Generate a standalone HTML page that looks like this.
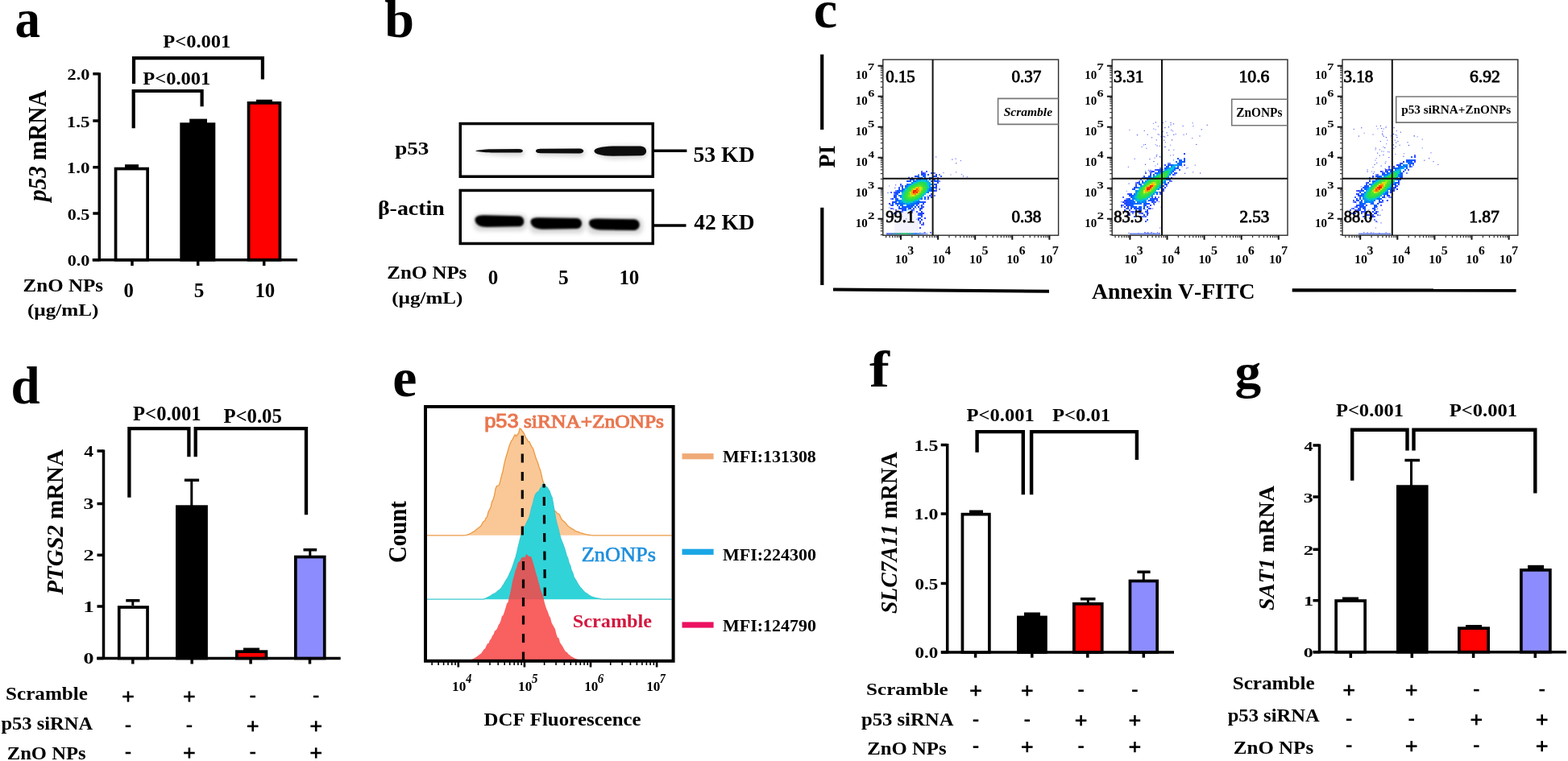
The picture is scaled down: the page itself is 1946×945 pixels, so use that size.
<!DOCTYPE html>
<html><head><meta charset="utf-8"><title>Figure</title>
<style>html,body{margin:0;padding:0;background:#fff;overflow:hidden}svg{display:block;filter:blur(0.4px)}text{font-kerning:none}</style>
</head><body>
<svg width="1946" height="945" viewBox="0 0 1946 945">
<rect width="1946" height="945" fill="#fff"/>
<g transform="translate(20.50,46.20)" fill="#000" ><text x="-2.03" y="0" font-size="67.98" font-family="'Liberation Serif','Times New Roman',serif" font-weight="bold" textLength="31.48" lengthAdjust="spacingAndGlyphs" style="white-space:pre">a</text></g>
<line x1="123.30" y1="90.20" x2="123.30" y2="324.20" stroke="#000" stroke-width="3.5" />
<line x1="115.30" y1="91.70" x2="123.30" y2="91.70" stroke="#000" stroke-width="3.5" />
<line x1="115.30" y1="150.00" x2="123.30" y2="150.00" stroke="#000" stroke-width="3.5" />
<line x1="115.30" y1="207.70" x2="123.30" y2="207.70" stroke="#000" stroke-width="3.5" />
<line x1="115.30" y1="265.00" x2="123.30" y2="265.00" stroke="#000" stroke-width="3.5" />
<line x1="115.30" y1="322.70" x2="123.30" y2="322.70" stroke="#000" stroke-width="3.5" />
<line x1="114.70" y1="322.70" x2="369.00" y2="322.70" stroke="#000" stroke-width="3.5" />
<line x1="164.00" y1="322.70" x2="164.00" y2="330.00" stroke="#000" stroke-width="3.5" />
<line x1="245.70" y1="322.70" x2="245.70" y2="330.00" stroke="#000" stroke-width="3.5" />
<line x1="327.70" y1="322.70" x2="327.70" y2="330.00" stroke="#000" stroke-width="3.5" />
<g transform="translate(84.50,99.20)" fill="#000" ><text x="-0.93" y="0" font-size="18.04" font-family="'Liberation Serif','Times New Roman',serif" font-weight="bold" textLength="27.78" lengthAdjust="spacingAndGlyphs" style="white-space:pre">2.0</text></g>
<g transform="translate(84.50,157.50)" fill="#000" ><text x="-1.84" y="0" font-size="18.18" font-family="'Liberation Serif','Times New Roman',serif" font-weight="bold" textLength="28.68" lengthAdjust="spacingAndGlyphs" style="white-space:pre">1.5</text></g>
<g transform="translate(84.50,215.20)" fill="#000" ><text x="-1.84" y="0" font-size="18.04" font-family="'Liberation Serif','Times New Roman',serif" font-weight="bold" textLength="28.71" lengthAdjust="spacingAndGlyphs" style="white-space:pre">1.0</text></g>
<g transform="translate(84.50,272.50)" fill="#000" ><text x="-0.84" y="0" font-size="18.04" font-family="'Liberation Serif','Times New Roman',serif" font-weight="bold" textLength="27.65" lengthAdjust="spacingAndGlyphs" style="white-space:pre">0.5</text></g>
<g transform="translate(84.50,330.20)" fill="#000" ><text x="-0.84" y="0" font-size="18.04" font-family="'Liberation Serif','Times New Roman',serif" font-weight="bold" textLength="27.69" lengthAdjust="spacingAndGlyphs" style="white-space:pre">0.0</text></g>
<rect x="143.55" y="209.55" width="39.60" height="113.15" fill="#fff" stroke="#000" stroke-width="3.7"/>
<rect x="225.15" y="154.15" width="40.30" height="168.55" fill="#000" stroke="#000" stroke-width="3.7"/>
<rect x="308.55" y="127.85" width="38.90" height="194.85" fill="#f00" stroke="#000" stroke-width="3.7"/>
<rect x="155.00" y="204.20" width="17.00" height="4.80" fill="#000"/>
<rect x="235.20" y="147.60" width="21.80" height="5.40" fill="#000"/>
<rect x="318.00" y="123.70" width="20.00" height="3.30" fill="#000"/>
<path d="M165.7,159.3 V113 H250.6 V132.3" fill="none" stroke="#000" stroke-width="4.2" stroke-linejoin="miter" stroke-linecap="butt" />
<path d="M166,103.9 V72.2 H325.9 V98.4" fill="none" stroke="#000" stroke-width="4.2" stroke-linejoin="miter" stroke-linecap="butt" />
<g transform="translate(202.70,58.90)" fill="#000" ><text x="-0.42" y="0" font-size="23.61" font-family="'Liberation Serif','Times New Roman',serif" font-weight="bold" textLength="83.99" lengthAdjust="spacingAndGlyphs" style="white-space:pre">P&lt;0.001</text></g>
<g transform="translate(177.70,104.90)" fill="#000" ><text x="-0.42" y="0" font-size="23.01" font-family="'Liberation Serif','Times New Roman',serif" font-weight="bold" textLength="83.99" lengthAdjust="spacingAndGlyphs" style="white-space:pre">P&lt;0.001</text></g>
<g transform="translate(57.00,252.00) rotate(-90)" fill="#000" ><text x="2.07" y="0" font-size="30.96" font-family="'Liberation Serif','Times New Roman',serif" font-weight="bold" font-style="italic" textLength="43.63" lengthAdjust="spacingAndGlyphs" style="white-space:pre">p53</text><text x="45.70" y="0" font-size="30.96" font-family="'Liberation Serif','Times New Roman',serif" font-weight="bold" textLength="94.51" lengthAdjust="spacingAndGlyphs" style="white-space:pre"> mRNA</text></g>
<g transform="translate(29.80,361.70)" fill="#000" ><text x="-1.20" y="0" font-size="23.41" font-family="'Liberation Serif','Times New Roman',serif" font-weight="bold" textLength="99.41" lengthAdjust="spacingAndGlyphs" style="white-space:pre">ZnO NPs</text></g>
<g transform="translate(35.00,391.90)" fill="#000" ><text x="-1.10" y="0" font-size="21.47" font-family="'Liberation Serif','Times New Roman',serif" font-weight="bold" textLength="88.51" lengthAdjust="spacingAndGlyphs" style="white-space:pre">(µg/mL)</text></g>
<g transform="translate(154.34,368.90)" fill="#000" ><text x="-0.94" y="0" font-size="24.81" font-family="'Liberation Serif','Times New Roman',serif" font-weight="bold" textLength="12.41" lengthAdjust="spacingAndGlyphs" style="white-space:pre">0</text></g>
<g transform="translate(241.87,368.90)" fill="#000" ><text x="-1.01" y="0" font-size="25.20" font-family="'Liberation Serif','Times New Roman',serif" font-weight="bold" textLength="12.60" lengthAdjust="spacingAndGlyphs" style="white-space:pre">5</text></g>
<g transform="translate(318.36,368.90)" fill="#000" ><text x="-1.99" y="0" font-size="24.81" font-family="'Liberation Serif','Times New Roman',serif" font-weight="bold" textLength="24.81" lengthAdjust="spacingAndGlyphs" style="white-space:pre">10</text></g>
<defs><filter id="bl10" x="-20%" y="-100%" width="140%" height="300%"><feGaussianBlur stdDeviation="1.0"/></filter><filter id="bl15" x="-20%" y="-100%" width="140%" height="300%"><feGaussianBlur stdDeviation="1.5"/></filter><filter id="bl6" x="-20%" y="-100%" width="140%" height="300%"><feGaussianBlur stdDeviation="0.6"/></filter></defs>
<g transform="translate(478.00,46.00)" fill="#000" ><text x="-0.84" y="0" font-size="64.86" font-family="'Liberation Serif','Times New Roman',serif" font-weight="bold" textLength="36.82" lengthAdjust="spacingAndGlyphs" style="white-space:pre">b</text></g>
<rect x="571.25" y="153.55" width="239.00" height="65.70" fill="none" stroke="#000" stroke-width="3.5"/>
<rect x="571.25" y="236.45" width="239.00" height="66.00" fill="none" stroke="#000" stroke-width="3.5"/>
<defs><filter id="bl25" x="-20%" y="-100%" width="140%" height="300%"><feGaussianBlur stdDeviation="2.5"/></filter></defs>
<g opacity="0.22" filter="url(#bl25)" fill="#555"><path d="M592,188 C610,186 640,185 648,186 C653,188 652,193 646,194 C630,195 610,193 592,190 Z"/><path d="M665,188 C670,185 715,185 724,186 C728,189 727,194 720,195 L672,194 C667,193 665,191 665,188 Z"/><path d="M737,188 C742,182 760,180 795,181 C805,183 806,195 797,197 L760,198 C745,196 738,192 737,188 Z"/><rect x="588" y="266" width="66" height="21" rx="8"/><rect x="657" y="269" width="69" height="21" rx="8"/><rect x="729" y="270" width="69" height="21" rx="8"/></g>
<g fill="#0c0c0c" filter="url(#bl6)"><path d="M590.5,187.3 C595,186.1 600,185.6 610,185.3 L644,184.9 C650.5,185 650.5,189.4 644,189.6 L610,189.5 C600,189.2 595,188.7 590.5,187.8 Z"/><path d="M665,187.4 C665,185.4 668,184.9 672,184.8 L719,184.4 C726,184.5 726,190.3 719,190.4 L672,190.2 C668,190.1 665,189.5 665,187.4 Z"/><path d="M737.5,187.5 C737.5,184 745,182 760,181.5 L795,181.6 C804,182.2 804.5,192.6 796,193.3 L760,193.8 C745,193.5 737.5,191 737.5,187.5 Z"/></g>
<g fill="#030303" filter="url(#bl10)"><path d="M589.5,272.5 C590,267.8 596,267 603,267.2 L644,268.2 C652,268.6 652.5,280.5 645,281.2 L604,282 C596,282 589.5,279 589.5,272.5 Z"/><path d="M658.5,275 C659,270.5 664,270 671,270.2 L716,271 C724,271.5 724,283.5 716,284 L674,284.8 C665,284.8 658.5,281 658.5,275 Z"/><path d="M731,276.5 C731.5,272 737,271.5 744,271.6 L787,272.2 C796,273 796,285 787,286 L746,285.6 C737,285.2 731,282 731,276.5 Z"/></g>
<line x1="812.00" y1="187.30" x2="852.40" y2="187.30" stroke="#000" stroke-width="3.5" />
<line x1="811.00" y1="280.00" x2="851.50" y2="280.00" stroke="#000" stroke-width="3.5" />
<g transform="translate(861.60,201.40)" fill="#000" ><text x="-1.11" y="0" font-size="27.19" font-family="'Liberation Serif','Times New Roman',serif" font-weight="bold" textLength="76.16" lengthAdjust="spacingAndGlyphs" style="white-space:pre">53 KD</text></g>
<g transform="translate(861.60,285.20)" fill="#000" ><text x="-0.37" y="0" font-size="27.03" font-family="'Liberation Serif','Times New Roman',serif" font-weight="bold" textLength="75.41" lengthAdjust="spacingAndGlyphs" style="white-space:pre">42 KD</text></g>
<g transform="translate(490.50,191.80)" fill="#000" ><text x="-0.34" y="0" font-size="23.86" font-family="'Liberation Serif','Times New Roman',serif" font-weight="bold" textLength="42.17" lengthAdjust="spacingAndGlyphs" style="white-space:pre">p53</text></g>
<g transform="translate(470.50,266.70)" fill="#000" ><text x="-1.58" y="0" font-size="24.43" font-family="'Liberation Serif','Times New Roman',serif" font-weight="bold" textLength="82.90" lengthAdjust="spacingAndGlyphs" style="white-space:pre">β-actin</text></g>
<g transform="translate(481.50,346.10)" fill="#000" ><text x="-1.19" y="0" font-size="23.56" font-family="'Liberation Serif','Times New Roman',serif" font-weight="bold" textLength="99.00" lengthAdjust="spacingAndGlyphs" style="white-space:pre">ZnO NPs</text></g>
<g transform="translate(487.30,376.50)" fill="#000" ><text x="-1.10" y="0" font-size="21.91" font-family="'Liberation Serif','Times New Roman',serif" font-weight="bold" textLength="88.20" lengthAdjust="spacingAndGlyphs" style="white-space:pre">(µg/mL)</text></g>
<g transform="translate(606.61,353.00)" fill="#000" ><text x="-0.95" y="0" font-size="24.96" font-family="'Liberation Serif','Times New Roman',serif" font-weight="bold" textLength="12.48" lengthAdjust="spacingAndGlyphs" style="white-space:pre">0</text></g>
<g transform="translate(694.13,353.00)" fill="#000" ><text x="-1.02" y="0" font-size="25.35" font-family="'Liberation Serif','Times New Roman',serif" font-weight="bold" textLength="12.68" lengthAdjust="spacingAndGlyphs" style="white-space:pre">5</text></g>
<g transform="translate(770.39,353.00)" fill="#000" ><text x="-2.00" y="0" font-size="24.96" font-family="'Liberation Serif','Times New Roman',serif" font-weight="bold" textLength="24.96" lengthAdjust="spacingAndGlyphs" style="white-space:pre">10</text></g>
<g transform="translate(1012.00,33.80)" fill="#000" ><text x="-2.27" y="0" font-size="66.22" font-family="'Liberation Serif','Times New Roman',serif" font-weight="bold" textLength="29.42" lengthAdjust="spacingAndGlyphs" style="white-space:pre">c</text></g>
<line x1="1020.20" y1="67.60" x2="1020.20" y2="161.00" stroke="#000" stroke-width="4.2" />
<line x1="1020.30" y1="257.80" x2="1020.30" y2="354.00" stroke="#000" stroke-width="4.2" />
<g transform="translate(1036.00,208.00) rotate(-90)" fill="#000" ><text x="-0.48" y="0" font-size="29.63" font-family="'Liberation Serif','Times New Roman',serif" font-weight="bold" textLength="27.92" lengthAdjust="spacingAndGlyphs" style="white-space:pre">PI</text></g>
<path d="M1034,359.5 L1302,361.8" stroke="#000" stroke-width="3.9" fill="none"/>
<path d="M1603.7,360.3 L1881.6,360.6" stroke="#000" stroke-width="4.2" fill="none"/>
<g transform="translate(1355.20,370.50)" fill="#000" ><text x="-0.27" y="0" font-size="26.66" font-family="'Liberation Serif','Times New Roman',serif" font-weight="bold" textLength="202.48" lengthAdjust="spacingAndGlyphs" style="white-space:pre">Annexin V-FITC</text></g>
<defs><linearGradient id="bgl" x1="0" x2="1" y1="0" y2="0"><stop offset="0" stop-color="#5060ff"/><stop offset="0.45" stop-color="#20c060"/><stop offset="0.7" stop-color="#2080e0"/><stop offset="1" stop-color="#3040ff" stop-opacity="0.3"/></linearGradient></defs>
<rect x="1110" y="262" width="30" height="28" fill="#f2f3fd"/>
<rect x="1121" y="251.5" width="14" height="11" fill="#c8f0ff"/>
<rect x="1100" y="289.3" width="52" height="2.2" fill="url(#bgl)"/>
<rect x="1402" y="289.5" width="38" height="1.8" fill="#4a6cf0" opacity="0.8"/>
<rect x="1686" y="289.5" width="40" height="1.8" fill="#4a6cf0" opacity="0.8"/>
<g><rect x="1112.9" y="249.5" width="1.1" height="1.1" fill="#7080ff"/><rect x="1103.7" y="252.0" width="1.1" height="1.1" fill="#5a6aff"/><rect x="1136.7" y="258.2" width="1.1" height="1.1" fill="#5a6aff"/><rect x="1139.9" y="250.7" width="1.1" height="1.1" fill="#4050ff"/><rect x="1101.4" y="238.9" width="1.1" height="1.1" fill="#4050ff"/><rect x="1118.4" y="238.2" width="1.1" height="1.1" fill="#7080ff"/><rect x="1119.0" y="231.3" width="1.1" height="1.1" fill="#5a6aff"/><rect x="1111.1" y="229.2" width="1.1" height="1.1" fill="#4050ff"/><rect x="1138.5" y="247.8" width="1.1" height="1.1" fill="#5a6aff"/><rect x="1110.3" y="232.8" width="1.1" height="1.1" fill="#3040e0"/><rect x="1104.9" y="253.4" width="1.1" height="1.1" fill="#5a6aff"/><rect x="1119.5" y="234.1" width="1.1" height="1.1" fill="#4050ff"/><rect x="1119.1" y="247.6" width="1.1" height="1.1" fill="#4050ff"/><rect x="1126.8" y="234.9" width="1.1" height="1.1" fill="#5a6aff"/><rect x="1126.6" y="244.8" width="1.1" height="1.1" fill="#4050ff"/><rect x="1108.0" y="258.6" width="1.1" height="1.1" fill="#7080ff"/><rect x="1132.4" y="245.9" width="1.1" height="1.1" fill="#4050ff"/><rect x="1137.3" y="271.7" width="1.1" height="1.1" fill="#4050ff"/><rect x="1125.6" y="247.8" width="1.1" height="1.1" fill="#5a6aff"/><rect x="1132.0" y="235.6" width="1.1" height="1.1" fill="#4050ff"/><rect x="1129.1" y="246.9" width="1.1" height="1.1" fill="#7080ff"/><rect x="1130.4" y="239.0" width="1.1" height="1.1" fill="#5a6aff"/><rect x="1129.4" y="243.3" width="1.1" height="1.1" fill="#7080ff"/><rect x="1132.5" y="237.8" width="1.1" height="1.1" fill="#5a6aff"/><rect x="1121.4" y="247.5" width="1.1" height="1.1" fill="#5a6aff"/><rect x="1118.0" y="250.7" width="1.1" height="1.1" fill="#7080ff"/><rect x="1121.5" y="249.0" width="1.1" height="1.1" fill="#3040e0"/><rect x="1155.0" y="220.5" width="1.1" height="1.1" fill="#3040e0"/><rect x="1132.8" y="245.0" width="1.1" height="1.1" fill="#5a6aff"/><rect x="1108.4" y="259.5" width="1.1" height="1.1" fill="#4050ff"/><rect x="1137.6" y="246.8" width="1.1" height="1.1" fill="#7080ff"/><rect x="1128.7" y="265.6" width="1.1" height="1.1" fill="#3040e0"/><rect x="1136.7" y="234.6" width="1.1" height="1.1" fill="#4050ff"/><rect x="1145.6" y="253.5" width="1.1" height="1.1" fill="#5a6aff"/><rect x="1143.4" y="246.1" width="1.1" height="1.1" fill="#7080ff"/><rect x="1143.0" y="256.4" width="1.1" height="1.1" fill="#5a6aff"/><rect x="1135.9" y="239.3" width="1.1" height="1.1" fill="#5a6aff"/><rect x="1126.2" y="253.0" width="1.1" height="1.1" fill="#5a6aff"/><rect x="1128.7" y="238.0" width="1.1" height="1.1" fill="#5a6aff"/><rect x="1124.6" y="234.0" width="1.1" height="1.1" fill="#7080ff"/><rect x="1118.3" y="237.4" width="1.1" height="1.1" fill="#4050ff"/><rect x="1143.0" y="254.1" width="1.1" height="1.1" fill="#3040e0"/><rect x="1131.6" y="263.7" width="1.1" height="1.1" fill="#3040e0"/><rect x="1103.3" y="257.4" width="1.1" height="1.1" fill="#7080ff"/><rect x="1127.7" y="252.2" width="1.1" height="1.1" fill="#4050ff"/><rect x="1141.2" y="254.8" width="1.1" height="1.1" fill="#4050ff"/><rect x="1124.1" y="271.3" width="1.1" height="1.1" fill="#5a6aff"/><rect x="1130.0" y="240.5" width="1.1" height="1.1" fill="#7080ff"/><rect x="1125.3" y="246.4" width="1.1" height="1.1" fill="#5a6aff"/><rect x="1126.6" y="259.5" width="1.1" height="1.1" fill="#5a6aff"/><rect x="1136.4" y="248.6" width="1.1" height="1.1" fill="#7080ff"/><rect x="1150.3" y="242.9" width="1.1" height="1.1" fill="#5a6aff"/><rect x="1103.2" y="230.4" width="1.1" height="1.1" fill="#7080ff"/><rect x="1148.4" y="235.0" width="1.1" height="1.1" fill="#4050ff"/><rect x="1149.7" y="247.3" width="1.1" height="1.1" fill="#7080ff"/><rect x="1141.0" y="249.2" width="1.1" height="1.1" fill="#5a6aff"/><rect x="1135.5" y="245.0" width="1.1" height="1.1" fill="#3040e0"/><rect x="1127.5" y="219.3" width="1.1" height="1.1" fill="#5a6aff"/><rect x="1138.3" y="219.3" width="1.1" height="1.1" fill="#3040e0"/></g>
<g><rect x="1147.3" y="288.4" width="1.1" height="1.1" fill="#4050ff"/><rect x="1154.8" y="288.7" width="1.1" height="1.1" fill="#4050ff"/><rect x="1147.1" y="288.4" width="1.1" height="1.1" fill="#7080ff"/><rect x="1136.0" y="289.0" width="1.1" height="1.1" fill="#5a6aff"/><rect x="1154.0" y="288.1" width="1.1" height="1.1" fill="#4050ff"/><rect x="1141.3" y="288.3" width="1.1" height="1.1" fill="#7080ff"/><rect x="1146.3" y="288.2" width="1.1" height="1.1" fill="#5a6aff"/><rect x="1135.5" y="289.1" width="1.1" height="1.1" fill="#7080ff"/><rect x="1147.6" y="288.3" width="1.1" height="1.1" fill="#5a6aff"/><rect x="1154.6" y="288.1" width="1.1" height="1.1" fill="#4050ff"/></g>
<g><rect x="1170.4" y="214.0" width="1.1" height="1.1" fill="#5a6aff"/><rect x="1186.1" y="213.3" width="1.1" height="1.1" fill="#5a6aff"/><rect x="1185.6" y="196.6" width="1.1" height="1.1" fill="#4050ff"/><rect x="1181.3" y="197.5" width="1.1" height="1.1" fill="#3040e0"/><rect x="1161.2" y="194.4" width="1.1" height="1.1" fill="#4050ff"/><rect x="1199.7" y="219.2" width="1.1" height="1.1" fill="#4050ff"/><rect x="1194.9" y="218.3" width="1.1" height="1.1" fill="#3040e0"/><rect x="1193.1" y="216.1" width="1.1" height="1.1" fill="#5a6aff"/><rect x="1191.8" y="199.0" width="1.1" height="1.1" fill="#5a6aff"/><rect x="1179.5" y="216.4" width="1.1" height="1.1" fill="#7080ff"/><rect x="1186.8" y="221.1" width="1.1" height="1.1" fill="#3040e0"/><rect x="1186.2" y="202.1" width="1.1" height="1.1" fill="#3040e0"/></g>
<g shape-rendering="crispEdges"><rect x="1142.8" y="212" width="2" height="2" fill="#5060ff"/><rect x="1148.8" y="212" width="2" height="2" fill="#3a5aff"/><rect x="1142.8" y="214" width="4" height="2" fill="#2a40ff"/><rect x="1146.8" y="214" width="2" height="2" fill="#5060ff"/><rect x="1154.8" y="214" width="2" height="2" fill="#3a5aff"/><rect x="1156.8" y="214" width="2" height="2" fill="#2a40ff"/><rect x="1158.8" y="214" width="2" height="2" fill="#6a80ff"/><rect x="1138.8" y="216" width="2" height="2" fill="#6a80ff"/><rect x="1142.8" y="216" width="2" height="2" fill="#2045ff"/><rect x="1144.8" y="216" width="2" height="2" fill="#1355ff"/><rect x="1146.8" y="216" width="2" height="2" fill="#184eff"/><rect x="1150.8" y="216" width="2" height="2" fill="#1751ff"/><rect x="1160.8" y="216" width="2" height="2" fill="#2a40ff"/><rect x="1164.8" y="216" width="2" height="2" fill="#6a80ff"/><rect x="1134.8" y="218" width="2" height="2" fill="#1f47ff"/><rect x="1136.8" y="218" width="2" height="2" fill="#1553ff"/><rect x="1138.8" y="218" width="2" height="2" fill="#1355ff"/><rect x="1144.8" y="218" width="2" height="2" fill="#1651ff"/><rect x="1146.8" y="218" width="2" height="2" fill="#0c5eff"/><rect x="1156.8" y="218" width="2" height="2" fill="#1356ff"/><rect x="1158.8" y="218" width="2" height="2" fill="#184fff"/><rect x="1160.8" y="218" width="2" height="2" fill="#2144ff"/><rect x="1166.8" y="218" width="2" height="2" fill="#3a5aff"/><rect x="1126.8" y="220" width="2" height="2" fill="#5060ff"/><rect x="1130.8" y="220" width="2" height="2" fill="#1e47ff"/><rect x="1138.8" y="220" width="2" height="2" fill="#0b5fff"/><rect x="1140.8" y="220" width="2" height="2" fill="#1059ff"/><rect x="1142.8" y="220" width="2" height="2" fill="#0567ff"/><rect x="1146.8" y="220" width="2" height="2" fill="#0666ff"/><rect x="1152.8" y="220" width="2" height="2" fill="#1157ff"/><rect x="1154.8" y="220" width="2" height="2" fill="#1454ff"/><rect x="1162.8" y="220" width="2" height="2" fill="#3a5aff"/><rect x="1128.8" y="222" width="2" height="2" fill="#2045ff"/><rect x="1130.8" y="222" width="2" height="2" fill="#1750ff"/><rect x="1132.8" y="222" width="2" height="2" fill="#1257ff"/><rect x="1136.8" y="222" width="2" height="2" fill="#0071fe"/><rect x="1138.8" y="222" width="2" height="2" fill="#007dfa"/><rect x="1140.8" y="222" width="2" height="2" fill="#0070fe"/><rect x="1142.8" y="222" width="2" height="2" fill="#00abed"/><rect x="1144.8" y="222" width="2" height="2" fill="#00a7ef"/><rect x="1146.8" y="222" width="2" height="2" fill="#00a3f0"/><rect x="1148.8" y="222" width="2" height="2" fill="#0086f8"/><rect x="1152.8" y="222" width="2" height="2" fill="#026aff"/><rect x="1156.8" y="222" width="2" height="2" fill="#0e5cff"/><rect x="1158.8" y="222" width="2" height="2" fill="#194eff"/><rect x="1162.8" y="222" width="2" height="2" fill="#2341ff"/><rect x="1124.8" y="224" width="2" height="2" fill="#1c49ff"/><rect x="1126.8" y="224" width="2" height="2" fill="#1552ff"/><rect x="1128.8" y="224" width="2" height="2" fill="#1256ff"/><rect x="1132.8" y="224" width="2" height="2" fill="#0961ff"/><rect x="1134.8" y="224" width="2" height="2" fill="#016cff"/><rect x="1136.8" y="224" width="2" height="2" fill="#00a7ef"/><rect x="1138.8" y="224" width="2" height="2" fill="#00b9e9"/><rect x="1140.8" y="224" width="2" height="2" fill="#02c9d8"/><rect x="1142.8" y="224" width="2" height="2" fill="#0ed1a4"/><rect x="1144.8" y="224" width="2" height="2" fill="#05cbca"/><rect x="1146.8" y="224" width="2" height="2" fill="#00c8e5"/><rect x="1148.8" y="224" width="2" height="2" fill="#00aced"/><rect x="1150.8" y="224" width="2" height="2" fill="#00b5eb"/><rect x="1154.8" y="224" width="2" height="2" fill="#0962ff"/><rect x="1158.8" y="224" width="2" height="2" fill="#1454ff"/><rect x="1160.8" y="224" width="2" height="2" fill="#1750ff"/><rect x="1162.8" y="224" width="2" height="2" fill="#1c4aff"/><rect x="1164.8" y="224" width="2" height="2" fill="#6a80ff"/><rect x="1130.8" y="226" width="2" height="2" fill="#0073fd"/><rect x="1132.8" y="226" width="2" height="2" fill="#00b8ea"/><rect x="1134.8" y="226" width="2" height="2" fill="#04cbd0"/><rect x="1136.8" y="226" width="2" height="2" fill="#0bcfb0"/><rect x="1138.8" y="226" width="2" height="2" fill="#24dd53"/><rect x="1140.8" y="226" width="2" height="2" fill="#25dd52"/><rect x="1142.8" y="226" width="2" height="2" fill="#1fdc58"/><rect x="1144.8" y="226" width="2" height="2" fill="#1edc59"/><rect x="1146.8" y="226" width="2" height="2" fill="#1cda62"/><rect x="1148.8" y="226" width="2" height="2" fill="#10d29a"/><rect x="1150.8" y="226" width="2" height="2" fill="#00b3eb"/><rect x="1152.8" y="226" width="2" height="2" fill="#00aced"/><rect x="1162.8" y="226" width="2" height="2" fill="#1f46ff"/><rect x="1116.8" y="228" width="2" height="2" fill="#3a5aff"/><rect x="1124.8" y="228" width="2" height="2" fill="#0d5dff"/><rect x="1126.8" y="228" width="2" height="2" fill="#007cfa"/><rect x="1128.8" y="228" width="2" height="2" fill="#0082f9"/><rect x="1130.8" y="228" width="2" height="2" fill="#01c8e1"/><rect x="1132.8" y="228" width="2" height="2" fill="#15d680"/><rect x="1134.8" y="228" width="2" height="2" fill="#25dd52"/><rect x="1136.8" y="228" width="2" height="2" fill="#37e140"/><rect x="1138.8" y="228" width="2" height="2" fill="#3ee239"/><rect x="1140.8" y="228" width="2" height="2" fill="#35e042"/><rect x="1142.8" y="228" width="2" height="2" fill="#3fe238"/><rect x="1144.8" y="228" width="2" height="2" fill="#2ddf4a"/><rect x="1146.8" y="228" width="2" height="2" fill="#25dd52"/><rect x="1148.8" y="228" width="2" height="2" fill="#0fd29e"/><rect x="1150.8" y="228" width="2" height="2" fill="#00c4e7"/><rect x="1152.8" y="228" width="2" height="2" fill="#00a3f0"/><rect x="1154.8" y="228" width="2" height="2" fill="#0082f9"/><rect x="1158.8" y="228" width="2" height="2" fill="#1454ff"/><rect x="1160.8" y="228" width="2" height="2" fill="#1d49ff"/><rect x="1116.8" y="230" width="2" height="2" fill="#6a80ff"/><rect x="1118.8" y="230" width="2" height="2" fill="#1454ff"/><rect x="1122.8" y="230" width="2" height="2" fill="#0f5bff"/><rect x="1124.8" y="230" width="2" height="2" fill="#007bfb"/><rect x="1126.8" y="230" width="2" height="2" fill="#00aded"/><rect x="1128.8" y="230" width="2" height="2" fill="#13d589"/><rect x="1130.8" y="230" width="2" height="2" fill="#20dc57"/><rect x="1132.8" y="230" width="2" height="2" fill="#2fdf48"/><rect x="1134.8" y="230" width="2" height="2" fill="#3ee239"/><rect x="1136.8" y="230" width="2" height="2" fill="#47e430"/><rect x="1138.8" y="230" width="2" height="2" fill="#5ee626"/><rect x="1140.8" y="230" width="2" height="2" fill="#7be622"/><rect x="1142.8" y="230" width="2" height="2" fill="#43e334"/><rect x="1144.8" y="230" width="2" height="2" fill="#37e140"/><rect x="1146.8" y="230" width="2" height="2" fill="#2fdf48"/><rect x="1148.8" y="230" width="2" height="2" fill="#21dc56"/><rect x="1150.8" y="230" width="2" height="2" fill="#01c8df"/><rect x="1152.8" y="230" width="2" height="2" fill="#0091f5"/><rect x="1156.8" y="230" width="2" height="2" fill="#0c5eff"/><rect x="1160.8" y="230" width="2" height="2" fill="#2045ff"/><rect x="1114.8" y="232" width="2" height="2" fill="#3a5aff"/><rect x="1118.8" y="232" width="2" height="2" fill="#1454ff"/><rect x="1122.8" y="232" width="2" height="2" fill="#0087f7"/><rect x="1124.8" y="232" width="2" height="2" fill="#00a7ef"/><rect x="1126.8" y="232" width="2" height="2" fill="#1bda67"/><rect x="1128.8" y="232" width="2" height="2" fill="#2edf49"/><rect x="1130.8" y="232" width="2" height="2" fill="#42e335"/><rect x="1132.8" y="232" width="2" height="2" fill="#4fe528"/><rect x="1134.8" y="232" width="2" height="2" fill="#83e621"/><rect x="1136.8" y="232" width="2" height="2" fill="#f4c70e"/><rect x="1138.8" y="232" width="2" height="2" fill="#f7ab09"/><rect x="1140.8" y="232" width="2" height="2" fill="#d0e617"/><rect x="1142.8" y="232" width="2" height="2" fill="#a0e61d"/><rect x="1144.8" y="232" width="2" height="2" fill="#4ae42d"/><rect x="1146.8" y="232" width="2" height="2" fill="#2fdf48"/><rect x="1148.8" y="232" width="2" height="2" fill="#24dd53"/><rect x="1150.8" y="232" width="2" height="2" fill="#0cd0ac"/><rect x="1152.8" y="232" width="2" height="2" fill="#009ff1"/><rect x="1154.8" y="232" width="2" height="2" fill="#0b5fff"/><rect x="1156.8" y="232" width="2" height="2" fill="#0e5cff"/><rect x="1158.8" y="232" width="2" height="2" fill="#1454ff"/><rect x="1160.8" y="232" width="2" height="2" fill="#2143ff"/><rect x="1114.8" y="234" width="2" height="2" fill="#1651ff"/><rect x="1118.8" y="234" width="2" height="2" fill="#0e5bff"/><rect x="1120.8" y="234" width="2" height="2" fill="#016cff"/><rect x="1122.8" y="234" width="2" height="2" fill="#01c8e1"/><rect x="1124.8" y="234" width="2" height="2" fill="#12d48f"/><rect x="1126.8" y="234" width="2" height="2" fill="#26dd51"/><rect x="1128.8" y="234" width="2" height="2" fill="#3ae13d"/><rect x="1130.8" y="234" width="2" height="2" fill="#66e625"/><rect x="1132.8" y="234" width="2" height="2" fill="#f2d210"/><rect x="1134.8" y="234" width="2" height="2" fill="#f5bf0d"/><rect x="1136.8" y="234" width="2" height="2" fill="#f74800"/><rect x="1138.8" y="234" width="2" height="2" fill="#f9a307"/><rect x="1140.8" y="234" width="2" height="2" fill="#d0e617"/><rect x="1142.8" y="234" width="2" height="2" fill="#b1e61b"/><rect x="1144.8" y="234" width="2" height="2" fill="#41e336"/><rect x="1146.8" y="234" width="2" height="2" fill="#32e045"/><rect x="1148.8" y="234" width="2" height="2" fill="#15d682"/><rect x="1150.8" y="234" width="2" height="2" fill="#00a2f0"/><rect x="1152.8" y="234" width="2" height="2" fill="#016cff"/><rect x="1154.8" y="234" width="2" height="2" fill="#0863ff"/><rect x="1156.8" y="234" width="2" height="2" fill="#1059ff"/><rect x="1160.8" y="234" width="2" height="2" fill="#6a80ff"/><rect x="1164.8" y="234" width="2" height="2" fill="#6a80ff"/><rect x="1110.8" y="236" width="2" height="2" fill="#6a80ff"/><rect x="1112.8" y="236" width="2" height="2" fill="#1750ff"/><rect x="1114.8" y="236" width="2" height="2" fill="#1157ff"/><rect x="1116.8" y="236" width="2" height="2" fill="#0d5dff"/><rect x="1118.8" y="236" width="2" height="2" fill="#0666ff"/><rect x="1120.8" y="236" width="2" height="2" fill="#00b2ec"/><rect x="1122.8" y="236" width="2" height="2" fill="#12d48e"/><rect x="1124.8" y="236" width="2" height="2" fill="#30df47"/><rect x="1126.8" y="236" width="2" height="2" fill="#3ae13d"/><rect x="1128.8" y="236" width="2" height="2" fill="#4fe528"/><rect x="1130.8" y="236" width="2" height="2" fill="#f7ad09"/><rect x="1132.8" y="236" width="2" height="2" fill="#f22d00"/><rect x="1134.8" y="236" width="2" height="2" fill="#f02000"/><rect x="1136.8" y="236" width="2" height="2" fill="#fc6800"/><rect x="1138.8" y="236" width="2" height="2" fill="#fc8702"/><rect x="1140.8" y="236" width="2" height="2" fill="#f3c90e"/><rect x="1142.8" y="236" width="2" height="2" fill="#4de52a"/><rect x="1144.8" y="236" width="2" height="2" fill="#37e140"/><rect x="1146.8" y="236" width="2" height="2" fill="#20dc57"/><rect x="1148.8" y="236" width="2" height="2" fill="#09cebb"/><rect x="1150.8" y="236" width="2" height="2" fill="#0098f3"/><rect x="1152.8" y="236" width="2" height="2" fill="#026aff"/><rect x="1154.8" y="236" width="2" height="2" fill="#0c5dff"/><rect x="1156.8" y="236" width="2" height="2" fill="#1b4bff"/><rect x="1158.8" y="236" width="2" height="2" fill="#1a4dff"/><rect x="1160.8" y="236" width="2" height="2" fill="#5060ff"/><rect x="1104.8" y="238" width="2" height="2" fill="#5060ff"/><rect x="1108.8" y="238" width="2" height="2" fill="#5060ff"/><rect x="1110.8" y="238" width="2" height="2" fill="#2243ff"/><rect x="1112.8" y="238" width="2" height="2" fill="#1553ff"/><rect x="1114.8" y="238" width="2" height="2" fill="#1355ff"/><rect x="1118.8" y="238" width="2" height="2" fill="#00aeed"/><rect x="1120.8" y="238" width="2" height="2" fill="#10d398"/><rect x="1122.8" y="238" width="2" height="2" fill="#23dd54"/><rect x="1124.8" y="238" width="2" height="2" fill="#31df46"/><rect x="1126.8" y="238" width="2" height="2" fill="#62e625"/><rect x="1128.8" y="238" width="2" height="2" fill="#c0e619"/><rect x="1130.8" y="238" width="2" height="2" fill="#fa9c06"/><rect x="1132.8" y="238" width="2" height="2" fill="#f01e00"/><rect x="1134.8" y="238" width="2" height="2" fill="#fb6100"/><rect x="1136.8" y="238" width="2" height="2" fill="#f43700"/><rect x="1138.8" y="238" width="2" height="2" fill="#f5bc0c"/><rect x="1140.8" y="238" width="2" height="2" fill="#76e623"/><rect x="1142.8" y="238" width="2" height="2" fill="#46e431"/><rect x="1144.8" y="238" width="2" height="2" fill="#25dd52"/><rect x="1146.8" y="238" width="2" height="2" fill="#13d589"/><rect x="1148.8" y="238" width="2" height="2" fill="#00a7ef"/><rect x="1150.8" y="238" width="2" height="2" fill="#006dff"/><rect x="1108.8" y="240" width="2" height="2" fill="#6a80ff"/><rect x="1110.8" y="240" width="2" height="2" fill="#1553ff"/><rect x="1112.8" y="240" width="2" height="2" fill="#0d5dff"/><rect x="1118.8" y="240" width="2" height="2" fill="#00c6e6"/><rect x="1120.8" y="240" width="2" height="2" fill="#12d491"/><rect x="1122.8" y="240" width="2" height="2" fill="#33e044"/><rect x="1124.8" y="240" width="2" height="2" fill="#40e237"/><rect x="1126.8" y="240" width="2" height="2" fill="#4fe528"/><rect x="1128.8" y="240" width="2" height="2" fill="#b7e61b"/><rect x="1130.8" y="240" width="2" height="2" fill="#f6b60b"/><rect x="1132.8" y="240" width="2" height="2" fill="#fa9a06"/><rect x="1134.8" y="240" width="2" height="2" fill="#fc8702"/><rect x="1136.8" y="240" width="2" height="2" fill="#c8e618"/><rect x="1138.8" y="240" width="2" height="2" fill="#81e621"/><rect x="1140.8" y="240" width="2" height="2" fill="#42e335"/><rect x="1142.8" y="240" width="2" height="2" fill="#27dd50"/><rect x="1144.8" y="240" width="2" height="2" fill="#0dd0a7"/><rect x="1146.8" y="240" width="2" height="2" fill="#00c0e8"/><rect x="1154.8" y="240" width="2" height="2" fill="#1c4aff"/><rect x="1108.8" y="242" width="2" height="2" fill="#1a4dff"/><rect x="1110.8" y="242" width="2" height="2" fill="#1750ff"/><rect x="1114.8" y="242" width="2" height="2" fill="#006dff"/><rect x="1116.8" y="242" width="2" height="2" fill="#0079fb"/><rect x="1118.8" y="242" width="2" height="2" fill="#09ceb7"/><rect x="1120.8" y="242" width="2" height="2" fill="#19d870"/><rect x="1122.8" y="242" width="2" height="2" fill="#30df47"/><rect x="1124.8" y="242" width="2" height="2" fill="#3fe238"/><rect x="1126.8" y="242" width="2" height="2" fill="#86e621"/><rect x="1128.8" y="242" width="2" height="2" fill="#a0e61d"/><rect x="1130.8" y="242" width="2" height="2" fill="#d6e617"/><rect x="1132.8" y="242" width="2" height="2" fill="#dae616"/><rect x="1134.8" y="242" width="2" height="2" fill="#7ce622"/><rect x="1136.8" y="242" width="2" height="2" fill="#62e625"/><rect x="1138.8" y="242" width="2" height="2" fill="#39e13e"/><rect x="1140.8" y="242" width="2" height="2" fill="#25dd52"/><rect x="1142.8" y="242" width="2" height="2" fill="#16d77b"/><rect x="1144.8" y="242" width="2" height="2" fill="#00b9ea"/><rect x="1152.8" y="242" width="2" height="2" fill="#184fff"/><rect x="1154.8" y="242" width="2" height="2" fill="#6a80ff"/><rect x="1158.8" y="242" width="2" height="2" fill="#6a80ff"/><rect x="1108.8" y="244" width="2" height="2" fill="#2045ff"/><rect x="1110.8" y="244" width="2" height="2" fill="#1256ff"/><rect x="1116.8" y="244" width="2" height="2" fill="#0090f5"/><rect x="1118.8" y="244" width="2" height="2" fill="#01c8e0"/><rect x="1120.8" y="244" width="2" height="2" fill="#25dd52"/><rect x="1122.8" y="244" width="2" height="2" fill="#27dd50"/><rect x="1124.8" y="244" width="2" height="2" fill="#40e237"/><rect x="1126.8" y="244" width="2" height="2" fill="#4ce52b"/><rect x="1128.8" y="244" width="2" height="2" fill="#72e623"/><rect x="1130.8" y="244" width="2" height="2" fill="#4ae42d"/><rect x="1132.8" y="244" width="2" height="2" fill="#46e431"/><rect x="1134.8" y="244" width="2" height="2" fill="#44e333"/><rect x="1136.8" y="244" width="2" height="2" fill="#2ddf4a"/><rect x="1138.8" y="244" width="2" height="2" fill="#26dd51"/><rect x="1140.8" y="244" width="2" height="2" fill="#17d777"/><rect x="1142.8" y="244" width="2" height="2" fill="#00a3f0"/><rect x="1146.8" y="244" width="2" height="2" fill="#0b5fff"/><rect x="1150.8" y="244" width="2" height="2" fill="#1751ff"/><rect x="1154.8" y="244" width="2" height="2" fill="#2a40ff"/><rect x="1104.8" y="246" width="2" height="2" fill="#6a80ff"/><rect x="1106.8" y="246" width="2" height="2" fill="#194dff"/><rect x="1110.8" y="246" width="2" height="2" fill="#1158ff"/><rect x="1112.8" y="246" width="2" height="2" fill="#0d5cff"/><rect x="1118.8" y="246" width="2" height="2" fill="#00c7e6"/><rect x="1120.8" y="246" width="2" height="2" fill="#16d67d"/><rect x="1122.8" y="246" width="2" height="2" fill="#22dc55"/><rect x="1124.8" y="246" width="2" height="2" fill="#32e045"/><rect x="1126.8" y="246" width="2" height="2" fill="#39e13e"/><rect x="1128.8" y="246" width="2" height="2" fill="#34e043"/><rect x="1130.8" y="246" width="2" height="2" fill="#31df46"/><rect x="1132.8" y="246" width="2" height="2" fill="#34e043"/><rect x="1134.8" y="246" width="2" height="2" fill="#23dd54"/><rect x="1136.8" y="246" width="2" height="2" fill="#1edc59"/><rect x="1138.8" y="246" width="2" height="2" fill="#09ceb7"/><rect x="1140.8" y="246" width="2" height="2" fill="#00a5ef"/><rect x="1142.8" y="246" width="2" height="2" fill="#0468ff"/><rect x="1146.8" y="246" width="2" height="2" fill="#184fff"/><rect x="1150.8" y="246" width="2" height="2" fill="#5060ff"/><rect x="1110.8" y="248" width="2" height="2" fill="#0e5cff"/><rect x="1112.8" y="248" width="2" height="2" fill="#0a61ff"/><rect x="1114.8" y="248" width="2" height="2" fill="#0080f9"/><rect x="1116.8" y="248" width="2" height="2" fill="#008ef6"/><rect x="1118.8" y="248" width="2" height="2" fill="#01c8e0"/><rect x="1120.8" y="248" width="2" height="2" fill="#0fd29d"/><rect x="1122.8" y="248" width="2" height="2" fill="#13d58a"/><rect x="1124.8" y="248" width="2" height="2" fill="#1bda67"/><rect x="1126.8" y="248" width="2" height="2" fill="#1ddb5c"/><rect x="1128.8" y="248" width="2" height="2" fill="#26dd51"/><rect x="1130.8" y="248" width="2" height="2" fill="#16d77c"/><rect x="1132.8" y="248" width="2" height="2" fill="#1bda63"/><rect x="1134.8" y="248" width="2" height="2" fill="#00bbe9"/><rect x="1136.8" y="248" width="2" height="2" fill="#00bce9"/><rect x="1138.8" y="248" width="2" height="2" fill="#0091f5"/><rect x="1106.8" y="250" width="2" height="2" fill="#1f47ff"/><rect x="1108.8" y="250" width="2" height="2" fill="#194dff"/><rect x="1110.8" y="250" width="2" height="2" fill="#1453ff"/><rect x="1114.8" y="250" width="2" height="2" fill="#0665ff"/><rect x="1116.8" y="250" width="2" height="2" fill="#0091f5"/><rect x="1118.8" y="250" width="2" height="2" fill="#0093f4"/><rect x="1120.8" y="250" width="2" height="2" fill="#06ccc6"/><rect x="1122.8" y="250" width="2" height="2" fill="#07cdc1"/><rect x="1124.8" y="250" width="2" height="2" fill="#11d393"/><rect x="1126.8" y="250" width="2" height="2" fill="#08cdbc"/><rect x="1128.8" y="250" width="2" height="2" fill="#09ceb8"/><rect x="1130.8" y="250" width="2" height="2" fill="#06ccc8"/><rect x="1132.8" y="250" width="2" height="2" fill="#0093f4"/><rect x="1134.8" y="250" width="2" height="2" fill="#008ff5"/><rect x="1136.8" y="250" width="4" height="2" fill="#0863ff"/><rect x="1140.8" y="250" width="2" height="2" fill="#0c5eff"/><rect x="1142.8" y="250" width="2" height="2" fill="#0d5dff"/><rect x="1144.8" y="250" width="2" height="2" fill="#1454ff"/><rect x="1146.8" y="250" width="2" height="2" fill="#2a40ff"/><rect x="1102.8" y="252" width="2" height="2" fill="#2a40ff"/><rect x="1106.8" y="252" width="2" height="2" fill="#1751ff"/><rect x="1110.8" y="252" width="2" height="2" fill="#0d5cff"/><rect x="1112.8" y="252" width="2" height="2" fill="#0a61ff"/><rect x="1114.8" y="252" width="2" height="2" fill="#0a60ff"/><rect x="1116.8" y="252" width="2" height="2" fill="#006ffe"/><rect x="1118.8" y="252" width="2" height="2" fill="#0074fd"/><rect x="1120.8" y="252" width="2" height="2" fill="#007ffa"/><rect x="1122.8" y="252" width="2" height="2" fill="#00a7ef"/><rect x="1124.8" y="252" width="2" height="2" fill="#00a5ef"/><rect x="1126.8" y="252" width="2" height="2" fill="#00aaee"/><rect x="1128.8" y="252" width="2" height="2" fill="#0087f7"/><rect x="1130.8" y="252" width="2" height="2" fill="#0070fe"/><rect x="1132.8" y="252" width="2" height="2" fill="#0075fc"/><rect x="1134.8" y="252" width="2" height="2" fill="#0468ff"/><rect x="1136.8" y="252" width="2" height="2" fill="#0e5bff"/><rect x="1138.8" y="252" width="2" height="2" fill="#1553ff"/><rect x="1144.8" y="252" width="2" height="2" fill="#1c4aff"/><rect x="1104.8" y="254" width="2" height="2" fill="#3a5aff"/><rect x="1106.8" y="254" width="2" height="2" fill="#184fff"/><rect x="1112.8" y="254" width="2" height="2" fill="#0e5bff"/><rect x="1116.8" y="254" width="2" height="2" fill="#0b5fff"/><rect x="1118.8" y="254" width="2" height="2" fill="#026aff"/><rect x="1124.8" y="254" width="2" height="2" fill="#006cff"/><rect x="1126.8" y="254" width="2" height="2" fill="#0369ff"/><rect x="1128.8" y="254" width="2" height="2" fill="#006dff"/><rect x="1130.8" y="254" width="2" height="2" fill="#0e5cff"/><rect x="1132.8" y="254" width="2" height="2" fill="#1059ff"/><rect x="1136.8" y="254" width="2" height="2" fill="#1454ff"/><rect x="1142.8" y="254" width="2" height="2" fill="#184fff"/><rect x="1114.8" y="256" width="2" height="2" fill="#1059ff"/><rect x="1118.8" y="256" width="6" height="2" fill="#0f5aff"/><rect x="1124.8" y="256" width="2" height="2" fill="#0961ff"/><rect x="1126.8" y="256" width="2" height="2" fill="#1454ff"/><rect x="1128.8" y="256" width="2" height="2" fill="#0d5dff"/><rect x="1130.8" y="256" width="2" height="2" fill="#1059ff"/><rect x="1134.8" y="256" width="2" height="2" fill="#1751ff"/><rect x="1138.8" y="256" width="2" height="2" fill="#2045ff"/><rect x="1142.8" y="256" width="2" height="2" fill="#1d49ff"/><rect x="1144.8" y="256" width="2" height="2" fill="#3a5aff"/><rect x="1104.8" y="258" width="2" height="2" fill="#5060ff"/><rect x="1106.8" y="258" width="2" height="2" fill="#6a80ff"/><rect x="1114.8" y="258" width="2" height="2" fill="#1454ff"/><rect x="1116.8" y="258" width="2" height="2" fill="#1c4aff"/><rect x="1118.8" y="258" width="2" height="2" fill="#0f5aff"/><rect x="1120.8" y="258" width="2" height="2" fill="#194eff"/><rect x="1122.8" y="258" width="2" height="2" fill="#1a4dff"/><rect x="1126.8" y="258" width="2" height="2" fill="#184fff"/><rect x="1128.8" y="258" width="2" height="2" fill="#1c4aff"/><rect x="1132.8" y="258" width="2" height="2" fill="#194eff"/><rect x="1140.8" y="258" width="2" height="2" fill="#1a4cff"/><rect x="1142.8" y="258" width="2" height="2" fill="#1f46ff"/><rect x="1110.8" y="260" width="2" height="2" fill="#5060ff"/><rect x="1118.8" y="260" width="2" height="2" fill="#1e47ff"/><rect x="1120.8" y="260" width="2" height="2" fill="#1652ff"/><rect x="1122.8" y="260" width="2" height="2" fill="#1c4aff"/><rect x="1130.8" y="260" width="2" height="2" fill="#2a40ff"/><rect x="1132.8" y="260" width="2" height="2" fill="#6a80ff"/><rect x="1140.8" y="260" width="2" height="2" fill="#1c4aff"/><rect x="1112.8" y="262" width="2" height="2" fill="#5060ff"/><rect x="1116.8" y="262" width="2" height="2" fill="#3a5aff"/><rect x="1118.8" y="262" width="2" height="2" fill="#6a80ff"/><rect x="1130.8" y="262" width="2" height="2" fill="#5060ff"/><rect x="1136.8" y="262" width="2" height="2" fill="#3a5aff"/><rect x="1142.8" y="262" width="2" height="2" fill="#2144ff"/><rect x="1108.8" y="264" width="2" height="2" fill="#3a5aff"/><rect x="1110.8" y="264" width="2" height="2" fill="#6a80ff"/><rect x="1138.8" y="264" width="2" height="2" fill="#5060ff"/><rect x="1140.8" y="264" width="2" height="2" fill="#1e48ff"/><rect x="1142.8" y="264" width="2" height="2" fill="#2045ff"/><rect x="1144.8" y="264" width="2" height="2" fill="#2a40ff"/><rect x="1138.8" y="266" width="2" height="2" fill="#3a5aff"/><rect x="1140.8" y="266" width="2" height="2" fill="#184fff"/><rect x="1142.8" y="266" width="2" height="2" fill="#1e48ff"/><rect x="1142.8" y="268" width="2" height="2" fill="#1b4bff"/><rect x="1138.8" y="270" width="2" height="2" fill="#3a5aff"/><rect x="1140.8" y="270" width="2" height="2" fill="#184fff"/><rect x="1146.8" y="270" width="2" height="2" fill="#2a40ff"/><rect x="1138.8" y="272" width="2" height="2" fill="#2a40ff"/><rect x="1142.8" y="272" width="2" height="2" fill="#2243ff"/><rect x="1140.8" y="274" width="2" height="2" fill="#2144ff"/><rect x="1140.8" y="276" width="2" height="2" fill="#5060ff"/><rect x="1144.8" y="276" width="2" height="2" fill="#3a5aff"/><rect x="1142.8" y="278" width="4" height="2" fill="#5060ff"/><rect x="1140.8" y="282" width="2" height="2" fill="#2a40ff"/></g>
<rect x="1095.80" y="74.00" width="217.80" height="218.20" fill="none" stroke="#2a2a2a" stroke-width="1.4"/>
<line x1="1157.60" y1="74.00" x2="1157.60" y2="292.20" stroke="#111" stroke-width="2.0" />
<line x1="1095.80" y1="221.70" x2="1313.60" y2="221.70" stroke="#111" stroke-width="2.0" />
<line x1="1089.50" y1="271.70" x2="1095.80" y2="271.70" stroke="#111" stroke-width="2.0" />
<line x1="1092.80" y1="260.26" x2="1095.80" y2="260.26" stroke="#333" stroke-width="1.2" />
<line x1="1092.80" y1="253.57" x2="1095.80" y2="253.57" stroke="#333" stroke-width="1.2" />
<line x1="1092.80" y1="248.82" x2="1095.80" y2="248.82" stroke="#333" stroke-width="1.2" />
<line x1="1092.80" y1="245.14" x2="1095.80" y2="245.14" stroke="#333" stroke-width="1.2" />
<line x1="1092.80" y1="242.13" x2="1095.80" y2="242.13" stroke="#333" stroke-width="1.2" />
<line x1="1092.80" y1="239.59" x2="1095.80" y2="239.59" stroke="#333" stroke-width="1.2" />
<line x1="1092.80" y1="237.38" x2="1095.80" y2="237.38" stroke="#333" stroke-width="1.2" />
<line x1="1092.80" y1="235.44" x2="1095.80" y2="235.44" stroke="#333" stroke-width="1.2" />
<line x1="1089.50" y1="233.70" x2="1095.80" y2="233.70" stroke="#111" stroke-width="2.0" />
<line x1="1092.80" y1="222.26" x2="1095.80" y2="222.26" stroke="#333" stroke-width="1.2" />
<line x1="1092.80" y1="215.57" x2="1095.80" y2="215.57" stroke="#333" stroke-width="1.2" />
<line x1="1092.80" y1="210.82" x2="1095.80" y2="210.82" stroke="#333" stroke-width="1.2" />
<line x1="1092.80" y1="207.14" x2="1095.80" y2="207.14" stroke="#333" stroke-width="1.2" />
<line x1="1092.80" y1="204.13" x2="1095.80" y2="204.13" stroke="#333" stroke-width="1.2" />
<line x1="1092.80" y1="201.59" x2="1095.80" y2="201.59" stroke="#333" stroke-width="1.2" />
<line x1="1092.80" y1="199.38" x2="1095.80" y2="199.38" stroke="#333" stroke-width="1.2" />
<line x1="1092.80" y1="197.44" x2="1095.80" y2="197.44" stroke="#333" stroke-width="1.2" />
<line x1="1089.50" y1="195.70" x2="1095.80" y2="195.70" stroke="#111" stroke-width="2.0" />
<line x1="1092.80" y1="184.26" x2="1095.80" y2="184.26" stroke="#333" stroke-width="1.2" />
<line x1="1092.80" y1="177.57" x2="1095.80" y2="177.57" stroke="#333" stroke-width="1.2" />
<line x1="1092.80" y1="172.82" x2="1095.80" y2="172.82" stroke="#333" stroke-width="1.2" />
<line x1="1092.80" y1="169.14" x2="1095.80" y2="169.14" stroke="#333" stroke-width="1.2" />
<line x1="1092.80" y1="166.13" x2="1095.80" y2="166.13" stroke="#333" stroke-width="1.2" />
<line x1="1092.80" y1="163.59" x2="1095.80" y2="163.59" stroke="#333" stroke-width="1.2" />
<line x1="1092.80" y1="161.38" x2="1095.80" y2="161.38" stroke="#333" stroke-width="1.2" />
<line x1="1092.80" y1="159.44" x2="1095.80" y2="159.44" stroke="#333" stroke-width="1.2" />
<line x1="1089.50" y1="157.70" x2="1095.80" y2="157.70" stroke="#111" stroke-width="2.0" />
<line x1="1092.80" y1="146.26" x2="1095.80" y2="146.26" stroke="#333" stroke-width="1.2" />
<line x1="1092.80" y1="139.57" x2="1095.80" y2="139.57" stroke="#333" stroke-width="1.2" />
<line x1="1092.80" y1="134.82" x2="1095.80" y2="134.82" stroke="#333" stroke-width="1.2" />
<line x1="1092.80" y1="131.14" x2="1095.80" y2="131.14" stroke="#333" stroke-width="1.2" />
<line x1="1092.80" y1="128.13" x2="1095.80" y2="128.13" stroke="#333" stroke-width="1.2" />
<line x1="1092.80" y1="125.59" x2="1095.80" y2="125.59" stroke="#333" stroke-width="1.2" />
<line x1="1092.80" y1="123.38" x2="1095.80" y2="123.38" stroke="#333" stroke-width="1.2" />
<line x1="1092.80" y1="121.44" x2="1095.80" y2="121.44" stroke="#333" stroke-width="1.2" />
<line x1="1089.50" y1="119.70" x2="1095.80" y2="119.70" stroke="#111" stroke-width="2.0" />
<line x1="1092.80" y1="108.26" x2="1095.80" y2="108.26" stroke="#333" stroke-width="1.2" />
<line x1="1092.80" y1="101.57" x2="1095.80" y2="101.57" stroke="#333" stroke-width="1.2" />
<line x1="1092.80" y1="96.82" x2="1095.80" y2="96.82" stroke="#333" stroke-width="1.2" />
<line x1="1092.80" y1="93.14" x2="1095.80" y2="93.14" stroke="#333" stroke-width="1.2" />
<line x1="1092.80" y1="90.13" x2="1095.80" y2="90.13" stroke="#333" stroke-width="1.2" />
<line x1="1092.80" y1="87.59" x2="1095.80" y2="87.59" stroke="#333" stroke-width="1.2" />
<line x1="1092.80" y1="85.38" x2="1095.80" y2="85.38" stroke="#333" stroke-width="1.2" />
<line x1="1092.80" y1="83.44" x2="1095.80" y2="83.44" stroke="#333" stroke-width="1.2" />
<line x1="1089.50" y1="81.70" x2="1095.80" y2="81.70" stroke="#111" stroke-width="2.0" />
<line x1="1092.80" y1="291.57" x2="1095.80" y2="291.57" stroke="#333" stroke-width="1.2" />
<line x1="1092.80" y1="286.82" x2="1095.80" y2="286.82" stroke="#333" stroke-width="1.2" />
<line x1="1092.80" y1="283.14" x2="1095.80" y2="283.14" stroke="#333" stroke-width="1.2" />
<line x1="1092.80" y1="280.13" x2="1095.80" y2="280.13" stroke="#333" stroke-width="1.2" />
<line x1="1092.80" y1="277.59" x2="1095.80" y2="277.59" stroke="#333" stroke-width="1.2" />
<line x1="1092.80" y1="275.38" x2="1095.80" y2="275.38" stroke="#333" stroke-width="1.2" />
<line x1="1092.80" y1="273.44" x2="1095.80" y2="273.44" stroke="#333" stroke-width="1.2" />
<line x1="1118.00" y1="292.20" x2="1118.00" y2="297.70" stroke="#111" stroke-width="2.0" />
<line x1="1131.88" y1="292.20" x2="1131.88" y2="295.20" stroke="#333" stroke-width="1.2" />
<line x1="1140.00" y1="292.20" x2="1140.00" y2="295.20" stroke="#333" stroke-width="1.2" />
<line x1="1145.75" y1="292.20" x2="1145.75" y2="295.20" stroke="#333" stroke-width="1.2" />
<line x1="1150.22" y1="292.20" x2="1150.22" y2="295.20" stroke="#333" stroke-width="1.2" />
<line x1="1153.87" y1="292.20" x2="1153.87" y2="295.20" stroke="#333" stroke-width="1.2" />
<line x1="1156.96" y1="292.20" x2="1156.96" y2="295.20" stroke="#333" stroke-width="1.2" />
<line x1="1159.63" y1="292.20" x2="1159.63" y2="295.20" stroke="#333" stroke-width="1.2" />
<line x1="1161.99" y1="292.20" x2="1161.99" y2="295.20" stroke="#333" stroke-width="1.2" />
<line x1="1164.10" y1="292.20" x2="1164.10" y2="297.70" stroke="#111" stroke-width="2.0" />
<line x1="1177.98" y1="292.20" x2="1177.98" y2="295.20" stroke="#333" stroke-width="1.2" />
<line x1="1186.10" y1="292.20" x2="1186.10" y2="295.20" stroke="#333" stroke-width="1.2" />
<line x1="1191.85" y1="292.20" x2="1191.85" y2="295.20" stroke="#333" stroke-width="1.2" />
<line x1="1196.32" y1="292.20" x2="1196.32" y2="295.20" stroke="#333" stroke-width="1.2" />
<line x1="1199.97" y1="292.20" x2="1199.97" y2="295.20" stroke="#333" stroke-width="1.2" />
<line x1="1203.06" y1="292.20" x2="1203.06" y2="295.20" stroke="#333" stroke-width="1.2" />
<line x1="1205.73" y1="292.20" x2="1205.73" y2="295.20" stroke="#333" stroke-width="1.2" />
<line x1="1208.09" y1="292.20" x2="1208.09" y2="295.20" stroke="#333" stroke-width="1.2" />
<line x1="1210.20" y1="292.20" x2="1210.20" y2="297.70" stroke="#111" stroke-width="2.0" />
<line x1="1224.08" y1="292.20" x2="1224.08" y2="295.20" stroke="#333" stroke-width="1.2" />
<line x1="1232.20" y1="292.20" x2="1232.20" y2="295.20" stroke="#333" stroke-width="1.2" />
<line x1="1237.95" y1="292.20" x2="1237.95" y2="295.20" stroke="#333" stroke-width="1.2" />
<line x1="1242.42" y1="292.20" x2="1242.42" y2="295.20" stroke="#333" stroke-width="1.2" />
<line x1="1246.07" y1="292.20" x2="1246.07" y2="295.20" stroke="#333" stroke-width="1.2" />
<line x1="1249.16" y1="292.20" x2="1249.16" y2="295.20" stroke="#333" stroke-width="1.2" />
<line x1="1251.83" y1="292.20" x2="1251.83" y2="295.20" stroke="#333" stroke-width="1.2" />
<line x1="1254.19" y1="292.20" x2="1254.19" y2="295.20" stroke="#333" stroke-width="1.2" />
<line x1="1256.30" y1="292.20" x2="1256.30" y2="297.70" stroke="#111" stroke-width="2.0" />
<line x1="1270.18" y1="292.20" x2="1270.18" y2="295.20" stroke="#333" stroke-width="1.2" />
<line x1="1278.30" y1="292.20" x2="1278.30" y2="295.20" stroke="#333" stroke-width="1.2" />
<line x1="1284.05" y1="292.20" x2="1284.05" y2="295.20" stroke="#333" stroke-width="1.2" />
<line x1="1288.52" y1="292.20" x2="1288.52" y2="295.20" stroke="#333" stroke-width="1.2" />
<line x1="1292.17" y1="292.20" x2="1292.17" y2="295.20" stroke="#333" stroke-width="1.2" />
<line x1="1295.26" y1="292.20" x2="1295.26" y2="295.20" stroke="#333" stroke-width="1.2" />
<line x1="1297.93" y1="292.20" x2="1297.93" y2="295.20" stroke="#333" stroke-width="1.2" />
<line x1="1300.29" y1="292.20" x2="1300.29" y2="295.20" stroke="#333" stroke-width="1.2" />
<line x1="1302.40" y1="292.20" x2="1302.40" y2="297.70" stroke="#111" stroke-width="2.0" />
<line x1="1099.65" y1="292.20" x2="1099.65" y2="295.20" stroke="#333" stroke-width="1.2" />
<line x1="1104.12" y1="292.20" x2="1104.12" y2="295.20" stroke="#333" stroke-width="1.2" />
<line x1="1107.77" y1="292.20" x2="1107.77" y2="295.20" stroke="#333" stroke-width="1.2" />
<line x1="1110.86" y1="292.20" x2="1110.86" y2="295.20" stroke="#333" stroke-width="1.2" />
<line x1="1113.53" y1="292.20" x2="1113.53" y2="295.20" stroke="#333" stroke-width="1.2" />
<line x1="1115.89" y1="292.20" x2="1115.89" y2="295.20" stroke="#333" stroke-width="1.2" />
<g transform="translate(1063.00,281.60)" fill="#000" ><text x="-1.20" y="0" font-size="14.44" font-family="'Liberation Serif','Times New Roman',serif" font-weight="bold" textLength="14.97" lengthAdjust="spacingAndGlyphs" style="white-space:pre">10</text></g>
<g transform="translate(1077.70,271.70)" fill="#000" ><text x="-0.72" y="0" font-size="13.29" font-family="'Liberation Serif','Times New Roman',serif" font-weight="bold" textLength="8.55" lengthAdjust="spacingAndGlyphs" style="white-space:pre">2</text></g>
<g transform="translate(1063.00,243.60)" fill="#000" ><text x="-1.20" y="0" font-size="14.44" font-family="'Liberation Serif','Times New Roman',serif" font-weight="bold" textLength="14.97" lengthAdjust="spacingAndGlyphs" style="white-space:pre">10</text></g>
<g transform="translate(1077.70,233.70)" fill="#000" ><text x="-0.62" y="0" font-size="13.29" font-family="'Liberation Serif','Times New Roman',serif" font-weight="bold" textLength="8.29" lengthAdjust="spacingAndGlyphs" style="white-space:pre">3</text></g>
<g transform="translate(1063.00,205.60)" fill="#000" ><text x="-1.20" y="0" font-size="14.44" font-family="'Liberation Serif','Times New Roman',serif" font-weight="bold" textLength="14.97" lengthAdjust="spacingAndGlyphs" style="white-space:pre">10</text></g>
<g transform="translate(1077.70,195.70)" fill="#000" ><text x="-0.21" y="0" font-size="13.37" font-family="'Liberation Serif','Times New Roman',serif" font-weight="bold" textLength="7.59" lengthAdjust="spacingAndGlyphs" style="white-space:pre">4</text></g>
<g transform="translate(1063.00,167.60)" fill="#000" ><text x="-1.20" y="0" font-size="14.44" font-family="'Liberation Serif','Times New Roman',serif" font-weight="bold" textLength="14.97" lengthAdjust="spacingAndGlyphs" style="white-space:pre">10</text></g>
<g transform="translate(1077.70,157.70)" fill="#000" ><text x="-0.67" y="0" font-size="13.44" font-family="'Liberation Serif','Times New Roman',serif" font-weight="bold" textLength="8.39" lengthAdjust="spacingAndGlyphs" style="white-space:pre">5</text></g>
<g transform="translate(1063.00,129.60)" fill="#000" ><text x="-1.20" y="0" font-size="14.44" font-family="'Liberation Serif','Times New Roman',serif" font-weight="bold" textLength="14.97" lengthAdjust="spacingAndGlyphs" style="white-space:pre">10</text></g>
<g transform="translate(1077.70,119.70)" fill="#000" ><text x="-0.56" y="0" font-size="13.29" font-family="'Liberation Serif','Times New Roman',serif" font-weight="bold" textLength="8.13" lengthAdjust="spacingAndGlyphs" style="white-space:pre">6</text></g>
<g transform="translate(1063.00,98.30)" fill="#000" ><text x="-1.20" y="0" font-size="14.44" font-family="'Liberation Serif','Times New Roman',serif" font-weight="bold" textLength="14.97" lengthAdjust="spacingAndGlyphs" style="white-space:pre">10</text></g>
<g transform="translate(1077.70,86.50)" fill="#000" ><text x="-0.97" y="0" font-size="13.44" font-family="'Liberation Serif','Times New Roman',serif" font-weight="bold" textLength="8.48" lengthAdjust="spacingAndGlyphs" style="white-space:pre">7</text></g>
<g transform="translate(1112.10,327.00)" fill="#000" ><text x="-1.27" y="0" font-size="15.19" font-family="'Liberation Serif','Times New Roman',serif" font-weight="bold" textLength="15.88" lengthAdjust="spacingAndGlyphs" style="white-space:pre">10</text></g>
<g transform="translate(1126.90,316.00)" fill="#000" ><text x="-0.60" y="0" font-size="13.74" font-family="'Liberation Serif','Times New Roman',serif" font-weight="bold" textLength="7.94" lengthAdjust="spacingAndGlyphs" style="white-space:pre">3</text></g>
<g transform="translate(1158.20,327.00)" fill="#000" ><text x="-1.27" y="0" font-size="15.19" font-family="'Liberation Serif','Times New Roman',serif" font-weight="bold" textLength="15.88" lengthAdjust="spacingAndGlyphs" style="white-space:pre">10</text></g>
<g transform="translate(1173.00,316.00)" fill="#000" ><text x="-0.20" y="0" font-size="13.83" font-family="'Liberation Serif','Times New Roman',serif" font-weight="bold" textLength="7.27" lengthAdjust="spacingAndGlyphs" style="white-space:pre">4</text></g>
<g transform="translate(1204.30,327.00)" fill="#000" ><text x="-1.27" y="0" font-size="15.19" font-family="'Liberation Serif','Times New Roman',serif" font-weight="bold" textLength="15.88" lengthAdjust="spacingAndGlyphs" style="white-space:pre">10</text></g>
<g transform="translate(1219.10,316.00)" fill="#000" ><text x="-0.64" y="0" font-size="13.90" font-family="'Liberation Serif','Times New Roman',serif" font-weight="bold" textLength="8.03" lengthAdjust="spacingAndGlyphs" style="white-space:pre">5</text></g>
<g transform="translate(1250.40,327.00)" fill="#000" ><text x="-1.27" y="0" font-size="15.19" font-family="'Liberation Serif','Times New Roman',serif" font-weight="bold" textLength="15.88" lengthAdjust="spacingAndGlyphs" style="white-space:pre">10</text></g>
<g transform="translate(1265.20,316.00)" fill="#000" ><text x="-0.53" y="0" font-size="13.74" font-family="'Liberation Serif','Times New Roman',serif" font-weight="bold" textLength="7.79" lengthAdjust="spacingAndGlyphs" style="white-space:pre">6</text></g>
<g transform="translate(1291.80,327.00)" fill="#000" ><text x="-1.27" y="0" font-size="15.19" font-family="'Liberation Serif','Times New Roman',serif" font-weight="bold" textLength="15.88" lengthAdjust="spacingAndGlyphs" style="white-space:pre">10</text></g>
<g transform="translate(1306.60,316.00)" fill="#000" ><text x="-0.93" y="0" font-size="13.90" font-family="'Liberation Serif','Times New Roman',serif" font-weight="bold" textLength="8.13" lengthAdjust="spacingAndGlyphs" style="white-space:pre">7</text></g>
<g transform="translate(1100.00,101.60)" fill="#000" stroke="#000" stroke-width="0.85"><text x="-0.80" y="0" font-size="21.05" font-family="'Liberation Serif','Times New Roman',serif" textLength="36.61" lengthAdjust="spacingAndGlyphs" style="white-space:pre">0.15</text></g>
<g transform="translate(1256.20,101.60)" fill="#000" stroke="#000" stroke-width="0.85"><text x="-0.80" y="0" font-size="21.05" font-family="'Liberation Serif','Times New Roman',serif" textLength="36.91" lengthAdjust="spacingAndGlyphs" style="white-space:pre">0.37</text></g>
<g transform="translate(1100.00,275.50)" fill="#000" stroke="#000" stroke-width="0.85"><text x="-0.66" y="0" font-size="21.14" font-family="'Liberation Serif','Times New Roman',serif" textLength="35.89" lengthAdjust="spacingAndGlyphs" style="white-space:pre">99.1</text></g>
<g transform="translate(1256.20,275.50)" fill="#000" stroke="#000" stroke-width="0.85"><text x="-0.80" y="0" font-size="21.05" font-family="'Liberation Serif','Times New Roman',serif" textLength="36.80" lengthAdjust="spacingAndGlyphs" style="white-space:pre">0.38</text></g>
<path d="M1313.60,122.40 H1238.60 V154.40 H1313.60" fill="none" stroke="#777" stroke-width="1.6"/>
<g transform="translate(1246.00,143.60)" fill="#000" ><text x="-0.28" y="0" font-size="14.12" font-family="'Liberation Serif','Times New Roman',serif" font-weight="bold" font-style="italic" textLength="60.32" lengthAdjust="spacingAndGlyphs" style="white-space:pre">Scramble</text></g>
<g><rect x="1452.1" y="192.4" width="1.1" height="1.1" fill="#5a6aff"/><rect x="1448.6" y="167.6" width="1.1" height="1.1" fill="#3040e0"/><rect x="1433.6" y="179.2" width="1.1" height="1.1" fill="#7080ff"/><rect x="1440.3" y="194.5" width="1.1" height="1.1" fill="#7080ff"/><rect x="1410.9" y="167.1" width="1.1" height="1.1" fill="#3040e0"/><rect x="1454.0" y="173.3" width="1.1" height="1.1" fill="#3040e0"/><rect x="1422.3" y="183.6" width="1.1" height="1.1" fill="#5a6aff"/><rect x="1450.2" y="185.8" width="1.1" height="1.1" fill="#3040e0"/><rect x="1445.4" y="158.0" width="1.1" height="1.1" fill="#3040e0"/><rect x="1452.5" y="151.8" width="1.1" height="1.1" fill="#3040e0"/><rect x="1445.9" y="176.2" width="1.1" height="1.1" fill="#7080ff"/><rect x="1472.1" y="208.3" width="1.1" height="1.1" fill="#4050ff"/><rect x="1449.9" y="157.2" width="1.1" height="1.1" fill="#3040e0"/><rect x="1419.7" y="161.8" width="1.1" height="1.1" fill="#4050ff"/><rect x="1434.7" y="193.7" width="1.1" height="1.1" fill="#3040e0"/><rect x="1418.8" y="179.4" width="1.1" height="1.1" fill="#5a6aff"/><rect x="1423.7" y="166.6" width="1.1" height="1.1" fill="#4050ff"/><rect x="1436.1" y="203.2" width="1.1" height="1.1" fill="#4050ff"/><rect x="1433.7" y="160.5" width="1.1" height="1.1" fill="#7080ff"/><rect x="1441.9" y="157.4" width="1.1" height="1.1" fill="#4050ff"/><rect x="1401.3" y="160.9" width="1.1" height="1.1" fill="#7080ff"/><rect x="1452.1" y="179.6" width="1.1" height="1.1" fill="#7080ff"/><rect x="1420.9" y="203.7" width="1.1" height="1.1" fill="#3040e0"/><rect x="1438.6" y="180.8" width="1.1" height="1.1" fill="#5a6aff"/><rect x="1416.6" y="181.8" width="1.1" height="1.1" fill="#5a6aff"/><rect x="1441.1" y="181.8" width="1.1" height="1.1" fill="#3040e0"/><rect x="1432.5" y="195.8" width="1.1" height="1.1" fill="#7080ff"/><rect x="1433.8" y="151.4" width="1.1" height="1.1" fill="#3040e0"/><rect x="1445.2" y="169.6" width="1.1" height="1.1" fill="#5a6aff"/><rect x="1430.9" y="152.8" width="1.1" height="1.1" fill="#7080ff"/><rect x="1436.9" y="156.4" width="1.1" height="1.1" fill="#5a6aff"/><rect x="1429.0" y="170.3" width="1.1" height="1.1" fill="#4050ff"/><rect x="1425.2" y="210.8" width="1.1" height="1.1" fill="#3040e0"/><rect x="1429.1" y="214.3" width="1.1" height="1.1" fill="#4050ff"/><rect x="1442.7" y="162.9" width="1.1" height="1.1" fill="#5a6aff"/><rect x="1436.7" y="166.3" width="1.1" height="1.1" fill="#3040e0"/><rect x="1438.9" y="194.2" width="1.1" height="1.1" fill="#3040e0"/><rect x="1443.7" y="168.9" width="1.1" height="1.1" fill="#3040e0"/><rect x="1466.0" y="198.2" width="1.1" height="1.1" fill="#5a6aff"/><rect x="1441.2" y="183.0" width="1.1" height="1.1" fill="#5a6aff"/><rect x="1425.8" y="212.4" width="1.1" height="1.1" fill="#3040e0"/><rect x="1445.3" y="181.7" width="1.1" height="1.1" fill="#4050ff"/><rect x="1435.6" y="180.5" width="1.1" height="1.1" fill="#3040e0"/><rect x="1467.6" y="155.8" width="1.1" height="1.1" fill="#4050ff"/><rect x="1438.2" y="210.4" width="1.1" height="1.1" fill="#5a6aff"/><rect x="1438.4" y="166.8" width="1.1" height="1.1" fill="#7080ff"/><rect x="1456.0" y="153.3" width="1.1" height="1.1" fill="#4050ff"/><rect x="1456.2" y="166.7" width="1.1" height="1.1" fill="#3040e0"/><rect x="1420.9" y="178.9" width="1.1" height="1.1" fill="#4050ff"/><rect x="1431.3" y="159.5" width="1.1" height="1.1" fill="#5a6aff"/><rect x="1447.6" y="164.4" width="1.1" height="1.1" fill="#3040e0"/><rect x="1451.6" y="214.7" width="1.1" height="1.1" fill="#4050ff"/><rect x="1421.1" y="212.3" width="1.1" height="1.1" fill="#3040e0"/><rect x="1427.6" y="210.7" width="1.1" height="1.1" fill="#3040e0"/><rect x="1454.6" y="210.7" width="1.1" height="1.1" fill="#4050ff"/><rect x="1443.0" y="209.8" width="1.1" height="1.1" fill="#4050ff"/><rect x="1399.8" y="206.8" width="1.1" height="1.1" fill="#5a6aff"/><rect x="1452.5" y="154.4" width="1.1" height="1.1" fill="#3040e0"/><rect x="1473.7" y="207.6" width="1.1" height="1.1" fill="#5a6aff"/><rect x="1446.2" y="150.3" width="1.1" height="1.1" fill="#7080ff"/><rect x="1407.6" y="196.7" width="1.1" height="1.1" fill="#4050ff"/><rect x="1440.5" y="169.3" width="1.1" height="1.1" fill="#3040e0"/><rect x="1435.2" y="192.0" width="1.1" height="1.1" fill="#4050ff"/><rect x="1456.2" y="185.6" width="1.1" height="1.1" fill="#5a6aff"/><rect x="1434.7" y="173.3" width="1.1" height="1.1" fill="#4050ff"/><rect x="1433.3" y="205.6" width="1.1" height="1.1" fill="#7080ff"/><rect x="1426.4" y="197.1" width="1.1" height="1.1" fill="#3040e0"/><rect x="1442.9" y="151.9" width="1.1" height="1.1" fill="#5a6aff"/><rect x="1431.4" y="200.0" width="1.1" height="1.1" fill="#3040e0"/><rect x="1452.7" y="212.9" width="1.1" height="1.1" fill="#7080ff"/></g>
<g><rect x="1482.7" y="204.6" width="1.1" height="1.1" fill="#5a6aff"/><rect x="1453.1" y="160.9" width="1.1" height="1.1" fill="#5a6aff"/><rect x="1480.3" y="156.0" width="1.1" height="1.1" fill="#5a6aff"/><rect x="1488.4" y="168.4" width="1.1" height="1.1" fill="#4050ff"/><rect x="1466.5" y="206.3" width="1.1" height="1.1" fill="#4050ff"/><rect x="1441.7" y="161.0" width="1.1" height="1.1" fill="#7080ff"/><rect x="1484.3" y="178.9" width="1.1" height="1.1" fill="#3040e0"/><rect x="1470.0" y="214.7" width="1.1" height="1.1" fill="#3040e0"/><rect x="1490.6" y="160.3" width="1.1" height="1.1" fill="#3040e0"/><rect x="1497.6" y="154.8" width="1.1" height="1.1" fill="#3040e0"/><rect x="1479.6" y="152.2" width="1.1" height="1.1" fill="#5a6aff"/><rect x="1459.0" y="208.2" width="1.1" height="1.1" fill="#4050ff"/><rect x="1458.6" y="166.0" width="1.1" height="1.1" fill="#5a6aff"/><rect x="1489.1" y="214.5" width="1.1" height="1.1" fill="#3040e0"/><rect x="1456.0" y="198.3" width="1.1" height="1.1" fill="#5a6aff"/><rect x="1445.6" y="182.1" width="1.1" height="1.1" fill="#5a6aff"/><rect x="1479.2" y="171.1" width="1.1" height="1.1" fill="#5a6aff"/><rect x="1480.2" y="213.3" width="1.1" height="1.1" fill="#5a6aff"/><rect x="1468.5" y="166.9" width="1.1" height="1.1" fill="#5a6aff"/><rect x="1471.9" y="165.8" width="1.1" height="1.1" fill="#5a6aff"/><rect x="1455.7" y="191.9" width="1.1" height="1.1" fill="#5a6aff"/><rect x="1463.5" y="201.7" width="1.1" height="1.1" fill="#7080ff"/><rect x="1444.0" y="173.6" width="1.1" height="1.1" fill="#3040e0"/><rect x="1455.0" y="162.1" width="1.1" height="1.1" fill="#7080ff"/><rect x="1460.5" y="207.6" width="1.1" height="1.1" fill="#3040e0"/></g>
<g><rect x="1421.8" y="247.5" width="1.1" height="1.1" fill="#4050ff"/><rect x="1439.2" y="282.4" width="1.1" height="1.1" fill="#4050ff"/><rect x="1440.4" y="256.6" width="1.1" height="1.1" fill="#5a6aff"/><rect x="1451.1" y="202.6" width="1.1" height="1.1" fill="#5a6aff"/><rect x="1430.0" y="258.5" width="1.1" height="1.1" fill="#3040e0"/><rect x="1418.2" y="258.7" width="1.1" height="1.1" fill="#5a6aff"/><rect x="1427.5" y="244.2" width="1.1" height="1.1" fill="#3040e0"/><rect x="1422.5" y="238.5" width="1.1" height="1.1" fill="#7080ff"/><rect x="1421.5" y="263.3" width="1.1" height="1.1" fill="#7080ff"/><rect x="1406.7" y="249.0" width="1.1" height="1.1" fill="#3040e0"/><rect x="1410.3" y="252.5" width="1.1" height="1.1" fill="#7080ff"/><rect x="1400.2" y="263.7" width="1.1" height="1.1" fill="#4050ff"/><rect x="1391.1" y="250.1" width="1.1" height="1.1" fill="#4050ff"/><rect x="1425.0" y="264.3" width="1.1" height="1.1" fill="#4050ff"/><rect x="1416.8" y="263.9" width="1.1" height="1.1" fill="#4050ff"/><rect x="1429.4" y="239.2" width="1.1" height="1.1" fill="#4050ff"/><rect x="1397.5" y="253.2" width="1.1" height="1.1" fill="#3040e0"/><rect x="1408.5" y="257.6" width="1.1" height="1.1" fill="#5a6aff"/><rect x="1406.4" y="243.5" width="1.1" height="1.1" fill="#4050ff"/><rect x="1421.0" y="260.0" width="1.1" height="1.1" fill="#3040e0"/><rect x="1409.7" y="258.4" width="1.1" height="1.1" fill="#7080ff"/><rect x="1424.0" y="224.9" width="1.1" height="1.1" fill="#3040e0"/><rect x="1414.1" y="249.1" width="1.1" height="1.1" fill="#7080ff"/><rect x="1418.4" y="249.6" width="1.1" height="1.1" fill="#3040e0"/><rect x="1437.7" y="237.9" width="1.1" height="1.1" fill="#3040e0"/><rect x="1432.1" y="254.0" width="1.1" height="1.1" fill="#4050ff"/><rect x="1426.6" y="245.2" width="1.1" height="1.1" fill="#7080ff"/><rect x="1397.6" y="236.7" width="1.1" height="1.1" fill="#7080ff"/><rect x="1424.1" y="249.3" width="1.1" height="1.1" fill="#4050ff"/><rect x="1407.9" y="241.4" width="1.1" height="1.1" fill="#7080ff"/><rect x="1416.7" y="237.9" width="1.1" height="1.1" fill="#4050ff"/><rect x="1416.9" y="244.9" width="1.1" height="1.1" fill="#7080ff"/><rect x="1416.3" y="249.9" width="1.1" height="1.1" fill="#3040e0"/><rect x="1411.4" y="241.2" width="1.1" height="1.1" fill="#4050ff"/><rect x="1428.0" y="219.9" width="1.1" height="1.1" fill="#7080ff"/><rect x="1437.8" y="250.0" width="1.1" height="1.1" fill="#3040e0"/><rect x="1400.5" y="227.5" width="1.1" height="1.1" fill="#4050ff"/><rect x="1425.6" y="256.3" width="1.1" height="1.1" fill="#3040e0"/><rect x="1415.9" y="257.3" width="1.1" height="1.1" fill="#3040e0"/><rect x="1419.1" y="248.1" width="1.1" height="1.1" fill="#3040e0"/></g>
<g><rect x="1400.4" y="288.9" width="1.1" height="1.1" fill="#3040e0"/><rect x="1424.1" y="288.1" width="1.1" height="1.1" fill="#5a6aff"/><rect x="1438.2" y="288.8" width="1.1" height="1.1" fill="#5a6aff"/><rect x="1425.1" y="288.9" width="1.1" height="1.1" fill="#5a6aff"/><rect x="1431.3" y="289.1" width="1.1" height="1.1" fill="#7080ff"/><rect x="1431.5" y="289.0" width="1.1" height="1.1" fill="#7080ff"/><rect x="1420.7" y="288.5" width="1.1" height="1.1" fill="#3040e0"/><rect x="1423.2" y="288.8" width="1.1" height="1.1" fill="#4050ff"/><rect x="1420.9" y="288.7" width="1.1" height="1.1" fill="#5a6aff"/><rect x="1412.4" y="288.9" width="1.1" height="1.1" fill="#7080ff"/><rect x="1429.1" y="288.0" width="1.1" height="1.1" fill="#7080ff"/><rect x="1428.0" y="288.4" width="1.1" height="1.1" fill="#4050ff"/><rect x="1420.0" y="288.1" width="1.1" height="1.1" fill="#5a6aff"/><rect x="1435.9" y="288.1" width="1.1" height="1.1" fill="#4050ff"/></g>
<g shape-rendering="crispEdges"><rect x="1469.2" y="190" width="2" height="2" fill="#2a40ff"/><rect x="1461.2" y="196" width="2" height="2" fill="#1e47ff"/><rect x="1469.2" y="196" width="2" height="2" fill="#1256ff"/><rect x="1463.2" y="198" width="2" height="2" fill="#0d5dff"/><rect x="1465.2" y="198" width="2" height="2" fill="#0467ff"/><rect x="1469.2" y="198" width="2" height="2" fill="#1651ff"/><rect x="1459.2" y="200" width="2" height="2" fill="#0666ff"/><rect x="1463.2" y="200" width="2" height="2" fill="#006cff"/><rect x="1465.2" y="200" width="2" height="2" fill="#0c5eff"/><rect x="1467.2" y="200" width="2" height="2" fill="#0e5bff"/><rect x="1469.2" y="200" width="2" height="2" fill="#1552ff"/><rect x="1449.2" y="202" width="4" height="2" fill="#6a80ff"/><rect x="1461.2" y="202" width="2" height="2" fill="#006dff"/><rect x="1463.2" y="202" width="2" height="2" fill="#0467ff"/><rect x="1465.2" y="202" width="2" height="2" fill="#0a61ff"/><rect x="1445.2" y="204" width="2" height="2" fill="#3a5aff"/><rect x="1449.2" y="204" width="2" height="2" fill="#184fff"/><rect x="1451.2" y="204" width="2" height="2" fill="#1454ff"/><rect x="1453.2" y="204" width="2" height="2" fill="#0863ff"/><rect x="1455.2" y="204" width="2" height="2" fill="#0081f9"/><rect x="1457.2" y="204" width="2" height="2" fill="#00aded"/><rect x="1459.2" y="204" width="2" height="2" fill="#009ef1"/><rect x="1461.2" y="204" width="2" height="2" fill="#0088f7"/><rect x="1463.2" y="204" width="2" height="2" fill="#0b5fff"/><rect x="1465.2" y="204" width="2" height="2" fill="#1257ff"/><rect x="1469.2" y="204" width="2" height="2" fill="#5060ff"/><rect x="1441.2" y="206" width="2" height="2" fill="#6a80ff"/><rect x="1447.2" y="206" width="2" height="2" fill="#1b4bff"/><rect x="1449.2" y="206" width="2" height="2" fill="#0863ff"/><rect x="1453.2" y="206" width="2" height="2" fill="#0080f9"/><rect x="1455.2" y="206" width="2" height="2" fill="#00bde8"/><rect x="1457.2" y="206" width="2" height="2" fill="#00b7ea"/><rect x="1461.2" y="206" width="2" height="2" fill="#0369ff"/><rect x="1439.2" y="208" width="2" height="2" fill="#6a80ff"/><rect x="1445.2" y="208" width="2" height="2" fill="#1651ff"/><rect x="1447.2" y="208" width="2" height="2" fill="#0b60ff"/><rect x="1449.2" y="208" width="2" height="2" fill="#0091f5"/><rect x="1451.2" y="208" width="2" height="2" fill="#00a1f0"/><rect x="1453.2" y="208" width="2" height="2" fill="#02c9d8"/><rect x="1455.2" y="208" width="2" height="2" fill="#00c3e7"/><rect x="1457.2" y="208" width="2" height="2" fill="#006ffe"/><rect x="1459.2" y="208" width="2" height="2" fill="#0f5aff"/><rect x="1461.2" y="208" width="2" height="2" fill="#1d49ff"/><rect x="1433.2" y="210" width="2" height="2" fill="#5060ff"/><rect x="1435.2" y="210" width="2" height="2" fill="#2a40ff"/><rect x="1437.2" y="210" width="2" height="2" fill="#194eff"/><rect x="1439.2" y="210" width="2" height="2" fill="#1c49ff"/><rect x="1441.2" y="210" width="2" height="2" fill="#0c5eff"/><rect x="1445.2" y="210" width="2" height="2" fill="#008ff5"/><rect x="1447.2" y="210" width="2" height="2" fill="#00a9ee"/><rect x="1449.2" y="210" width="2" height="2" fill="#0aceb5"/><rect x="1451.2" y="210" width="2" height="2" fill="#0aceb6"/><rect x="1453.2" y="210" width="2" height="2" fill="#07ccc4"/><rect x="1455.2" y="210" width="2" height="2" fill="#008bf6"/><rect x="1457.2" y="210" width="2" height="2" fill="#0e5cff"/><rect x="1463.2" y="210" width="2" height="2" fill="#3a5aff"/><rect x="1427.2" y="212" width="2" height="2" fill="#6a80ff"/><rect x="1429.2" y="212" width="2" height="2" fill="#2a40ff"/><rect x="1431.2" y="212" width="2" height="2" fill="#3a5aff"/><rect x="1437.2" y="212" width="2" height="2" fill="#1355ff"/><rect x="1439.2" y="212" width="2" height="2" fill="#0e5bff"/><rect x="1441.2" y="212" width="2" height="2" fill="#0468ff"/><rect x="1443.2" y="212" width="2" height="2" fill="#0098f3"/><rect x="1445.2" y="212" width="2" height="2" fill="#0fd29b"/><rect x="1447.2" y="212" width="2" height="2" fill="#23dd54"/><rect x="1449.2" y="212" width="2" height="2" fill="#17d776"/><rect x="1451.2" y="212" width="2" height="2" fill="#07ccc4"/><rect x="1453.2" y="212" width="2" height="2" fill="#008ef6"/><rect x="1455.2" y="212" width="2" height="2" fill="#0764ff"/><rect x="1421.2" y="214" width="2" height="2" fill="#3a5aff"/><rect x="1427.2" y="214" width="2" height="2" fill="#5060ff"/><rect x="1433.2" y="214" width="2" height="2" fill="#0c5eff"/><rect x="1435.2" y="214" width="2" height="2" fill="#0f5bff"/><rect x="1437.2" y="214" width="2" height="2" fill="#007cfb"/><rect x="1439.2" y="214" width="2" height="2" fill="#008df6"/><rect x="1441.2" y="214" width="2" height="2" fill="#08cdbd"/><rect x="1443.2" y="214" width="2" height="2" fill="#1ddb5e"/><rect x="1445.2" y="214" width="2" height="2" fill="#2cde4b"/><rect x="1447.2" y="214" width="2" height="2" fill="#28de4f"/><rect x="1449.2" y="214" width="2" height="2" fill="#16d67e"/><rect x="1451.2" y="214" width="2" height="2" fill="#00bde8"/><rect x="1453.2" y="214" width="2" height="2" fill="#0070fe"/><rect x="1457.2" y="214" width="2" height="2" fill="#2a40ff"/><rect x="1459.2" y="214" width="2" height="2" fill="#3a5aff"/><rect x="1427.2" y="216" width="2" height="2" fill="#1c4aff"/><rect x="1431.2" y="216" width="2" height="2" fill="#0b5fff"/><rect x="1435.2" y="216" width="2" height="2" fill="#009ef1"/><rect x="1437.2" y="216" width="2" height="2" fill="#0aceb6"/><rect x="1439.2" y="216" width="2" height="2" fill="#1ad969"/><rect x="1441.2" y="216" width="2" height="2" fill="#2fdf48"/><rect x="1443.2" y="216" width="4" height="2" fill="#3ae13d"/><rect x="1447.2" y="216" width="2" height="2" fill="#2fdf48"/><rect x="1449.2" y="216" width="2" height="2" fill="#09ceba"/><rect x="1451.2" y="216" width="2" height="2" fill="#006dff"/><rect x="1455.2" y="216" width="2" height="2" fill="#1750ff"/><rect x="1457.2" y="216" width="2" height="2" fill="#6a80ff"/><rect x="1419.2" y="218" width="2" height="2" fill="#3a5aff"/><rect x="1425.2" y="218" width="2" height="2" fill="#1158ff"/><rect x="1427.2" y="218" width="2" height="2" fill="#0d5cff"/><rect x="1431.2" y="218" width="2" height="2" fill="#008cf6"/><rect x="1433.2" y="218" width="2" height="2" fill="#00c7e6"/><rect x="1435.2" y="218" width="2" height="2" fill="#19d96d"/><rect x="1437.2" y="218" width="2" height="2" fill="#23dd54"/><rect x="1439.2" y="218" width="2" height="2" fill="#3de23a"/><rect x="1441.2" y="218" width="2" height="2" fill="#48e42f"/><rect x="1443.2" y="218" width="2" height="2" fill="#41e336"/><rect x="1445.2" y="218" width="2" height="2" fill="#36e041"/><rect x="1447.2" y="218" width="2" height="2" fill="#1edc59"/><rect x="1449.2" y="218" width="2" height="2" fill="#00a7ef"/><rect x="1417.2" y="220" width="2" height="2" fill="#6a80ff"/><rect x="1419.2" y="220" width="2" height="2" fill="#1e47ff"/><rect x="1421.2" y="220" width="2" height="2" fill="#1c4aff"/><rect x="1423.2" y="220" width="2" height="2" fill="#0f5aff"/><rect x="1425.2" y="220" width="2" height="2" fill="#0a60ff"/><rect x="1427.2" y="220" width="2" height="2" fill="#0088f7"/><rect x="1429.2" y="220" width="2" height="2" fill="#00b9ea"/><rect x="1431.2" y="220" width="2" height="2" fill="#09ceb9"/><rect x="1433.2" y="220" width="2" height="2" fill="#23dd54"/><rect x="1435.2" y="220" width="2" height="2" fill="#35e042"/><rect x="1437.2" y="220" width="2" height="2" fill="#38e13f"/><rect x="1439.2" y="220" width="2" height="2" fill="#43e334"/><rect x="1441.2" y="220" width="2" height="2" fill="#4fe528"/><rect x="1443.2" y="220" width="2" height="2" fill="#39e13e"/><rect x="1445.2" y="220" width="2" height="2" fill="#24dd53"/><rect x="1447.2" y="220" width="2" height="2" fill="#00b3eb"/><rect x="1449.2" y="220" width="2" height="2" fill="#016cff"/><rect x="1453.2" y="220" width="2" height="2" fill="#2143ff"/><rect x="1415.2" y="222" width="2" height="2" fill="#5060ff"/><rect x="1423.2" y="222" width="2" height="2" fill="#007ffa"/><rect x="1425.2" y="222" width="2" height="2" fill="#00c1e7"/><rect x="1427.2" y="222" width="2" height="2" fill="#0fd29d"/><rect x="1429.2" y="222" width="2" height="2" fill="#20dc57"/><rect x="1431.2" y="222" width="2" height="2" fill="#31df46"/><rect x="1433.2" y="222" width="2" height="2" fill="#42e335"/><rect x="1435.2" y="222" width="2" height="2" fill="#44e333"/><rect x="1437.2" y="222" width="2" height="2" fill="#52e627"/><rect x="1439.2" y="222" width="2" height="2" fill="#47e430"/><rect x="1441.2" y="222" width="2" height="2" fill="#35e042"/><rect x="1443.2" y="222" width="2" height="2" fill="#24dd53"/><rect x="1445.2" y="222" width="2" height="2" fill="#07cdc1"/><rect x="1447.2" y="222" width="2" height="2" fill="#016bff"/><rect x="1449.2" y="222" width="2" height="2" fill="#0962ff"/><rect x="1451.2" y="222" width="2" height="2" fill="#1553ff"/><rect x="1413.2" y="224" width="2" height="2" fill="#6a80ff"/><rect x="1417.2" y="224" width="2" height="2" fill="#194eff"/><rect x="1421.2" y="224" width="2" height="2" fill="#0084f8"/><rect x="1423.2" y="224" width="2" height="2" fill="#08cdbe"/><rect x="1425.2" y="224" width="2" height="2" fill="#23dd54"/><rect x="1427.2" y="224" width="2" height="2" fill="#2ade4d"/><rect x="1429.2" y="224" width="2" height="2" fill="#40e237"/><rect x="1431.2" y="224" width="2" height="2" fill="#49e42e"/><rect x="1433.2" y="224" width="2" height="2" fill="#64e625"/><rect x="1435.2" y="224" width="2" height="2" fill="#4ee529"/><rect x="1437.2" y="224" width="2" height="2" fill="#47e430"/><rect x="1439.2" y="224" width="2" height="2" fill="#35e042"/><rect x="1441.2" y="224" width="2" height="2" fill="#2edf49"/><rect x="1443.2" y="224" width="2" height="2" fill="#03cad4"/><rect x="1445.2" y="224" width="2" height="2" fill="#0084f8"/><rect x="1451.2" y="224" width="2" height="2" fill="#5060ff"/><rect x="1453.2" y="224" width="2" height="2" fill="#6a80ff"/><rect x="1409.2" y="226" width="2" height="2" fill="#6a80ff"/><rect x="1411.2" y="226" width="2" height="2" fill="#2a40ff"/><rect x="1413.2" y="226" width="2" height="2" fill="#1652ff"/><rect x="1417.2" y="226" width="2" height="2" fill="#016cff"/><rect x="1419.2" y="226" width="2" height="2" fill="#00a7ef"/><rect x="1421.2" y="226" width="2" height="2" fill="#06ccc5"/><rect x="1423.2" y="226" width="2" height="2" fill="#25dd52"/><rect x="1425.2" y="226" width="2" height="2" fill="#3ae13d"/><rect x="1427.2" y="226" width="2" height="2" fill="#49e42e"/><rect x="1429.2" y="226" width="2" height="2" fill="#91e61f"/><rect x="1431.2" y="226" width="2" height="2" fill="#f2d010"/><rect x="1433.2" y="226" width="2" height="2" fill="#8fe620"/><rect x="1435.2" y="226" width="2" height="2" fill="#4be52c"/><rect x="1437.2" y="226" width="2" height="2" fill="#40e237"/><rect x="1439.2" y="226" width="2" height="2" fill="#2ade4d"/><rect x="1441.2" y="226" width="2" height="2" fill="#07cdc1"/><rect x="1443.2" y="226" width="2" height="2" fill="#009df1"/><rect x="1445.2" y="226" width="2" height="2" fill="#026bff"/><rect x="1449.2" y="226" width="2" height="2" fill="#1750ff"/><rect x="1409.2" y="228" width="2" height="2" fill="#3a5aff"/><rect x="1413.2" y="228" width="2" height="2" fill="#1553ff"/><rect x="1415.2" y="228" width="2" height="2" fill="#0764ff"/><rect x="1419.2" y="228" width="2" height="2" fill="#08cdbf"/><rect x="1421.2" y="228" width="2" height="2" fill="#27dd50"/><rect x="1423.2" y="228" width="2" height="2" fill="#47e430"/><rect x="1425.2" y="228" width="2" height="2" fill="#6be624"/><rect x="1427.2" y="228" width="2" height="2" fill="#f0e012"/><rect x="1429.2" y="228" width="2" height="2" fill="#f7af0a"/><rect x="1431.2" y="228" width="2" height="2" fill="#f4c40d"/><rect x="1433.2" y="228" width="2" height="2" fill="#f0df12"/><rect x="1435.2" y="228" width="2" height="2" fill="#4de52a"/><rect x="1437.2" y="228" width="2" height="2" fill="#2bde4c"/><rect x="1439.2" y="228" width="2" height="2" fill="#0acfb4"/><rect x="1441.2" y="228" width="2" height="2" fill="#00a3f0"/><rect x="1445.2" y="228" width="2" height="2" fill="#1356ff"/><rect x="1447.2" y="228" width="2" height="2" fill="#2144ff"/><rect x="1409.2" y="230" width="2" height="2" fill="#1e47ff"/><rect x="1415.2" y="230" width="2" height="2" fill="#007dfa"/><rect x="1417.2" y="230" width="2" height="2" fill="#07ccc3"/><rect x="1419.2" y="230" width="2" height="2" fill="#2bde4c"/><rect x="1421.2" y="230" width="2" height="2" fill="#44e333"/><rect x="1423.2" y="230" width="2" height="2" fill="#98e61e"/><rect x="1425.2" y="230" width="2" height="2" fill="#f6b20a"/><rect x="1427.2" y="230" width="2" height="2" fill="#f12700"/><rect x="1429.2" y="230" width="2" height="2" fill="#f43700"/><rect x="1431.2" y="230" width="2" height="2" fill="#f7b10a"/><rect x="1433.2" y="230" width="2" height="2" fill="#52e627"/><rect x="1435.2" y="230" width="2" height="2" fill="#37e140"/><rect x="1437.2" y="230" width="2" height="2" fill="#12d490"/><rect x="1439.2" y="230" width="2" height="2" fill="#00aced"/><rect x="1441.2" y="230" width="2" height="2" fill="#0078fc"/><rect x="1443.2" y="230" width="2" height="2" fill="#1454ff"/><rect x="1447.2" y="230" width="2" height="2" fill="#6a80ff"/><rect x="1407.2" y="232" width="2" height="2" fill="#1f46ff"/><rect x="1409.2" y="232" width="2" height="2" fill="#194eff"/><rect x="1411.2" y="232" width="2" height="2" fill="#0369ff"/><rect x="1413.2" y="232" width="2" height="2" fill="#009ff1"/><rect x="1415.2" y="232" width="2" height="2" fill="#0fd29b"/><rect x="1417.2" y="232" width="2" height="2" fill="#2bde4c"/><rect x="1419.2" y="232" width="2" height="2" fill="#49e42e"/><rect x="1421.2" y="232" width="2" height="2" fill="#9de61e"/><rect x="1423.2" y="232" width="2" height="2" fill="#f74800"/><rect x="1425.2" y="232" width="2" height="2" fill="#f33100"/><rect x="1427.2" y="232" width="2" height="2" fill="#f01e00"/><rect x="1429.2" y="232" width="2" height="2" fill="#f6b50b"/><rect x="1431.2" y="232" width="2" height="2" fill="#74e623"/><rect x="1433.2" y="232" width="2" height="2" fill="#3ae13d"/><rect x="1435.2" y="232" width="2" height="2" fill="#1fdc58"/><rect x="1437.2" y="232" width="2" height="2" fill="#01c9de"/><rect x="1439.2" y="232" width="2" height="2" fill="#026bff"/><rect x="1445.2" y="232" width="2" height="2" fill="#1b4bff"/><rect x="1405.2" y="234" width="2" height="2" fill="#1652ff"/><rect x="1407.2" y="234" width="2" height="2" fill="#1158ff"/><rect x="1413.2" y="234" width="2" height="2" fill="#0aceb7"/><rect x="1415.2" y="234" width="2" height="2" fill="#23dd54"/><rect x="1417.2" y="234" width="2" height="2" fill="#3be13c"/><rect x="1419.2" y="234" width="2" height="2" fill="#60e625"/><rect x="1421.2" y="234" width="2" height="2" fill="#f6b60b"/><rect x="1423.2" y="234" width="4" height="2" fill="#f01e00"/><rect x="1427.2" y="234" width="2" height="2" fill="#f8a508"/><rect x="1429.2" y="234" width="2" height="2" fill="#77e623"/><rect x="1431.2" y="234" width="2" height="2" fill="#3fe238"/><rect x="1433.2" y="234" width="2" height="2" fill="#25dd52"/><rect x="1435.2" y="234" width="2" height="2" fill="#00c2e7"/><rect x="1437.2" y="234" width="2" height="2" fill="#0083f9"/><rect x="1441.2" y="234" width="2" height="2" fill="#0f5aff"/><rect x="1443.2" y="234" width="2" height="2" fill="#1e47ff"/><rect x="1409.2" y="236" width="2" height="2" fill="#0085f8"/><rect x="1411.2" y="236" width="2" height="2" fill="#009af2"/><rect x="1413.2" y="236" width="2" height="2" fill="#13d48c"/><rect x="1415.2" y="236" width="2" height="2" fill="#30df47"/><rect x="1417.2" y="236" width="2" height="2" fill="#42e335"/><rect x="1419.2" y="236" width="2" height="2" fill="#e7e615"/><rect x="1421.2" y="236" width="2" height="2" fill="#f7ac09"/><rect x="1423.2" y="236" width="2" height="2" fill="#fe7e01"/><rect x="1425.2" y="236" width="2" height="2" fill="#f7ab09"/><rect x="1427.2" y="236" width="2" height="2" fill="#92e61f"/><rect x="1429.2" y="236" width="2" height="2" fill="#3fe238"/><rect x="1431.2" y="236" width="2" height="2" fill="#2ade4d"/><rect x="1433.2" y="236" width="2" height="2" fill="#08cdc0"/><rect x="1443.2" y="236" width="2" height="2" fill="#3a5aff"/><rect x="1409.2" y="238" width="2" height="2" fill="#008ef5"/><rect x="1411.2" y="238" width="2" height="2" fill="#05cbce"/><rect x="1413.2" y="238" width="2" height="2" fill="#27dd50"/><rect x="1415.2" y="238" width="2" height="2" fill="#3de23a"/><rect x="1417.2" y="238" width="2" height="2" fill="#4ae42d"/><rect x="1419.2" y="238" width="2" height="2" fill="#e9e614"/><rect x="1421.2" y="238" width="2" height="2" fill="#a0e61d"/><rect x="1423.2" y="238" width="2" height="2" fill="#92e61f"/><rect x="1425.2" y="238" width="2" height="2" fill="#47e430"/><rect x="1427.2" y="238" width="2" height="2" fill="#35e042"/><rect x="1429.2" y="238" width="2" height="2" fill="#29de4e"/><rect x="1431.2" y="238" width="2" height="2" fill="#08cdbc"/><rect x="1433.2" y="238" width="2" height="2" fill="#00a3f0"/><rect x="1435.2" y="238" width="2" height="2" fill="#016cff"/><rect x="1439.2" y="238" width="2" height="2" fill="#1a4cff"/><rect x="1441.2" y="238" width="2" height="2" fill="#6a80ff"/><rect x="1399.2" y="240" width="2" height="2" fill="#3a5aff"/><rect x="1401.2" y="240" width="2" height="2" fill="#1f46ff"/><rect x="1403.2" y="240" width="2" height="2" fill="#1651ff"/><rect x="1407.2" y="240" width="2" height="2" fill="#0369ff"/><rect x="1409.2" y="240" width="2" height="2" fill="#00a8ee"/><rect x="1411.2" y="240" width="2" height="2" fill="#10d398"/><rect x="1413.2" y="240" width="2" height="2" fill="#2cde4b"/><rect x="1415.2" y="240" width="2" height="2" fill="#36e041"/><rect x="1417.2" y="240" width="2" height="2" fill="#4ce52b"/><rect x="1419.2" y="240" width="2" height="2" fill="#6be624"/><rect x="1421.2" y="240" width="2" height="2" fill="#48e42f"/><rect x="1423.2" y="240" width="2" height="2" fill="#3be13c"/><rect x="1425.2" y="240" width="2" height="2" fill="#2fdf48"/><rect x="1427.2" y="240" width="2" height="2" fill="#15d67f"/><rect x="1429.2" y="240" width="2" height="2" fill="#0acfb4"/><rect x="1431.2" y="240" width="2" height="2" fill="#008bf6"/><rect x="1435.2" y="240" width="2" height="2" fill="#0e5cff"/><rect x="1439.2" y="240" width="2" height="2" fill="#3a5aff"/><rect x="1401.2" y="242" width="2" height="2" fill="#1c4aff"/><rect x="1403.2" y="242" width="2" height="2" fill="#1651ff"/><rect x="1405.2" y="242" width="2" height="2" fill="#0b5fff"/><rect x="1407.2" y="242" width="2" height="2" fill="#0090f5"/><rect x="1409.2" y="242" width="2" height="2" fill="#00b7ea"/><rect x="1411.2" y="242" width="2" height="2" fill="#18d873"/><rect x="1413.2" y="242" width="2" height="2" fill="#25dd52"/><rect x="1415.2" y="242" width="2" height="2" fill="#35e042"/><rect x="1417.2" y="242" width="2" height="2" fill="#3fe238"/><rect x="1419.2" y="242" width="2" height="2" fill="#39e13e"/><rect x="1421.2" y="242" width="2" height="2" fill="#33e044"/><rect x="1423.2" y="242" width="2" height="2" fill="#29de4e"/><rect x="1425.2" y="242" width="2" height="2" fill="#15d680"/><rect x="1427.2" y="242" width="2" height="2" fill="#03cad7"/><rect x="1429.2" y="242" width="2" height="2" fill="#0096f3"/><rect x="1393.2" y="244" width="2" height="2" fill="#5060ff"/><rect x="1403.2" y="244" width="2" height="2" fill="#0e5cff"/><rect x="1405.2" y="244" width="2" height="2" fill="#007bfb"/><rect x="1407.2" y="244" width="2" height="2" fill="#00a7ee"/><rect x="1409.2" y="244" width="2" height="2" fill="#08cdbd"/><rect x="1411.2" y="244" width="2" height="2" fill="#1bda63"/><rect x="1413.2" y="244" width="2" height="2" fill="#21dc56"/><rect x="1415.2" y="244" width="2" height="2" fill="#26dd51"/><rect x="1417.2" y="244" width="2" height="2" fill="#2ade4d"/><rect x="1419.2" y="244" width="2" height="2" fill="#2bde4c"/><rect x="1421.2" y="244" width="2" height="2" fill="#22dc55"/><rect x="1423.2" y="244" width="2" height="2" fill="#09ceb9"/><rect x="1425.2" y="244" width="2" height="2" fill="#00c2e7"/><rect x="1429.2" y="244" width="2" height="2" fill="#0764ff"/><rect x="1433.2" y="244" width="2" height="2" fill="#1750ff"/><rect x="1437.2" y="244" width="2" height="2" fill="#6a80ff"/><rect x="1397.2" y="246" width="2" height="2" fill="#6a80ff"/><rect x="1399.2" y="246" width="2" height="2" fill="#1553ff"/><rect x="1401.2" y="246" width="2" height="2" fill="#1750ff"/><rect x="1405.2" y="246" width="2" height="2" fill="#0075fc"/><rect x="1407.2" y="246" width="2" height="2" fill="#008af7"/><rect x="1409.2" y="246" width="2" height="2" fill="#00abed"/><rect x="1411.2" y="246" width="2" height="2" fill="#0dd0a8"/><rect x="1413.2" y="246" width="2" height="2" fill="#12d490"/><rect x="1415.2" y="246" width="2" height="2" fill="#20dc57"/><rect x="1417.2" y="246" width="2" height="2" fill="#0acfb3"/><rect x="1419.2" y="246" width="2" height="2" fill="#0bcfb2"/><rect x="1421.2" y="246" width="2" height="2" fill="#01c9de"/><rect x="1423.2" y="246" width="2" height="2" fill="#00b1ec"/><rect x="1427.2" y="246" width="2" height="2" fill="#0666ff"/><rect x="1429.2" y="246" width="2" height="2" fill="#0d5dff"/><rect x="1431.2" y="246" width="2" height="2" fill="#1f46ff"/><rect x="1433.2" y="246" width="2" height="2" fill="#2242ff"/><rect x="1435.2" y="246" width="2" height="2" fill="#2a40ff"/><rect x="1395.2" y="248" width="2" height="2" fill="#2a40ff"/><rect x="1397.2" y="248" width="2" height="2" fill="#2044ff"/><rect x="1399.2" y="248" width="2" height="2" fill="#194eff"/><rect x="1401.2" y="248" width="4" height="2" fill="#0f5aff"/><rect x="1405.2" y="248" width="2" height="2" fill="#0072fd"/><rect x="1409.2" y="248" width="2" height="2" fill="#00b4eb"/><rect x="1411.2" y="248" width="2" height="2" fill="#04cbce"/><rect x="1413.2" y="248" width="2" height="2" fill="#00afec"/><rect x="1415.2" y="248" width="2" height="2" fill="#00b9ea"/><rect x="1417.2" y="248" width="2" height="2" fill="#00b6ea"/><rect x="1419.2" y="248" width="2" height="2" fill="#008cf6"/><rect x="1421.2" y="248" width="2" height="2" fill="#0097f3"/><rect x="1425.2" y="248" width="2" height="2" fill="#0765ff"/><rect x="1427.2" y="248" width="2" height="2" fill="#184fff"/><rect x="1429.2" y="248" width="2" height="2" fill="#1454ff"/><rect x="1431.2" y="248" width="2" height="2" fill="#1a4cff"/><rect x="1435.2" y="248" width="2" height="2" fill="#2a40ff"/><rect x="1393.2" y="250" width="2" height="2" fill="#2a40ff"/><rect x="1395.2" y="250" width="2" height="2" fill="#5060ff"/><rect x="1397.2" y="250" width="2" height="2" fill="#1f46ff"/><rect x="1399.2" y="250" width="4" height="2" fill="#184fff"/><rect x="1403.2" y="250" width="2" height="2" fill="#0f5aff"/><rect x="1405.2" y="250" width="2" height="2" fill="#0566ff"/><rect x="1407.2" y="250" width="2" height="2" fill="#026aff"/><rect x="1411.2" y="250" width="2" height="2" fill="#007afb"/><rect x="1413.2" y="250" width="2" height="2" fill="#0088f7"/><rect x="1415.2" y="250" width="2" height="2" fill="#00a4ef"/><rect x="1417.2" y="250" width="2" height="2" fill="#0070fe"/><rect x="1419.2" y="250" width="2" height="2" fill="#008af7"/><rect x="1421.2" y="250" width="2" height="2" fill="#0566ff"/><rect x="1429.2" y="250" width="2" height="2" fill="#2045ff"/><rect x="1431.2" y="250" width="2" height="2" fill="#3a5aff"/><rect x="1433.2" y="250" width="2" height="2" fill="#5060ff"/><rect x="1395.2" y="252" width="2" height="2" fill="#2a40ff"/><rect x="1397.2" y="252" width="2" height="2" fill="#184eff"/><rect x="1399.2" y="252" width="2" height="2" fill="#1552ff"/><rect x="1401.2" y="252" width="2" height="2" fill="#1651ff"/><rect x="1403.2" y="252" width="2" height="2" fill="#0f5bff"/><rect x="1405.2" y="252" width="2" height="2" fill="#0a60ff"/><rect x="1407.2" y="252" width="2" height="2" fill="#026bff"/><rect x="1409.2" y="252" width="2" height="2" fill="#006efe"/><rect x="1411.2" y="252" width="2" height="2" fill="#006dff"/><rect x="1413.2" y="252" width="2" height="2" fill="#007cfb"/><rect x="1415.2" y="252" width="2" height="2" fill="#006dff"/><rect x="1419.2" y="252" width="2" height="2" fill="#0764ff"/><rect x="1421.2" y="252" width="2" height="2" fill="#0f5aff"/><rect x="1423.2" y="252" width="2" height="2" fill="#1750ff"/><rect x="1425.2" y="252" width="2" height="2" fill="#184fff"/><rect x="1431.2" y="252" width="2" height="2" fill="#3a5aff"/><rect x="1391.2" y="254" width="2" height="2" fill="#2a40ff"/><rect x="1393.2" y="254" width="2" height="2" fill="#6a80ff"/><rect x="1397.2" y="254" width="2" height="2" fill="#2144ff"/><rect x="1399.2" y="254" width="2" height="2" fill="#1c4aff"/><rect x="1401.2" y="254" width="2" height="2" fill="#1454ff"/><rect x="1403.2" y="254" width="2" height="2" fill="#1157ff"/><rect x="1405.2" y="254" width="2" height="2" fill="#0a60ff"/><rect x="1419.2" y="254" width="2" height="2" fill="#0a60ff"/><rect x="1421.2" y="254" width="2" height="2" fill="#1750ff"/><rect x="1427.2" y="254" width="2" height="2" fill="#2a40ff"/><rect x="1391.2" y="256" width="2" height="2" fill="#6a80ff"/><rect x="1395.2" y="256" width="2" height="2" fill="#2a40ff"/><rect x="1399.2" y="256" width="2" height="2" fill="#1f46ff"/><rect x="1403.2" y="256" width="2" height="2" fill="#1157ff"/><rect x="1405.2" y="256" width="2" height="2" fill="#1355ff"/><rect x="1407.2" y="256" width="2" height="2" fill="#0e5bff"/><rect x="1409.2" y="256" width="2" height="2" fill="#1553ff"/><rect x="1413.2" y="256" width="2" height="2" fill="#0c5dff"/><rect x="1415.2" y="256" width="2" height="2" fill="#1158ff"/><rect x="1419.2" y="256" width="2" height="2" fill="#1157ff"/><rect x="1423.2" y="256" width="2" height="2" fill="#184fff"/><rect x="1397.2" y="258" width="2" height="2" fill="#5060ff"/><rect x="1399.2" y="258" width="2" height="2" fill="#1d48ff"/><rect x="1403.2" y="258" width="2" height="2" fill="#1b4bff"/><rect x="1407.2" y="258" width="2" height="2" fill="#1058ff"/><rect x="1409.2" y="258" width="2" height="2" fill="#1355ff"/><rect x="1411.2" y="258" width="2" height="2" fill="#1454ff"/><rect x="1413.2" y="258" width="4" height="2" fill="#1257ff"/><rect x="1419.2" y="258" width="2" height="2" fill="#1652ff"/><rect x="1425.2" y="258" width="2" height="2" fill="#2a40ff"/><rect x="1427.2" y="258" width="2" height="2" fill="#5060ff"/><rect x="1395.2" y="260" width="2" height="2" fill="#2a40ff"/><rect x="1401.2" y="260" width="2" height="2" fill="#194dff"/><rect x="1409.2" y="260" width="2" height="2" fill="#194eff"/><rect x="1413.2" y="260" width="2" height="2" fill="#194dff"/><rect x="1415.2" y="260" width="2" height="2" fill="#1a4cff"/><rect x="1423.2" y="260" width="2" height="2" fill="#184fff"/><rect x="1397.2" y="262" width="2" height="2" fill="#5060ff"/><rect x="1399.2" y="262" width="2" height="2" fill="#6a80ff"/><rect x="1403.2" y="262" width="2" height="2" fill="#5060ff"/><rect x="1405.2" y="262" width="2" height="2" fill="#2a40ff"/><rect x="1407.2" y="262" width="2" height="2" fill="#6a80ff"/><rect x="1411.2" y="262" width="2" height="2" fill="#6a80ff"/><rect x="1413.2" y="262" width="2" height="2" fill="#1e47ff"/><rect x="1421.2" y="262" width="2" height="2" fill="#1b4bff"/><rect x="1423.2" y="262" width="2" height="2" fill="#1f46ff"/><rect x="1399.2" y="264" width="2" height="2" fill="#5060ff"/><rect x="1401.2" y="264" width="2" height="2" fill="#6a80ff"/><rect x="1405.2" y="264" width="2" height="2" fill="#6a80ff"/><rect x="1413.2" y="264" width="2" height="2" fill="#6a80ff"/><rect x="1415.2" y="264" width="2" height="2" fill="#5060ff"/><rect x="1417.2" y="264" width="2" height="2" fill="#1b4cff"/><rect x="1423.2" y="264" width="2" height="2" fill="#2a40ff"/><rect x="1401.2" y="266" width="2" height="2" fill="#2a40ff"/><rect x="1419.2" y="266" width="2" height="2" fill="#2341ff"/><rect x="1423.2" y="266" width="2" height="2" fill="#3a5aff"/><rect x="1407.2" y="268" width="2" height="2" fill="#3a5aff"/><rect x="1415.2" y="268" width="6" height="2" fill="#6a80ff"/><rect x="1421.2" y="268" width="2" height="2" fill="#5060ff"/><rect x="1415.2" y="270" width="2" height="2" fill="#3a5aff"/><rect x="1423.2" y="272" width="2" height="2" fill="#3a5aff"/><rect x="1421.2" y="274" width="2" height="2" fill="#3a5aff"/></g>
<rect x="1380.20" y="74.00" width="217.80" height="218.20" fill="none" stroke="#2a2a2a" stroke-width="1.4"/>
<line x1="1442.00" y1="74.00" x2="1442.00" y2="292.20" stroke="#111" stroke-width="2.0" />
<line x1="1380.20" y1="221.70" x2="1598.00" y2="221.70" stroke="#111" stroke-width="2.0" />
<line x1="1373.90" y1="271.70" x2="1380.20" y2="271.70" stroke="#111" stroke-width="2.0" />
<line x1="1377.20" y1="260.26" x2="1380.20" y2="260.26" stroke="#333" stroke-width="1.2" />
<line x1="1377.20" y1="253.57" x2="1380.20" y2="253.57" stroke="#333" stroke-width="1.2" />
<line x1="1377.20" y1="248.82" x2="1380.20" y2="248.82" stroke="#333" stroke-width="1.2" />
<line x1="1377.20" y1="245.14" x2="1380.20" y2="245.14" stroke="#333" stroke-width="1.2" />
<line x1="1377.20" y1="242.13" x2="1380.20" y2="242.13" stroke="#333" stroke-width="1.2" />
<line x1="1377.20" y1="239.59" x2="1380.20" y2="239.59" stroke="#333" stroke-width="1.2" />
<line x1="1377.20" y1="237.38" x2="1380.20" y2="237.38" stroke="#333" stroke-width="1.2" />
<line x1="1377.20" y1="235.44" x2="1380.20" y2="235.44" stroke="#333" stroke-width="1.2" />
<line x1="1373.90" y1="233.70" x2="1380.20" y2="233.70" stroke="#111" stroke-width="2.0" />
<line x1="1377.20" y1="222.26" x2="1380.20" y2="222.26" stroke="#333" stroke-width="1.2" />
<line x1="1377.20" y1="215.57" x2="1380.20" y2="215.57" stroke="#333" stroke-width="1.2" />
<line x1="1377.20" y1="210.82" x2="1380.20" y2="210.82" stroke="#333" stroke-width="1.2" />
<line x1="1377.20" y1="207.14" x2="1380.20" y2="207.14" stroke="#333" stroke-width="1.2" />
<line x1="1377.20" y1="204.13" x2="1380.20" y2="204.13" stroke="#333" stroke-width="1.2" />
<line x1="1377.20" y1="201.59" x2="1380.20" y2="201.59" stroke="#333" stroke-width="1.2" />
<line x1="1377.20" y1="199.38" x2="1380.20" y2="199.38" stroke="#333" stroke-width="1.2" />
<line x1="1377.20" y1="197.44" x2="1380.20" y2="197.44" stroke="#333" stroke-width="1.2" />
<line x1="1373.90" y1="195.70" x2="1380.20" y2="195.70" stroke="#111" stroke-width="2.0" />
<line x1="1377.20" y1="184.26" x2="1380.20" y2="184.26" stroke="#333" stroke-width="1.2" />
<line x1="1377.20" y1="177.57" x2="1380.20" y2="177.57" stroke="#333" stroke-width="1.2" />
<line x1="1377.20" y1="172.82" x2="1380.20" y2="172.82" stroke="#333" stroke-width="1.2" />
<line x1="1377.20" y1="169.14" x2="1380.20" y2="169.14" stroke="#333" stroke-width="1.2" />
<line x1="1377.20" y1="166.13" x2="1380.20" y2="166.13" stroke="#333" stroke-width="1.2" />
<line x1="1377.20" y1="163.59" x2="1380.20" y2="163.59" stroke="#333" stroke-width="1.2" />
<line x1="1377.20" y1="161.38" x2="1380.20" y2="161.38" stroke="#333" stroke-width="1.2" />
<line x1="1377.20" y1="159.44" x2="1380.20" y2="159.44" stroke="#333" stroke-width="1.2" />
<line x1="1373.90" y1="157.70" x2="1380.20" y2="157.70" stroke="#111" stroke-width="2.0" />
<line x1="1377.20" y1="146.26" x2="1380.20" y2="146.26" stroke="#333" stroke-width="1.2" />
<line x1="1377.20" y1="139.57" x2="1380.20" y2="139.57" stroke="#333" stroke-width="1.2" />
<line x1="1377.20" y1="134.82" x2="1380.20" y2="134.82" stroke="#333" stroke-width="1.2" />
<line x1="1377.20" y1="131.14" x2="1380.20" y2="131.14" stroke="#333" stroke-width="1.2" />
<line x1="1377.20" y1="128.13" x2="1380.20" y2="128.13" stroke="#333" stroke-width="1.2" />
<line x1="1377.20" y1="125.59" x2="1380.20" y2="125.59" stroke="#333" stroke-width="1.2" />
<line x1="1377.20" y1="123.38" x2="1380.20" y2="123.38" stroke="#333" stroke-width="1.2" />
<line x1="1377.20" y1="121.44" x2="1380.20" y2="121.44" stroke="#333" stroke-width="1.2" />
<line x1="1373.90" y1="119.70" x2="1380.20" y2="119.70" stroke="#111" stroke-width="2.0" />
<line x1="1377.20" y1="108.26" x2="1380.20" y2="108.26" stroke="#333" stroke-width="1.2" />
<line x1="1377.20" y1="101.57" x2="1380.20" y2="101.57" stroke="#333" stroke-width="1.2" />
<line x1="1377.20" y1="96.82" x2="1380.20" y2="96.82" stroke="#333" stroke-width="1.2" />
<line x1="1377.20" y1="93.14" x2="1380.20" y2="93.14" stroke="#333" stroke-width="1.2" />
<line x1="1377.20" y1="90.13" x2="1380.20" y2="90.13" stroke="#333" stroke-width="1.2" />
<line x1="1377.20" y1="87.59" x2="1380.20" y2="87.59" stroke="#333" stroke-width="1.2" />
<line x1="1377.20" y1="85.38" x2="1380.20" y2="85.38" stroke="#333" stroke-width="1.2" />
<line x1="1377.20" y1="83.44" x2="1380.20" y2="83.44" stroke="#333" stroke-width="1.2" />
<line x1="1373.90" y1="81.70" x2="1380.20" y2="81.70" stroke="#111" stroke-width="2.0" />
<line x1="1377.20" y1="291.57" x2="1380.20" y2="291.57" stroke="#333" stroke-width="1.2" />
<line x1="1377.20" y1="286.82" x2="1380.20" y2="286.82" stroke="#333" stroke-width="1.2" />
<line x1="1377.20" y1="283.14" x2="1380.20" y2="283.14" stroke="#333" stroke-width="1.2" />
<line x1="1377.20" y1="280.13" x2="1380.20" y2="280.13" stroke="#333" stroke-width="1.2" />
<line x1="1377.20" y1="277.59" x2="1380.20" y2="277.59" stroke="#333" stroke-width="1.2" />
<line x1="1377.20" y1="275.38" x2="1380.20" y2="275.38" stroke="#333" stroke-width="1.2" />
<line x1="1377.20" y1="273.44" x2="1380.20" y2="273.44" stroke="#333" stroke-width="1.2" />
<line x1="1402.40" y1="292.20" x2="1402.40" y2="297.70" stroke="#111" stroke-width="2.0" />
<line x1="1416.28" y1="292.20" x2="1416.28" y2="295.20" stroke="#333" stroke-width="1.2" />
<line x1="1424.40" y1="292.20" x2="1424.40" y2="295.20" stroke="#333" stroke-width="1.2" />
<line x1="1430.15" y1="292.20" x2="1430.15" y2="295.20" stroke="#333" stroke-width="1.2" />
<line x1="1434.62" y1="292.20" x2="1434.62" y2="295.20" stroke="#333" stroke-width="1.2" />
<line x1="1438.27" y1="292.20" x2="1438.27" y2="295.20" stroke="#333" stroke-width="1.2" />
<line x1="1441.36" y1="292.20" x2="1441.36" y2="295.20" stroke="#333" stroke-width="1.2" />
<line x1="1444.03" y1="292.20" x2="1444.03" y2="295.20" stroke="#333" stroke-width="1.2" />
<line x1="1446.39" y1="292.20" x2="1446.39" y2="295.20" stroke="#333" stroke-width="1.2" />
<line x1="1448.50" y1="292.20" x2="1448.50" y2="297.70" stroke="#111" stroke-width="2.0" />
<line x1="1462.38" y1="292.20" x2="1462.38" y2="295.20" stroke="#333" stroke-width="1.2" />
<line x1="1470.50" y1="292.20" x2="1470.50" y2="295.20" stroke="#333" stroke-width="1.2" />
<line x1="1476.25" y1="292.20" x2="1476.25" y2="295.20" stroke="#333" stroke-width="1.2" />
<line x1="1480.72" y1="292.20" x2="1480.72" y2="295.20" stroke="#333" stroke-width="1.2" />
<line x1="1484.37" y1="292.20" x2="1484.37" y2="295.20" stroke="#333" stroke-width="1.2" />
<line x1="1487.46" y1="292.20" x2="1487.46" y2="295.20" stroke="#333" stroke-width="1.2" />
<line x1="1490.13" y1="292.20" x2="1490.13" y2="295.20" stroke="#333" stroke-width="1.2" />
<line x1="1492.49" y1="292.20" x2="1492.49" y2="295.20" stroke="#333" stroke-width="1.2" />
<line x1="1494.60" y1="292.20" x2="1494.60" y2="297.70" stroke="#111" stroke-width="2.0" />
<line x1="1508.48" y1="292.20" x2="1508.48" y2="295.20" stroke="#333" stroke-width="1.2" />
<line x1="1516.60" y1="292.20" x2="1516.60" y2="295.20" stroke="#333" stroke-width="1.2" />
<line x1="1522.35" y1="292.20" x2="1522.35" y2="295.20" stroke="#333" stroke-width="1.2" />
<line x1="1526.82" y1="292.20" x2="1526.82" y2="295.20" stroke="#333" stroke-width="1.2" />
<line x1="1530.47" y1="292.20" x2="1530.47" y2="295.20" stroke="#333" stroke-width="1.2" />
<line x1="1533.56" y1="292.20" x2="1533.56" y2="295.20" stroke="#333" stroke-width="1.2" />
<line x1="1536.23" y1="292.20" x2="1536.23" y2="295.20" stroke="#333" stroke-width="1.2" />
<line x1="1538.59" y1="292.20" x2="1538.59" y2="295.20" stroke="#333" stroke-width="1.2" />
<line x1="1540.70" y1="292.20" x2="1540.70" y2="297.70" stroke="#111" stroke-width="2.0" />
<line x1="1554.58" y1="292.20" x2="1554.58" y2="295.20" stroke="#333" stroke-width="1.2" />
<line x1="1562.70" y1="292.20" x2="1562.70" y2="295.20" stroke="#333" stroke-width="1.2" />
<line x1="1568.45" y1="292.20" x2="1568.45" y2="295.20" stroke="#333" stroke-width="1.2" />
<line x1="1572.92" y1="292.20" x2="1572.92" y2="295.20" stroke="#333" stroke-width="1.2" />
<line x1="1576.57" y1="292.20" x2="1576.57" y2="295.20" stroke="#333" stroke-width="1.2" />
<line x1="1579.66" y1="292.20" x2="1579.66" y2="295.20" stroke="#333" stroke-width="1.2" />
<line x1="1582.33" y1="292.20" x2="1582.33" y2="295.20" stroke="#333" stroke-width="1.2" />
<line x1="1584.69" y1="292.20" x2="1584.69" y2="295.20" stroke="#333" stroke-width="1.2" />
<line x1="1586.80" y1="292.20" x2="1586.80" y2="297.70" stroke="#111" stroke-width="2.0" />
<line x1="1384.05" y1="292.20" x2="1384.05" y2="295.20" stroke="#333" stroke-width="1.2" />
<line x1="1388.52" y1="292.20" x2="1388.52" y2="295.20" stroke="#333" stroke-width="1.2" />
<line x1="1392.17" y1="292.20" x2="1392.17" y2="295.20" stroke="#333" stroke-width="1.2" />
<line x1="1395.26" y1="292.20" x2="1395.26" y2="295.20" stroke="#333" stroke-width="1.2" />
<line x1="1397.93" y1="292.20" x2="1397.93" y2="295.20" stroke="#333" stroke-width="1.2" />
<line x1="1400.29" y1="292.20" x2="1400.29" y2="295.20" stroke="#333" stroke-width="1.2" />
<g transform="translate(1347.40,281.60)" fill="#000" ><text x="-1.20" y="0" font-size="14.44" font-family="'Liberation Serif','Times New Roman',serif" font-weight="bold" textLength="14.97" lengthAdjust="spacingAndGlyphs" style="white-space:pre">10</text></g>
<g transform="translate(1362.10,271.70)" fill="#000" ><text x="-0.72" y="0" font-size="13.29" font-family="'Liberation Serif','Times New Roman',serif" font-weight="bold" textLength="8.55" lengthAdjust="spacingAndGlyphs" style="white-space:pre">2</text></g>
<g transform="translate(1347.40,243.60)" fill="#000" ><text x="-1.20" y="0" font-size="14.44" font-family="'Liberation Serif','Times New Roman',serif" font-weight="bold" textLength="14.97" lengthAdjust="spacingAndGlyphs" style="white-space:pre">10</text></g>
<g transform="translate(1362.10,233.70)" fill="#000" ><text x="-0.62" y="0" font-size="13.29" font-family="'Liberation Serif','Times New Roman',serif" font-weight="bold" textLength="8.29" lengthAdjust="spacingAndGlyphs" style="white-space:pre">3</text></g>
<g transform="translate(1347.40,205.60)" fill="#000" ><text x="-1.20" y="0" font-size="14.44" font-family="'Liberation Serif','Times New Roman',serif" font-weight="bold" textLength="14.97" lengthAdjust="spacingAndGlyphs" style="white-space:pre">10</text></g>
<g transform="translate(1362.10,195.70)" fill="#000" ><text x="-0.21" y="0" font-size="13.37" font-family="'Liberation Serif','Times New Roman',serif" font-weight="bold" textLength="7.59" lengthAdjust="spacingAndGlyphs" style="white-space:pre">4</text></g>
<g transform="translate(1347.40,167.60)" fill="#000" ><text x="-1.20" y="0" font-size="14.44" font-family="'Liberation Serif','Times New Roman',serif" font-weight="bold" textLength="14.97" lengthAdjust="spacingAndGlyphs" style="white-space:pre">10</text></g>
<g transform="translate(1362.10,157.70)" fill="#000" ><text x="-0.67" y="0" font-size="13.44" font-family="'Liberation Serif','Times New Roman',serif" font-weight="bold" textLength="8.39" lengthAdjust="spacingAndGlyphs" style="white-space:pre">5</text></g>
<g transform="translate(1347.40,129.60)" fill="#000" ><text x="-1.20" y="0" font-size="14.44" font-family="'Liberation Serif','Times New Roman',serif" font-weight="bold" textLength="14.97" lengthAdjust="spacingAndGlyphs" style="white-space:pre">10</text></g>
<g transform="translate(1362.10,119.70)" fill="#000" ><text x="-0.56" y="0" font-size="13.29" font-family="'Liberation Serif','Times New Roman',serif" font-weight="bold" textLength="8.13" lengthAdjust="spacingAndGlyphs" style="white-space:pre">6</text></g>
<g transform="translate(1347.40,98.30)" fill="#000" ><text x="-1.20" y="0" font-size="14.44" font-family="'Liberation Serif','Times New Roman',serif" font-weight="bold" textLength="14.97" lengthAdjust="spacingAndGlyphs" style="white-space:pre">10</text></g>
<g transform="translate(1362.10,86.50)" fill="#000" ><text x="-0.97" y="0" font-size="13.44" font-family="'Liberation Serif','Times New Roman',serif" font-weight="bold" textLength="8.48" lengthAdjust="spacingAndGlyphs" style="white-space:pre">7</text></g>
<g transform="translate(1396.50,327.00)" fill="#000" ><text x="-1.27" y="0" font-size="15.19" font-family="'Liberation Serif','Times New Roman',serif" font-weight="bold" textLength="15.88" lengthAdjust="spacingAndGlyphs" style="white-space:pre">10</text></g>
<g transform="translate(1411.30,316.00)" fill="#000" ><text x="-0.60" y="0" font-size="13.74" font-family="'Liberation Serif','Times New Roman',serif" font-weight="bold" textLength="7.94" lengthAdjust="spacingAndGlyphs" style="white-space:pre">3</text></g>
<g transform="translate(1442.60,327.00)" fill="#000" ><text x="-1.27" y="0" font-size="15.19" font-family="'Liberation Serif','Times New Roman',serif" font-weight="bold" textLength="15.88" lengthAdjust="spacingAndGlyphs" style="white-space:pre">10</text></g>
<g transform="translate(1457.40,316.00)" fill="#000" ><text x="-0.20" y="0" font-size="13.83" font-family="'Liberation Serif','Times New Roman',serif" font-weight="bold" textLength="7.27" lengthAdjust="spacingAndGlyphs" style="white-space:pre">4</text></g>
<g transform="translate(1488.70,327.00)" fill="#000" ><text x="-1.27" y="0" font-size="15.19" font-family="'Liberation Serif','Times New Roman',serif" font-weight="bold" textLength="15.88" lengthAdjust="spacingAndGlyphs" style="white-space:pre">10</text></g>
<g transform="translate(1503.50,316.00)" fill="#000" ><text x="-0.64" y="0" font-size="13.90" font-family="'Liberation Serif','Times New Roman',serif" font-weight="bold" textLength="8.03" lengthAdjust="spacingAndGlyphs" style="white-space:pre">5</text></g>
<g transform="translate(1534.80,327.00)" fill="#000" ><text x="-1.27" y="0" font-size="15.19" font-family="'Liberation Serif','Times New Roman',serif" font-weight="bold" textLength="15.88" lengthAdjust="spacingAndGlyphs" style="white-space:pre">10</text></g>
<g transform="translate(1549.60,316.00)" fill="#000" ><text x="-0.53" y="0" font-size="13.74" font-family="'Liberation Serif','Times New Roman',serif" font-weight="bold" textLength="7.79" lengthAdjust="spacingAndGlyphs" style="white-space:pre">6</text></g>
<g transform="translate(1576.20,327.00)" fill="#000" ><text x="-1.27" y="0" font-size="15.19" font-family="'Liberation Serif','Times New Roman',serif" font-weight="bold" textLength="15.88" lengthAdjust="spacingAndGlyphs" style="white-space:pre">10</text></g>
<g transform="translate(1591.00,316.00)" fill="#000" ><text x="-0.93" y="0" font-size="13.90" font-family="'Liberation Serif','Times New Roman',serif" font-weight="bold" textLength="8.13" lengthAdjust="spacingAndGlyphs" style="white-space:pre">7</text></g>
<g transform="translate(1383.00,101.60)" fill="#000" stroke="#000" stroke-width="0.85"><text x="-1.02" y="0" font-size="21.14" font-family="'Liberation Serif','Times New Roman',serif" textLength="37.30" lengthAdjust="spacingAndGlyphs" style="white-space:pre">3.31</text></g>
<g transform="translate(1539.30,101.60)" fill="#000" stroke="#000" stroke-width="0.85"><text x="-1.91" y="0" font-size="21.05" font-family="'Liberation Serif','Times New Roman',serif" textLength="38.06" lengthAdjust="spacingAndGlyphs" style="white-space:pre">10.6</text></g>
<g transform="translate(1383.00,275.50)" fill="#000" stroke="#000" stroke-width="0.85"><text x="-0.77" y="0" font-size="21.05" font-family="'Liberation Serif','Times New Roman',serif" textLength="35.57" lengthAdjust="spacingAndGlyphs" style="white-space:pre">83.5</text></g>
<g transform="translate(1539.30,275.50)" fill="#000" stroke="#000" stroke-width="0.85"><text x="-0.93" y="0" font-size="21.14" font-family="'Liberation Serif','Times New Roman',serif" textLength="36.95" lengthAdjust="spacingAndGlyphs" style="white-space:pre">2.53</text></g>
<path d="M1598.00,123.30 H1528.70 V155.70 H1598.00" fill="none" stroke="#777" stroke-width="1.6"/>
<g transform="translate(1535.00,144.90)" fill="#000" ><text x="-0.73" y="0" font-size="16.16" font-family="'Liberation Serif','Times New Roman',serif" font-weight="bold" textLength="57.11" lengthAdjust="spacingAndGlyphs" style="white-space:pre">ZnONPs</text></g>
<g><rect x="1696.5" y="212.6" width="1.1" height="1.1" fill="#3040e0"/><rect x="1715.0" y="165.5" width="1.1" height="1.1" fill="#3040e0"/><rect x="1720.2" y="178.1" width="1.1" height="1.1" fill="#7080ff"/><rect x="1719.8" y="170.1" width="1.1" height="1.1" fill="#3040e0"/><rect x="1706.4" y="198.5" width="1.1" height="1.1" fill="#5a6aff"/><rect x="1703.9" y="214.9" width="1.1" height="1.1" fill="#4050ff"/><rect x="1731.6" y="166.8" width="1.1" height="1.1" fill="#5a6aff"/><rect x="1734.4" y="174.9" width="1.1" height="1.1" fill="#4050ff"/><rect x="1730.7" y="173.6" width="1.1" height="1.1" fill="#4050ff"/><rect x="1706.5" y="185.4" width="1.1" height="1.1" fill="#7080ff"/><rect x="1707.7" y="196.0" width="1.1" height="1.1" fill="#7080ff"/><rect x="1705.5" y="203.8" width="1.1" height="1.1" fill="#3040e0"/><rect x="1729.5" y="158.1" width="1.1" height="1.1" fill="#3040e0"/><rect x="1719.3" y="158.0" width="1.1" height="1.1" fill="#7080ff"/><rect x="1703.4" y="207.1" width="1.1" height="1.1" fill="#5a6aff"/><rect x="1732.7" y="162.0" width="1.1" height="1.1" fill="#5a6aff"/><rect x="1732.2" y="176.6" width="1.1" height="1.1" fill="#3040e0"/><rect x="1714.1" y="158.9" width="1.1" height="1.1" fill="#3040e0"/><rect x="1723.7" y="188.3" width="1.1" height="1.1" fill="#5a6aff"/><rect x="1733.3" y="170.0" width="1.1" height="1.1" fill="#3040e0"/><rect x="1727.1" y="174.9" width="1.1" height="1.1" fill="#3040e0"/><rect x="1712.7" y="175.1" width="1.1" height="1.1" fill="#4050ff"/><rect x="1718.2" y="183.0" width="1.1" height="1.1" fill="#3040e0"/><rect x="1706.9" y="183.4" width="1.1" height="1.1" fill="#4050ff"/><rect x="1716.6" y="159.5" width="1.1" height="1.1" fill="#7080ff"/><rect x="1707.8" y="156.2" width="1.1" height="1.1" fill="#5a6aff"/><rect x="1702.0" y="212.6" width="1.1" height="1.1" fill="#7080ff"/><rect x="1729.1" y="166.0" width="1.1" height="1.1" fill="#3040e0"/><rect x="1735.5" y="209.4" width="1.1" height="1.1" fill="#4050ff"/><rect x="1713.6" y="205.5" width="1.1" height="1.1" fill="#3040e0"/><rect x="1727.1" y="203.6" width="1.1" height="1.1" fill="#4050ff"/><rect x="1692.6" y="164.7" width="1.1" height="1.1" fill="#7080ff"/><rect x="1735.2" y="205.3" width="1.1" height="1.1" fill="#7080ff"/><rect x="1729.3" y="183.8" width="1.1" height="1.1" fill="#4050ff"/><rect x="1685.8" y="168.5" width="1.1" height="1.1" fill="#3040e0"/><rect x="1709.1" y="189.6" width="1.1" height="1.1" fill="#3040e0"/><rect x="1741.9" y="190.2" width="1.1" height="1.1" fill="#7080ff"/><rect x="1725.6" y="168.3" width="1.1" height="1.1" fill="#7080ff"/><rect x="1705.0" y="213.0" width="1.1" height="1.1" fill="#5a6aff"/><rect x="1716.7" y="168.7" width="1.1" height="1.1" fill="#3040e0"/><rect x="1731.4" y="190.9" width="1.1" height="1.1" fill="#7080ff"/><rect x="1689.2" y="158.2" width="1.1" height="1.1" fill="#3040e0"/><rect x="1725.1" y="212.9" width="1.1" height="1.1" fill="#5a6aff"/><rect x="1716.4" y="191.8" width="1.1" height="1.1" fill="#3040e0"/><rect x="1733.1" y="167.7" width="1.1" height="1.1" fill="#7080ff"/><rect x="1746.4" y="176.3" width="1.1" height="1.1" fill="#4050ff"/><rect x="1703.5" y="166.5" width="1.1" height="1.1" fill="#5a6aff"/><rect x="1716.3" y="182.0" width="1.1" height="1.1" fill="#7080ff"/><rect x="1722.0" y="188.0" width="1.1" height="1.1" fill="#7080ff"/><rect x="1712.9" y="155.7" width="1.1" height="1.1" fill="#3040e0"/><rect x="1718.6" y="209.1" width="1.1" height="1.1" fill="#3040e0"/><rect x="1719.4" y="200.1" width="1.1" height="1.1" fill="#5a6aff"/><rect x="1723.2" y="195.0" width="1.1" height="1.1" fill="#4050ff"/><rect x="1719.7" y="156.7" width="1.1" height="1.1" fill="#7080ff"/><rect x="1715.5" y="167.2" width="1.1" height="1.1" fill="#4050ff"/><rect x="1708.2" y="201.7" width="1.1" height="1.1" fill="#4050ff"/><rect x="1696.6" y="210.4" width="1.1" height="1.1" fill="#4050ff"/><rect x="1724.2" y="206.0" width="1.1" height="1.1" fill="#4050ff"/><rect x="1714.3" y="187.4" width="1.1" height="1.1" fill="#5a6aff"/><rect x="1719.8" y="213.5" width="1.1" height="1.1" fill="#3040e0"/><rect x="1716.6" y="187.6" width="1.1" height="1.1" fill="#7080ff"/><rect x="1729.0" y="179.3" width="1.1" height="1.1" fill="#4050ff"/><rect x="1679.7" y="159.9" width="1.1" height="1.1" fill="#4050ff"/><rect x="1711.7" y="192.6" width="1.1" height="1.1" fill="#3040e0"/><rect x="1715.3" y="162.6" width="1.1" height="1.1" fill="#5a6aff"/><rect x="1723.3" y="210.4" width="1.1" height="1.1" fill="#3040e0"/><rect x="1709.4" y="159.4" width="1.1" height="1.1" fill="#7080ff"/><rect x="1721.3" y="173.6" width="1.1" height="1.1" fill="#5a6aff"/><rect x="1711.8" y="185.3" width="1.1" height="1.1" fill="#5a6aff"/><rect x="1718.7" y="202.1" width="1.1" height="1.1" fill="#4050ff"/></g>
<g><rect x="1767.2" y="198.6" width="1.1" height="1.1" fill="#3040e0"/><rect x="1737.8" y="163.6" width="1.1" height="1.1" fill="#3040e0"/><rect x="1741.4" y="205.9" width="1.1" height="1.1" fill="#7080ff"/><rect x="1736.9" y="210.0" width="1.1" height="1.1" fill="#7080ff"/><rect x="1778.4" y="200.1" width="1.1" height="1.1" fill="#4050ff"/><rect x="1764.7" y="183.4" width="1.1" height="1.1" fill="#7080ff"/><rect x="1773.1" y="196.2" width="1.1" height="1.1" fill="#3040e0"/><rect x="1725.8" y="213.6" width="1.1" height="1.1" fill="#7080ff"/><rect x="1741.4" y="193.7" width="1.1" height="1.1" fill="#3040e0"/><rect x="1764.7" y="172.5" width="1.1" height="1.1" fill="#5a6aff"/><rect x="1731.4" y="181.6" width="1.1" height="1.1" fill="#3040e0"/><rect x="1784.2" y="203.8" width="1.1" height="1.1" fill="#4050ff"/><rect x="1775.4" y="189.2" width="1.1" height="1.1" fill="#5a6aff"/><rect x="1754.9" y="168.3" width="1.1" height="1.1" fill="#4050ff"/><rect x="1736.2" y="213.3" width="1.1" height="1.1" fill="#4050ff"/><rect x="1754.4" y="168.3" width="1.1" height="1.1" fill="#7080ff"/><rect x="1729.2" y="214.8" width="1.1" height="1.1" fill="#7080ff"/><rect x="1747.9" y="179.9" width="1.1" height="1.1" fill="#3040e0"/><rect x="1736.6" y="179.7" width="1.1" height="1.1" fill="#4050ff"/><rect x="1758.6" y="169.3" width="1.1" height="1.1" fill="#7080ff"/></g>
<g><rect x="1712.4" y="266.7" width="1.1" height="1.1" fill="#3040e0"/><rect x="1706.9" y="282.4" width="1.1" height="1.1" fill="#7080ff"/><rect x="1709.1" y="258.7" width="1.1" height="1.1" fill="#3040e0"/><rect x="1713.5" y="276.3" width="1.1" height="1.1" fill="#4050ff"/><rect x="1696.9" y="266.7" width="1.1" height="1.1" fill="#5a6aff"/><rect x="1724.2" y="222.9" width="1.1" height="1.1" fill="#5a6aff"/><rect x="1708.9" y="256.2" width="1.1" height="1.1" fill="#3040e0"/><rect x="1697.8" y="243.7" width="1.1" height="1.1" fill="#7080ff"/><rect x="1707.1" y="259.5" width="1.1" height="1.1" fill="#4050ff"/><rect x="1698.3" y="259.9" width="1.1" height="1.1" fill="#7080ff"/><rect x="1689.4" y="243.6" width="1.1" height="1.1" fill="#3040e0"/><rect x="1712.4" y="231.1" width="1.1" height="1.1" fill="#3040e0"/><rect x="1695.8" y="244.4" width="1.1" height="1.1" fill="#5a6aff"/><rect x="1683.7" y="248.6" width="1.1" height="1.1" fill="#5a6aff"/><rect x="1711.4" y="266.8" width="1.1" height="1.1" fill="#7080ff"/><rect x="1714.8" y="260.3" width="1.1" height="1.1" fill="#4050ff"/><rect x="1711.9" y="243.1" width="1.1" height="1.1" fill="#3040e0"/><rect x="1694.3" y="245.3" width="1.1" height="1.1" fill="#7080ff"/><rect x="1710.8" y="252.2" width="1.1" height="1.1" fill="#5a6aff"/><rect x="1695.9" y="248.7" width="1.1" height="1.1" fill="#4050ff"/><rect x="1697.2" y="245.4" width="1.1" height="1.1" fill="#7080ff"/><rect x="1710.8" y="223.1" width="1.1" height="1.1" fill="#4050ff"/><rect x="1711.4" y="247.3" width="1.1" height="1.1" fill="#4050ff"/><rect x="1683.1" y="251.5" width="1.1" height="1.1" fill="#5a6aff"/><rect x="1700.3" y="252.9" width="1.1" height="1.1" fill="#7080ff"/><rect x="1700.2" y="236.0" width="1.1" height="1.1" fill="#3040e0"/><rect x="1692.8" y="271.0" width="1.1" height="1.1" fill="#3040e0"/><rect x="1715.9" y="240.2" width="1.1" height="1.1" fill="#4050ff"/><rect x="1715.1" y="239.3" width="1.1" height="1.1" fill="#5a6aff"/><rect x="1688.7" y="231.1" width="1.1" height="1.1" fill="#7080ff"/><rect x="1720.3" y="248.6" width="1.1" height="1.1" fill="#7080ff"/><rect x="1703.5" y="247.4" width="1.1" height="1.1" fill="#3040e0"/><rect x="1694.2" y="254.7" width="1.1" height="1.1" fill="#7080ff"/><rect x="1720.5" y="228.5" width="1.1" height="1.1" fill="#5a6aff"/><rect x="1708.7" y="275.1" width="1.1" height="1.1" fill="#5a6aff"/><rect x="1723.7" y="242.0" width="1.1" height="1.1" fill="#3040e0"/><rect x="1684.1" y="248.7" width="1.1" height="1.1" fill="#4050ff"/><rect x="1723.3" y="238.0" width="1.1" height="1.1" fill="#5a6aff"/><rect x="1719.4" y="245.1" width="1.1" height="1.1" fill="#5a6aff"/><rect x="1704.6" y="253.6" width="1.1" height="1.1" fill="#5a6aff"/></g>
<g><rect x="1696.6" y="288.4" width="1.1" height="1.1" fill="#3040e0"/><rect x="1719.6" y="288.2" width="1.1" height="1.1" fill="#4050ff"/><rect x="1701.6" y="288.3" width="1.1" height="1.1" fill="#7080ff"/><rect x="1711.3" y="288.9" width="1.1" height="1.1" fill="#5a6aff"/><rect x="1700.6" y="288.4" width="1.1" height="1.1" fill="#7080ff"/><rect x="1704.2" y="288.4" width="1.1" height="1.1" fill="#7080ff"/><rect x="1692.3" y="288.0" width="1.1" height="1.1" fill="#4050ff"/></g>
<g shape-rendering="crispEdges"><rect x="1755" y="192" width="2" height="2" fill="#5060ff"/><rect x="1751" y="194" width="2" height="2" fill="#3a5aff"/><rect x="1755" y="194" width="2" height="2" fill="#1b4cff"/><rect x="1745" y="198" width="2" height="2" fill="#1453ff"/><rect x="1747" y="198" width="2" height="2" fill="#1651ff"/><rect x="1749" y="198" width="2" height="2" fill="#0f5bff"/><rect x="1751" y="198" width="2" height="2" fill="#1454ff"/><rect x="1753" y="198" width="2" height="2" fill="#1158ff"/><rect x="1755" y="198" width="2" height="2" fill="#1f46ff"/><rect x="1741" y="200" width="2" height="2" fill="#1b4bff"/><rect x="1745" y="200" width="2" height="2" fill="#0b5fff"/><rect x="1747" y="200" width="2" height="2" fill="#0b60ff"/><rect x="1749" y="200" width="2" height="2" fill="#0e5bff"/><rect x="1751" y="200" width="2" height="2" fill="#0f5bff"/><rect x="1755" y="200" width="2" height="2" fill="#2a40ff"/><rect x="1737" y="202" width="2" height="2" fill="#3a5aff"/><rect x="1739" y="202" width="2" height="2" fill="#1257ff"/><rect x="1747" y="202" width="2" height="2" fill="#0072fd"/><rect x="1749" y="202" width="2" height="2" fill="#0467ff"/><rect x="1751" y="202" width="2" height="2" fill="#0f5bff"/><rect x="1753" y="202" width="2" height="2" fill="#1750ff"/><rect x="1733" y="204" width="2" height="2" fill="#2a40ff"/><rect x="1735" y="204" width="2" height="2" fill="#1e47ff"/><rect x="1737" y="204" width="2" height="2" fill="#1059ff"/><rect x="1741" y="204" width="2" height="2" fill="#0076fc"/><rect x="1743" y="204" width="2" height="2" fill="#0090f5"/><rect x="1745" y="204" width="2" height="2" fill="#007afb"/><rect x="1749" y="204" width="2" height="2" fill="#194eff"/><rect x="1753" y="204" width="2" height="2" fill="#6a80ff"/><rect x="1723" y="206" width="2" height="2" fill="#3a5aff"/><rect x="1729" y="206" width="2" height="2" fill="#2a40ff"/><rect x="1735" y="206" width="2" height="2" fill="#0d5dff"/><rect x="1737" y="206" width="2" height="2" fill="#0666ff"/><rect x="1739" y="206" width="2" height="2" fill="#0074fd"/><rect x="1741" y="206" width="2" height="2" fill="#009df1"/><rect x="1743" y="206" width="2" height="2" fill="#0077fc"/><rect x="1745" y="206" width="2" height="2" fill="#0566ff"/><rect x="1749" y="206" width="2" height="2" fill="#1d48ff"/><rect x="1751" y="206" width="2" height="2" fill="#6a80ff"/><rect x="1723" y="208" width="2" height="2" fill="#6a80ff"/><rect x="1729" y="208" width="2" height="2" fill="#1c4aff"/><rect x="1731" y="208" width="4" height="2" fill="#0c5eff"/><rect x="1735" y="208" width="2" height="2" fill="#006efe"/><rect x="1737" y="208" width="2" height="2" fill="#0092f4"/><rect x="1739" y="208" width="2" height="2" fill="#0091f5"/><rect x="1741" y="208" width="2" height="2" fill="#00a3f0"/><rect x="1745" y="208" width="2" height="2" fill="#1256ff"/><rect x="1719" y="210" width="2" height="2" fill="#2a40ff"/><rect x="1721" y="210" width="2" height="2" fill="#6a80ff"/><rect x="1723" y="210" width="2" height="2" fill="#194dff"/><rect x="1725" y="210" width="2" height="2" fill="#184fff"/><rect x="1727" y="210" width="2" height="2" fill="#1453ff"/><rect x="1731" y="210" width="2" height="2" fill="#016bff"/><rect x="1733" y="210" width="2" height="2" fill="#00b8ea"/><rect x="1735" y="210" width="2" height="2" fill="#00aeed"/><rect x="1737" y="210" width="2" height="2" fill="#00c7e6"/><rect x="1743" y="210" width="2" height="2" fill="#0e5bff"/><rect x="1747" y="210" width="2" height="2" fill="#3a5aff"/><rect x="1713" y="212" width="2" height="2" fill="#2a40ff"/><rect x="1715" y="212" width="2" height="2" fill="#6a80ff"/><rect x="1719" y="212" width="2" height="2" fill="#1d48ff"/><rect x="1721" y="212" width="2" height="2" fill="#1651ff"/><rect x="1725" y="212" width="2" height="2" fill="#1059ff"/><rect x="1729" y="212" width="2" height="2" fill="#00a7ef"/><rect x="1731" y="212" width="2" height="2" fill="#09ceb7"/><rect x="1733" y="212" width="2" height="2" fill="#05cbce"/><rect x="1735" y="212" width="2" height="2" fill="#0bcfaf"/><rect x="1737" y="212" width="2" height="2" fill="#0095f4"/><rect x="1741" y="212" width="2" height="2" fill="#1750ff"/><rect x="1715" y="214" width="2" height="2" fill="#1f46ff"/><rect x="1717" y="214" width="2" height="2" fill="#1157ff"/><rect x="1721" y="214" width="2" height="2" fill="#0a61ff"/><rect x="1723" y="214" width="2" height="2" fill="#026aff"/><rect x="1725" y="214" width="2" height="2" fill="#00b2ec"/><rect x="1727" y="214" width="2" height="2" fill="#07ccc4"/><rect x="1729" y="214" width="2" height="2" fill="#13d58a"/><rect x="1731" y="214" width="2" height="2" fill="#24dd53"/><rect x="1733" y="214" width="2" height="2" fill="#10d29a"/><rect x="1735" y="214" width="2" height="2" fill="#05cbcc"/><rect x="1737" y="214" width="2" height="2" fill="#0071fe"/><rect x="1739" y="214" width="2" height="2" fill="#1256ff"/><rect x="1745" y="214" width="2" height="2" fill="#6a80ff"/><rect x="1707" y="216" width="2" height="2" fill="#6a80ff"/><rect x="1709" y="216" width="2" height="2" fill="#5060ff"/><rect x="1715" y="216" width="2" height="2" fill="#1356ff"/><rect x="1717" y="216" width="2" height="2" fill="#1059ff"/><rect x="1719" y="216" width="2" height="2" fill="#006dff"/><rect x="1721" y="216" width="2" height="2" fill="#0080f9"/><rect x="1723" y="216" width="2" height="2" fill="#00b9e9"/><rect x="1725" y="216" width="2" height="2" fill="#1ddb5b"/><rect x="1727" y="216" width="2" height="2" fill="#2fdf48"/><rect x="1729" y="216" width="2" height="2" fill="#2ddf4a"/><rect x="1731" y="216" width="2" height="2" fill="#1fdc58"/><rect x="1733" y="216" width="2" height="2" fill="#12d48f"/><rect x="1735" y="216" width="2" height="2" fill="#008af7"/><rect x="1737" y="216" width="2" height="2" fill="#0a60ff"/><rect x="1739" y="216" width="2" height="2" fill="#1158ff"/><rect x="1703" y="218" width="2" height="2" fill="#2a40ff"/><rect x="1707" y="218" width="2" height="2" fill="#1a4dff"/><rect x="1709" y="218" width="2" height="2" fill="#1552ff"/><rect x="1711" y="218" width="2" height="2" fill="#1355ff"/><rect x="1713" y="218" width="2" height="2" fill="#0468ff"/><rect x="1717" y="218" width="2" height="2" fill="#0092f4"/><rect x="1719" y="218" width="2" height="2" fill="#00b3eb"/><rect x="1721" y="218" width="2" height="2" fill="#15d67f"/><rect x="1723" y="218" width="2" height="2" fill="#2bde4c"/><rect x="1725" y="218" width="6" height="2" fill="#39e13e"/><rect x="1731" y="218" width="2" height="2" fill="#22dc55"/><rect x="1733" y="218" width="2" height="2" fill="#09ceb9"/><rect x="1735" y="218" width="2" height="2" fill="#0084f8"/><rect x="1737" y="218" width="2" height="2" fill="#1355ff"/><rect x="1739" y="218" width="2" height="2" fill="#1f46ff"/><rect x="1699" y="220" width="2" height="2" fill="#3a5aff"/><rect x="1703" y="220" width="2" height="2" fill="#5060ff"/><rect x="1709" y="220" width="2" height="2" fill="#1356ff"/><rect x="1711" y="220" width="2" height="2" fill="#016cff"/><rect x="1713" y="220" width="2" height="2" fill="#0095f3"/><rect x="1715" y="220" width="2" height="2" fill="#00c3e7"/><rect x="1717" y="220" width="2" height="2" fill="#0dd0a8"/><rect x="1719" y="220" width="2" height="2" fill="#24dd53"/><rect x="1721" y="220" width="2" height="2" fill="#39e13e"/><rect x="1723" y="220" width="2" height="2" fill="#40e237"/><rect x="1725" y="220" width="2" height="2" fill="#4ae42d"/><rect x="1727" y="220" width="2" height="2" fill="#3ce23b"/><rect x="1729" y="220" width="2" height="2" fill="#33e044"/><rect x="1731" y="220" width="2" height="2" fill="#18d875"/><rect x="1733" y="220" width="2" height="2" fill="#007ffa"/><rect x="1737" y="220" width="2" height="2" fill="#1c49ff"/><rect x="1739" y="220" width="2" height="2" fill="#2a40ff"/><rect x="1699" y="222" width="2" height="2" fill="#6a80ff"/><rect x="1707" y="222" width="2" height="2" fill="#0764ff"/><rect x="1709" y="222" width="2" height="2" fill="#0092f4"/><rect x="1711" y="222" width="2" height="2" fill="#00b2eb"/><rect x="1713" y="222" width="2" height="2" fill="#17d777"/><rect x="1715" y="222" width="2" height="2" fill="#1edc59"/><rect x="1717" y="222" width="2" height="2" fill="#30df47"/><rect x="1719" y="222" width="2" height="2" fill="#41e336"/><rect x="1721" y="222" width="2" height="2" fill="#49e42e"/><rect x="1723" y="222" width="2" height="2" fill="#4fe528"/><rect x="1725" y="222" width="2" height="2" fill="#41e336"/><rect x="1727" y="222" width="2" height="2" fill="#3be13c"/><rect x="1729" y="222" width="2" height="2" fill="#23dd54"/><rect x="1731" y="222" width="2" height="2" fill="#00a6ef"/><rect x="1733" y="222" width="2" height="2" fill="#0764ff"/><rect x="1735" y="222" width="2" height="2" fill="#0c5eff"/><rect x="1737" y="222" width="2" height="2" fill="#1c49ff"/><rect x="1699" y="224" width="2" height="2" fill="#184fff"/><rect x="1703" y="224" width="2" height="2" fill="#0e5bff"/><rect x="1705" y="224" width="2" height="2" fill="#016bff"/><rect x="1707" y="224" width="2" height="2" fill="#00aeed"/><rect x="1709" y="224" width="2" height="2" fill="#00c8e5"/><rect x="1711" y="224" width="2" height="2" fill="#21dc56"/><rect x="1713" y="224" width="2" height="2" fill="#30df47"/><rect x="1715" y="224" width="2" height="2" fill="#3de23a"/><rect x="1717" y="224" width="2" height="2" fill="#4ce52b"/><rect x="1719" y="224" width="2" height="2" fill="#a2e61d"/><rect x="1721" y="224" width="2" height="2" fill="#7fe622"/><rect x="1723" y="224" width="2" height="2" fill="#43e334"/><rect x="1725" y="224" width="2" height="2" fill="#36e041"/><rect x="1727" y="224" width="2" height="2" fill="#22dc55"/><rect x="1729" y="224" width="2" height="2" fill="#0bcfb0"/><rect x="1735" y="224" width="2" height="2" fill="#1e47ff"/><rect x="1695" y="226" width="2" height="2" fill="#5060ff"/><rect x="1697" y="226" width="2" height="2" fill="#1b4bff"/><rect x="1703" y="226" width="2" height="2" fill="#0076fc"/><rect x="1705" y="226" width="2" height="2" fill="#00bce9"/><rect x="1707" y="226" width="2" height="2" fill="#0fd29d"/><rect x="1709" y="226" width="2" height="2" fill="#25dd52"/><rect x="1711" y="226" width="2" height="2" fill="#3fe238"/><rect x="1713" y="226" width="2" height="2" fill="#54e627"/><rect x="1715" y="226" width="2" height="2" fill="#dce616"/><rect x="1717" y="226" width="2" height="2" fill="#c9e618"/><rect x="1719" y="226" width="2" height="2" fill="#c4e619"/><rect x="1721" y="226" width="2" height="2" fill="#4de52a"/><rect x="1723" y="226" width="2" height="2" fill="#40e237"/><rect x="1725" y="226" width="2" height="2" fill="#22dc55"/><rect x="1727" y="226" width="2" height="2" fill="#10d396"/><rect x="1729" y="226" width="2" height="2" fill="#00a3f0"/><rect x="1731" y="226" width="2" height="2" fill="#1059ff"/><rect x="1733" y="226" width="2" height="2" fill="#1257ff"/><rect x="1735" y="226" width="2" height="2" fill="#2242ff"/><rect x="1695" y="228" width="2" height="2" fill="#1b4cff"/><rect x="1699" y="228" width="2" height="2" fill="#0b5fff"/><rect x="1701" y="228" width="2" height="2" fill="#008af6"/><rect x="1703" y="228" width="2" height="2" fill="#00c1e7"/><rect x="1705" y="228" width="2" height="2" fill="#1cdb60"/><rect x="1707" y="228" width="2" height="2" fill="#39e13e"/><rect x="1709" y="228" width="2" height="2" fill="#48e42f"/><rect x="1711" y="228" width="2" height="2" fill="#dce616"/><rect x="1713" y="228" width="2" height="2" fill="#f9a207"/><rect x="1715" y="228" width="2" height="2" fill="#f9a007"/><rect x="1717" y="228" width="2" height="2" fill="#f1dd12"/><rect x="1719" y="228" width="2" height="2" fill="#63e625"/><rect x="1721" y="228" width="2" height="2" fill="#3ce23b"/><rect x="1723" y="228" width="2" height="2" fill="#29de4e"/><rect x="1725" y="228" width="2" height="2" fill="#0acfb3"/><rect x="1727" y="228" width="2" height="2" fill="#0082f9"/><rect x="1729" y="228" width="2" height="2" fill="#0863ff"/><rect x="1731" y="228" width="2" height="2" fill="#0f5aff"/><rect x="1735" y="228" width="2" height="2" fill="#3a5aff"/><rect x="1693" y="230" width="2" height="2" fill="#184fff"/><rect x="1695" y="230" width="2" height="2" fill="#1257ff"/><rect x="1697" y="230" width="2" height="2" fill="#0f5aff"/><rect x="1701" y="230" width="2" height="2" fill="#00aced"/><rect x="1703" y="230" width="2" height="2" fill="#1ddb5b"/><rect x="1705" y="230" width="2" height="2" fill="#3de23a"/><rect x="1707" y="230" width="2" height="2" fill="#4ee529"/><rect x="1709" y="230" width="2" height="2" fill="#e2e615"/><rect x="1711" y="230" width="2" height="2" fill="#f53f00"/><rect x="1713" y="230" width="2" height="2" fill="#f74b00"/><rect x="1715" y="230" width="2" height="2" fill="#fc8b03"/><rect x="1717" y="230" width="2" height="2" fill="#b2e61b"/><rect x="1719" y="230" width="2" height="2" fill="#48e42f"/><rect x="1721" y="230" width="2" height="2" fill="#34e043"/><rect x="1723" y="230" width="2" height="2" fill="#19d96c"/><rect x="1725" y="230" width="2" height="2" fill="#00bee8"/><rect x="1727" y="230" width="2" height="2" fill="#026aff"/><rect x="1731" y="230" width="2" height="2" fill="#1d48ff"/><rect x="1733" y="230" width="2" height="2" fill="#3a5aff"/><rect x="1691" y="232" width="2" height="2" fill="#1c4aff"/><rect x="1693" y="232" width="2" height="2" fill="#1750ff"/><rect x="1695" y="232" width="2" height="2" fill="#0b5fff"/><rect x="1697" y="232" width="2" height="2" fill="#007dfa"/><rect x="1699" y="232" width="2" height="2" fill="#00c7e6"/><rect x="1701" y="232" width="2" height="2" fill="#16d77c"/><rect x="1703" y="232" width="2" height="2" fill="#35e042"/><rect x="1705" y="232" width="2" height="2" fill="#62e625"/><rect x="1707" y="232" width="2" height="2" fill="#f6b30a"/><rect x="1709" y="232" width="2" height="2" fill="#f33100"/><rect x="1711" y="232" width="2" height="2" fill="#f01e00"/><rect x="1713" y="232" width="2" height="2" fill="#f02200"/><rect x="1715" y="232" width="2" height="2" fill="#f3cf0f"/><rect x="1717" y="232" width="2" height="2" fill="#53e627"/><rect x="1719" y="232" width="2" height="2" fill="#2edf49"/><rect x="1721" y="232" width="2" height="2" fill="#1ad96b"/><rect x="1723" y="232" width="2" height="2" fill="#00c3e7"/><rect x="1725" y="232" width="2" height="2" fill="#0081f9"/><rect x="1729" y="232" width="2" height="2" fill="#1355ff"/><rect x="1731" y="232" width="2" height="2" fill="#2a40ff"/><rect x="1689" y="234" width="2" height="2" fill="#1e48ff"/><rect x="1693" y="234" width="2" height="2" fill="#0f5bff"/><rect x="1695" y="234" width="2" height="2" fill="#0077fc"/><rect x="1697" y="234" width="2" height="2" fill="#00a6ef"/><rect x="1699" y="234" width="2" height="2" fill="#0ed1a1"/><rect x="1701" y="234" width="2" height="2" fill="#32e045"/><rect x="1703" y="234" width="2" height="2" fill="#4ee529"/><rect x="1705" y="234" width="2" height="2" fill="#f3c90e"/><rect x="1707" y="234" width="2" height="2" fill="#f74a00"/><rect x="1709" y="234" width="2" height="2" fill="#fe7500"/><rect x="1711" y="234" width="2" height="2" fill="#f54000"/><rect x="1713" y="234" width="2" height="2" fill="#e2e615"/><rect x="1715" y="234" width="2" height="2" fill="#4ce52b"/><rect x="1717" y="234" width="2" height="2" fill="#3be13c"/><rect x="1719" y="234" width="2" height="2" fill="#18d875"/><rect x="1721" y="234" width="2" height="2" fill="#00a4ef"/><rect x="1723" y="234" width="2" height="2" fill="#007dfa"/><rect x="1725" y="234" width="2" height="2" fill="#0d5cff"/><rect x="1729" y="234" width="2" height="2" fill="#1750ff"/><rect x="1733" y="234" width="2" height="2" fill="#2a40ff"/><rect x="1683" y="236" width="2" height="2" fill="#5060ff"/><rect x="1685" y="236" width="2" height="2" fill="#2a40ff"/><rect x="1687" y="236" width="2" height="2" fill="#5060ff"/><rect x="1689" y="236" width="2" height="2" fill="#184fff"/><rect x="1691" y="236" width="2" height="2" fill="#0d5cff"/><rect x="1695" y="236" width="2" height="2" fill="#00abed"/><rect x="1697" y="236" width="2" height="2" fill="#00c8e3"/><rect x="1699" y="236" width="2" height="2" fill="#20dc57"/><rect x="1701" y="236" width="2" height="2" fill="#39e13e"/><rect x="1703" y="236" width="2" height="2" fill="#b1e61b"/><rect x="1705" y="236" width="2" height="2" fill="#f9a107"/><rect x="1707" y="236" width="2" height="2" fill="#fc6a00"/><rect x="1709" y="236" width="2" height="2" fill="#fb9004"/><rect x="1711" y="236" width="2" height="2" fill="#c5e619"/><rect x="1713" y="236" width="2" height="2" fill="#48e42f"/><rect x="1715" y="236" width="2" height="2" fill="#35e042"/><rect x="1717" y="236" width="2" height="2" fill="#20dc57"/><rect x="1719" y="236" width="2" height="2" fill="#04cad3"/><rect x="1721" y="236" width="2" height="2" fill="#008cf6"/><rect x="1725" y="236" width="2" height="2" fill="#1158ff"/><rect x="1727" y="236" width="2" height="2" fill="#184fff"/><rect x="1729" y="236" width="2" height="2" fill="#2a40ff"/><rect x="1687" y="238" width="2" height="2" fill="#1652ff"/><rect x="1693" y="238" width="2" height="2" fill="#006ffe"/><rect x="1695" y="238" width="2" height="2" fill="#04cad1"/><rect x="1697" y="238" width="2" height="2" fill="#1ddb5b"/><rect x="1699" y="238" width="2" height="2" fill="#33e044"/><rect x="1701" y="238" width="2" height="2" fill="#48e42f"/><rect x="1703" y="238" width="2" height="2" fill="#5ce626"/><rect x="1705" y="238" width="2" height="2" fill="#dfe616"/><rect x="1707" y="238" width="2" height="2" fill="#b2e61b"/><rect x="1709" y="238" width="2" height="2" fill="#82e621"/><rect x="1711" y="238" width="2" height="2" fill="#3de23a"/><rect x="1713" y="238" width="2" height="2" fill="#2ade4d"/><rect x="1715" y="238" width="2" height="2" fill="#15d680"/><rect x="1717" y="238" width="2" height="2" fill="#00c4e6"/><rect x="1719" y="238" width="2" height="2" fill="#0070fe"/><rect x="1721" y="238" width="2" height="2" fill="#0567ff"/><rect x="1725" y="238" width="2" height="2" fill="#1f46ff"/><rect x="1683" y="240" width="2" height="2" fill="#2a40ff"/><rect x="1685" y="240" width="2" height="2" fill="#1d49ff"/><rect x="1689" y="240" width="2" height="2" fill="#0962ff"/><rect x="1691" y="240" width="2" height="2" fill="#0567ff"/><rect x="1693" y="240" width="2" height="2" fill="#00b6ea"/><rect x="1695" y="240" width="2" height="2" fill="#09ceb8"/><rect x="1697" y="240" width="2" height="2" fill="#28de4f"/><rect x="1699" y="240" width="2" height="2" fill="#2fdf48"/><rect x="1701" y="240" width="2" height="2" fill="#3de23a"/><rect x="1703" y="240" width="2" height="2" fill="#45e332"/><rect x="1705" y="240" width="2" height="2" fill="#4ce52b"/><rect x="1707" y="240" width="2" height="2" fill="#4ae42d"/><rect x="1709" y="240" width="2" height="2" fill="#37e140"/><rect x="1711" y="240" width="2" height="2" fill="#2bde4c"/><rect x="1713" y="240" width="2" height="2" fill="#1ad969"/><rect x="1715" y="240" width="2" height="2" fill="#00b0ec"/><rect x="1717" y="240" width="2" height="2" fill="#0081f9"/><rect x="1719" y="240" width="2" height="2" fill="#1158ff"/><rect x="1721" y="240" width="2" height="2" fill="#1553ff"/><rect x="1727" y="240" width="2" height="2" fill="#6a80ff"/><rect x="1685" y="242" width="2" height="2" fill="#1b4cff"/><rect x="1687" y="242" width="2" height="2" fill="#184eff"/><rect x="1689" y="242" width="2" height="2" fill="#0863ff"/><rect x="1691" y="242" width="2" height="2" fill="#008bf6"/><rect x="1693" y="242" width="2" height="2" fill="#00bee8"/><rect x="1695" y="242" width="2" height="2" fill="#15d683"/><rect x="1697" y="242" width="2" height="2" fill="#28de4f"/><rect x="1699" y="242" width="2" height="2" fill="#31df46"/><rect x="1701" y="242" width="2" height="2" fill="#34e043"/><rect x="1703" y="242" width="2" height="2" fill="#3fe238"/><rect x="1705" y="242" width="2" height="2" fill="#2edf49"/><rect x="1707" y="242" width="2" height="2" fill="#2ddf4a"/><rect x="1709" y="242" width="2" height="2" fill="#1ddb5b"/><rect x="1711" y="242" width="2" height="2" fill="#0fd29c"/><rect x="1713" y="242" width="2" height="2" fill="#00a7ef"/><rect x="1717" y="242" width="2" height="2" fill="#1257ff"/><rect x="1721" y="242" width="2" height="2" fill="#1e47ff"/><rect x="1723" y="242" width="2" height="2" fill="#2a40ff"/><rect x="1681" y="244" width="2" height="2" fill="#3a5aff"/><rect x="1687" y="244" width="2" height="2" fill="#1256ff"/><rect x="1691" y="244" width="2" height="2" fill="#008cf6"/><rect x="1693" y="244" width="2" height="2" fill="#00b8ea"/><rect x="1695" y="244" width="2" height="2" fill="#0bcfb1"/><rect x="1697" y="244" width="2" height="2" fill="#1cdb5f"/><rect x="1699" y="244" width="2" height="2" fill="#1edc59"/><rect x="1701" y="244" width="2" height="2" fill="#28de4f"/><rect x="1703" y="244" width="2" height="2" fill="#23dd54"/><rect x="1705" y="244" width="2" height="2" fill="#22dc55"/><rect x="1707" y="244" width="2" height="2" fill="#11d392"/><rect x="1709" y="244" width="2" height="2" fill="#00bce9"/><rect x="1711" y="244" width="2" height="2" fill="#00a8ee"/><rect x="1715" y="244" width="2" height="2" fill="#1257ff"/><rect x="1717" y="244" width="2" height="2" fill="#1a4cff"/><rect x="1723" y="244" width="4" height="2" fill="#6a80ff"/><rect x="1683" y="246" width="2" height="2" fill="#1a4cff"/><rect x="1687" y="246" width="2" height="2" fill="#0b5fff"/><rect x="1691" y="246" width="2" height="2" fill="#007bfb"/><rect x="1693" y="246" width="2" height="2" fill="#009af2"/><rect x="1695" y="246" width="2" height="2" fill="#00b8ea"/><rect x="1697" y="246" width="2" height="2" fill="#10d397"/><rect x="1699" y="246" width="2" height="2" fill="#09ceb8"/><rect x="1701" y="246" width="2" height="2" fill="#0ed1a4"/><rect x="1703" y="246" width="2" height="2" fill="#02c9dc"/><rect x="1705" y="246" width="2" height="2" fill="#05cbcb"/><rect x="1707" y="246" width="2" height="2" fill="#00aced"/><rect x="1709" y="246" width="2" height="2" fill="#026aff"/><rect x="1711" y="246" width="2" height="2" fill="#006dff"/><rect x="1713" y="246" width="2" height="2" fill="#0b5fff"/><rect x="1679" y="248" width="2" height="2" fill="#5060ff"/><rect x="1683" y="248" width="2" height="2" fill="#1a4dff"/><rect x="1685" y="248" width="2" height="2" fill="#1553ff"/><rect x="1689" y="248" width="2" height="2" fill="#0665ff"/><rect x="1693" y="248" width="2" height="2" fill="#009cf2"/><rect x="1695" y="248" width="2" height="2" fill="#0095f4"/><rect x="1697" y="248" width="2" height="2" fill="#009ff1"/><rect x="1699" y="248" width="2" height="2" fill="#00bde8"/><rect x="1701" y="248" width="2" height="2" fill="#009bf2"/><rect x="1703" y="248" width="2" height="2" fill="#00b0ec"/><rect x="1705" y="248" width="2" height="2" fill="#0075fc"/><rect x="1711" y="248" width="2" height="2" fill="#0e5bff"/><rect x="1715" y="248" width="2" height="2" fill="#1c4aff"/><rect x="1721" y="248" width="2" height="2" fill="#3a5aff"/><rect x="1679" y="250" width="2" height="2" fill="#6a80ff"/><rect x="1681" y="250" width="2" height="2" fill="#2440ff"/><rect x="1687" y="250" width="2" height="2" fill="#0a60ff"/><rect x="1689" y="250" width="2" height="2" fill="#0665ff"/><rect x="1693" y="250" width="2" height="2" fill="#0084f8"/><rect x="1695" y="250" width="2" height="2" fill="#0074fd"/><rect x="1697" y="250" width="2" height="2" fill="#0097f3"/><rect x="1699" y="250" width="2" height="2" fill="#007afb"/><rect x="1701" y="250" width="2" height="2" fill="#0085f8"/><rect x="1703" y="250" width="2" height="2" fill="#0468ff"/><rect x="1711" y="250" width="2" height="2" fill="#1058ff"/><rect x="1713" y="250" width="2" height="2" fill="#2144ff"/><rect x="1715" y="250" width="2" height="2" fill="#6a80ff"/><rect x="1687" y="252" width="2" height="2" fill="#0b5fff"/><rect x="1689" y="252" width="2" height="2" fill="#0d5cff"/><rect x="1691" y="252" width="2" height="2" fill="#0863ff"/><rect x="1693" y="252" width="2" height="2" fill="#0a60ff"/><rect x="1701" y="252" width="2" height="2" fill="#0765ff"/><rect x="1703" y="252" width="2" height="2" fill="#0e5bff"/><rect x="1709" y="252" width="2" height="2" fill="#1b4bff"/><rect x="1683" y="254" width="2" height="2" fill="#1454ff"/><rect x="1685" y="254" width="2" height="2" fill="#194eff"/><rect x="1687" y="254" width="2" height="2" fill="#1652ff"/><rect x="1689" y="254" width="2" height="2" fill="#1355ff"/><rect x="1691" y="254" width="2" height="2" fill="#0f5aff"/><rect x="1695" y="254" width="2" height="2" fill="#0f5bff"/><rect x="1705" y="254" width="2" height="2" fill="#1157ff"/><rect x="1707" y="254" width="2" height="2" fill="#1256ff"/><rect x="1713" y="254" width="2" height="2" fill="#5060ff"/><rect x="1681" y="256" width="2" height="2" fill="#6a80ff"/><rect x="1683" y="256" width="2" height="2" fill="#2144ff"/><rect x="1687" y="256" width="2" height="2" fill="#1a4dff"/><rect x="1689" y="256" width="2" height="2" fill="#1651ff"/><rect x="1691" y="256" width="4" height="2" fill="#1454ff"/><rect x="1705" y="256" width="2" height="2" fill="#1651ff"/><rect x="1707" y="256" width="2" height="2" fill="#1454ff"/><rect x="1677" y="258" width="2" height="2" fill="#6a80ff"/><rect x="1679" y="258" width="2" height="2" fill="#5060ff"/><rect x="1685" y="258" width="2" height="2" fill="#1552ff"/><rect x="1687" y="258" width="2" height="2" fill="#1553ff"/><rect x="1691" y="258" width="2" height="2" fill="#1552ff"/><rect x="1693" y="258" width="2" height="2" fill="#1a4cff"/><rect x="1703" y="258" width="2" height="2" fill="#1651ff"/><rect x="1705" y="258" width="2" height="2" fill="#1454ff"/><rect x="1675" y="260" width="2" height="2" fill="#3a5aff"/><rect x="1681" y="260" width="4" height="2" fill="#5060ff"/><rect x="1685" y="260" width="2" height="2" fill="#2a40ff"/><rect x="1687" y="260" width="2" height="2" fill="#1750ff"/><rect x="1693" y="260" width="2" height="2" fill="#1b4bff"/><rect x="1705" y="260" width="2" height="2" fill="#1b4bff"/><rect x="1683" y="262" width="4" height="2" fill="#3a5aff"/><rect x="1689" y="262" width="2" height="2" fill="#2a40ff"/><rect x="1691" y="262" width="6" height="2" fill="#3a5aff"/><rect x="1703" y="262" width="2" height="2" fill="#1750ff"/><rect x="1707" y="262" width="2" height="2" fill="#194dff"/><rect x="1709" y="262" width="2" height="2" fill="#6a80ff"/><rect x="1677" y="264" width="2" height="2" fill="#3a5aff"/><rect x="1681" y="264" width="2" height="2" fill="#3a5aff"/><rect x="1689" y="264" width="2" height="2" fill="#3a5aff"/><rect x="1693" y="264" width="4" height="2" fill="#6a80ff"/><rect x="1701" y="264" width="2" height="2" fill="#5060ff"/><rect x="1705" y="264" width="2" height="2" fill="#184fff"/><rect x="1707" y="264" width="2" height="2" fill="#2242ff"/><rect x="1695" y="266" width="4" height="2" fill="#2a40ff"/><rect x="1699" y="266" width="2" height="2" fill="#5060ff"/><rect x="1703" y="266" width="2" height="2" fill="#1d49ff"/><rect x="1709" y="266" width="2" height="2" fill="#6a80ff"/><rect x="1685" y="268" width="2" height="2" fill="#3a5aff"/><rect x="1691" y="268" width="4" height="2" fill="#3a5aff"/><rect x="1701" y="268" width="2" height="2" fill="#5060ff"/><rect x="1703" y="268" width="2" height="2" fill="#2a40ff"/><rect x="1705" y="268" width="2" height="2" fill="#5060ff"/><rect x="1699" y="270" width="2" height="2" fill="#3a5aff"/><rect x="1705" y="272" width="2" height="2" fill="#6a80ff"/><rect x="1707" y="274" width="2" height="2" fill="#6a80ff"/></g>
<rect x="1666.00" y="74.00" width="217.80" height="218.20" fill="none" stroke="#2a2a2a" stroke-width="1.4"/>
<line x1="1727.80" y1="74.00" x2="1727.80" y2="292.20" stroke="#111" stroke-width="2.0" />
<line x1="1666.00" y1="221.70" x2="1883.80" y2="221.70" stroke="#111" stroke-width="2.0" />
<line x1="1659.70" y1="271.70" x2="1666.00" y2="271.70" stroke="#111" stroke-width="2.0" />
<line x1="1663.00" y1="260.26" x2="1666.00" y2="260.26" stroke="#333" stroke-width="1.2" />
<line x1="1663.00" y1="253.57" x2="1666.00" y2="253.57" stroke="#333" stroke-width="1.2" />
<line x1="1663.00" y1="248.82" x2="1666.00" y2="248.82" stroke="#333" stroke-width="1.2" />
<line x1="1663.00" y1="245.14" x2="1666.00" y2="245.14" stroke="#333" stroke-width="1.2" />
<line x1="1663.00" y1="242.13" x2="1666.00" y2="242.13" stroke="#333" stroke-width="1.2" />
<line x1="1663.00" y1="239.59" x2="1666.00" y2="239.59" stroke="#333" stroke-width="1.2" />
<line x1="1663.00" y1="237.38" x2="1666.00" y2="237.38" stroke="#333" stroke-width="1.2" />
<line x1="1663.00" y1="235.44" x2="1666.00" y2="235.44" stroke="#333" stroke-width="1.2" />
<line x1="1659.70" y1="233.70" x2="1666.00" y2="233.70" stroke="#111" stroke-width="2.0" />
<line x1="1663.00" y1="222.26" x2="1666.00" y2="222.26" stroke="#333" stroke-width="1.2" />
<line x1="1663.00" y1="215.57" x2="1666.00" y2="215.57" stroke="#333" stroke-width="1.2" />
<line x1="1663.00" y1="210.82" x2="1666.00" y2="210.82" stroke="#333" stroke-width="1.2" />
<line x1="1663.00" y1="207.14" x2="1666.00" y2="207.14" stroke="#333" stroke-width="1.2" />
<line x1="1663.00" y1="204.13" x2="1666.00" y2="204.13" stroke="#333" stroke-width="1.2" />
<line x1="1663.00" y1="201.59" x2="1666.00" y2="201.59" stroke="#333" stroke-width="1.2" />
<line x1="1663.00" y1="199.38" x2="1666.00" y2="199.38" stroke="#333" stroke-width="1.2" />
<line x1="1663.00" y1="197.44" x2="1666.00" y2="197.44" stroke="#333" stroke-width="1.2" />
<line x1="1659.70" y1="195.70" x2="1666.00" y2="195.70" stroke="#111" stroke-width="2.0" />
<line x1="1663.00" y1="184.26" x2="1666.00" y2="184.26" stroke="#333" stroke-width="1.2" />
<line x1="1663.00" y1="177.57" x2="1666.00" y2="177.57" stroke="#333" stroke-width="1.2" />
<line x1="1663.00" y1="172.82" x2="1666.00" y2="172.82" stroke="#333" stroke-width="1.2" />
<line x1="1663.00" y1="169.14" x2="1666.00" y2="169.14" stroke="#333" stroke-width="1.2" />
<line x1="1663.00" y1="166.13" x2="1666.00" y2="166.13" stroke="#333" stroke-width="1.2" />
<line x1="1663.00" y1="163.59" x2="1666.00" y2="163.59" stroke="#333" stroke-width="1.2" />
<line x1="1663.00" y1="161.38" x2="1666.00" y2="161.38" stroke="#333" stroke-width="1.2" />
<line x1="1663.00" y1="159.44" x2="1666.00" y2="159.44" stroke="#333" stroke-width="1.2" />
<line x1="1659.70" y1="157.70" x2="1666.00" y2="157.70" stroke="#111" stroke-width="2.0" />
<line x1="1663.00" y1="146.26" x2="1666.00" y2="146.26" stroke="#333" stroke-width="1.2" />
<line x1="1663.00" y1="139.57" x2="1666.00" y2="139.57" stroke="#333" stroke-width="1.2" />
<line x1="1663.00" y1="134.82" x2="1666.00" y2="134.82" stroke="#333" stroke-width="1.2" />
<line x1="1663.00" y1="131.14" x2="1666.00" y2="131.14" stroke="#333" stroke-width="1.2" />
<line x1="1663.00" y1="128.13" x2="1666.00" y2="128.13" stroke="#333" stroke-width="1.2" />
<line x1="1663.00" y1="125.59" x2="1666.00" y2="125.59" stroke="#333" stroke-width="1.2" />
<line x1="1663.00" y1="123.38" x2="1666.00" y2="123.38" stroke="#333" stroke-width="1.2" />
<line x1="1663.00" y1="121.44" x2="1666.00" y2="121.44" stroke="#333" stroke-width="1.2" />
<line x1="1659.70" y1="119.70" x2="1666.00" y2="119.70" stroke="#111" stroke-width="2.0" />
<line x1="1663.00" y1="108.26" x2="1666.00" y2="108.26" stroke="#333" stroke-width="1.2" />
<line x1="1663.00" y1="101.57" x2="1666.00" y2="101.57" stroke="#333" stroke-width="1.2" />
<line x1="1663.00" y1="96.82" x2="1666.00" y2="96.82" stroke="#333" stroke-width="1.2" />
<line x1="1663.00" y1="93.14" x2="1666.00" y2="93.14" stroke="#333" stroke-width="1.2" />
<line x1="1663.00" y1="90.13" x2="1666.00" y2="90.13" stroke="#333" stroke-width="1.2" />
<line x1="1663.00" y1="87.59" x2="1666.00" y2="87.59" stroke="#333" stroke-width="1.2" />
<line x1="1663.00" y1="85.38" x2="1666.00" y2="85.38" stroke="#333" stroke-width="1.2" />
<line x1="1663.00" y1="83.44" x2="1666.00" y2="83.44" stroke="#333" stroke-width="1.2" />
<line x1="1659.70" y1="81.70" x2="1666.00" y2="81.70" stroke="#111" stroke-width="2.0" />
<line x1="1663.00" y1="291.57" x2="1666.00" y2="291.57" stroke="#333" stroke-width="1.2" />
<line x1="1663.00" y1="286.82" x2="1666.00" y2="286.82" stroke="#333" stroke-width="1.2" />
<line x1="1663.00" y1="283.14" x2="1666.00" y2="283.14" stroke="#333" stroke-width="1.2" />
<line x1="1663.00" y1="280.13" x2="1666.00" y2="280.13" stroke="#333" stroke-width="1.2" />
<line x1="1663.00" y1="277.59" x2="1666.00" y2="277.59" stroke="#333" stroke-width="1.2" />
<line x1="1663.00" y1="275.38" x2="1666.00" y2="275.38" stroke="#333" stroke-width="1.2" />
<line x1="1663.00" y1="273.44" x2="1666.00" y2="273.44" stroke="#333" stroke-width="1.2" />
<line x1="1688.20" y1="292.20" x2="1688.20" y2="297.70" stroke="#111" stroke-width="2.0" />
<line x1="1702.08" y1="292.20" x2="1702.08" y2="295.20" stroke="#333" stroke-width="1.2" />
<line x1="1710.20" y1="292.20" x2="1710.20" y2="295.20" stroke="#333" stroke-width="1.2" />
<line x1="1715.95" y1="292.20" x2="1715.95" y2="295.20" stroke="#333" stroke-width="1.2" />
<line x1="1720.42" y1="292.20" x2="1720.42" y2="295.20" stroke="#333" stroke-width="1.2" />
<line x1="1724.07" y1="292.20" x2="1724.07" y2="295.20" stroke="#333" stroke-width="1.2" />
<line x1="1727.16" y1="292.20" x2="1727.16" y2="295.20" stroke="#333" stroke-width="1.2" />
<line x1="1729.83" y1="292.20" x2="1729.83" y2="295.20" stroke="#333" stroke-width="1.2" />
<line x1="1732.19" y1="292.20" x2="1732.19" y2="295.20" stroke="#333" stroke-width="1.2" />
<line x1="1734.30" y1="292.20" x2="1734.30" y2="297.70" stroke="#111" stroke-width="2.0" />
<line x1="1748.18" y1="292.20" x2="1748.18" y2="295.20" stroke="#333" stroke-width="1.2" />
<line x1="1756.30" y1="292.20" x2="1756.30" y2="295.20" stroke="#333" stroke-width="1.2" />
<line x1="1762.05" y1="292.20" x2="1762.05" y2="295.20" stroke="#333" stroke-width="1.2" />
<line x1="1766.52" y1="292.20" x2="1766.52" y2="295.20" stroke="#333" stroke-width="1.2" />
<line x1="1770.17" y1="292.20" x2="1770.17" y2="295.20" stroke="#333" stroke-width="1.2" />
<line x1="1773.26" y1="292.20" x2="1773.26" y2="295.20" stroke="#333" stroke-width="1.2" />
<line x1="1775.93" y1="292.20" x2="1775.93" y2="295.20" stroke="#333" stroke-width="1.2" />
<line x1="1778.29" y1="292.20" x2="1778.29" y2="295.20" stroke="#333" stroke-width="1.2" />
<line x1="1780.40" y1="292.20" x2="1780.40" y2="297.70" stroke="#111" stroke-width="2.0" />
<line x1="1794.28" y1="292.20" x2="1794.28" y2="295.20" stroke="#333" stroke-width="1.2" />
<line x1="1802.40" y1="292.20" x2="1802.40" y2="295.20" stroke="#333" stroke-width="1.2" />
<line x1="1808.15" y1="292.20" x2="1808.15" y2="295.20" stroke="#333" stroke-width="1.2" />
<line x1="1812.62" y1="292.20" x2="1812.62" y2="295.20" stroke="#333" stroke-width="1.2" />
<line x1="1816.27" y1="292.20" x2="1816.27" y2="295.20" stroke="#333" stroke-width="1.2" />
<line x1="1819.36" y1="292.20" x2="1819.36" y2="295.20" stroke="#333" stroke-width="1.2" />
<line x1="1822.03" y1="292.20" x2="1822.03" y2="295.20" stroke="#333" stroke-width="1.2" />
<line x1="1824.39" y1="292.20" x2="1824.39" y2="295.20" stroke="#333" stroke-width="1.2" />
<line x1="1826.50" y1="292.20" x2="1826.50" y2="297.70" stroke="#111" stroke-width="2.0" />
<line x1="1840.38" y1="292.20" x2="1840.38" y2="295.20" stroke="#333" stroke-width="1.2" />
<line x1="1848.50" y1="292.20" x2="1848.50" y2="295.20" stroke="#333" stroke-width="1.2" />
<line x1="1854.25" y1="292.20" x2="1854.25" y2="295.20" stroke="#333" stroke-width="1.2" />
<line x1="1858.72" y1="292.20" x2="1858.72" y2="295.20" stroke="#333" stroke-width="1.2" />
<line x1="1862.37" y1="292.20" x2="1862.37" y2="295.20" stroke="#333" stroke-width="1.2" />
<line x1="1865.46" y1="292.20" x2="1865.46" y2="295.20" stroke="#333" stroke-width="1.2" />
<line x1="1868.13" y1="292.20" x2="1868.13" y2="295.20" stroke="#333" stroke-width="1.2" />
<line x1="1870.49" y1="292.20" x2="1870.49" y2="295.20" stroke="#333" stroke-width="1.2" />
<line x1="1872.60" y1="292.20" x2="1872.60" y2="297.70" stroke="#111" stroke-width="2.0" />
<line x1="1669.85" y1="292.20" x2="1669.85" y2="295.20" stroke="#333" stroke-width="1.2" />
<line x1="1674.32" y1="292.20" x2="1674.32" y2="295.20" stroke="#333" stroke-width="1.2" />
<line x1="1677.97" y1="292.20" x2="1677.97" y2="295.20" stroke="#333" stroke-width="1.2" />
<line x1="1681.06" y1="292.20" x2="1681.06" y2="295.20" stroke="#333" stroke-width="1.2" />
<line x1="1683.73" y1="292.20" x2="1683.73" y2="295.20" stroke="#333" stroke-width="1.2" />
<line x1="1686.09" y1="292.20" x2="1686.09" y2="295.20" stroke="#333" stroke-width="1.2" />
<g transform="translate(1633.20,281.60)" fill="#000" ><text x="-1.20" y="0" font-size="14.44" font-family="'Liberation Serif','Times New Roman',serif" font-weight="bold" textLength="14.97" lengthAdjust="spacingAndGlyphs" style="white-space:pre">10</text></g>
<g transform="translate(1647.90,271.70)" fill="#000" ><text x="-0.72" y="0" font-size="13.29" font-family="'Liberation Serif','Times New Roman',serif" font-weight="bold" textLength="8.55" lengthAdjust="spacingAndGlyphs" style="white-space:pre">2</text></g>
<g transform="translate(1633.20,243.60)" fill="#000" ><text x="-1.20" y="0" font-size="14.44" font-family="'Liberation Serif','Times New Roman',serif" font-weight="bold" textLength="14.97" lengthAdjust="spacingAndGlyphs" style="white-space:pre">10</text></g>
<g transform="translate(1647.90,233.70)" fill="#000" ><text x="-0.62" y="0" font-size="13.29" font-family="'Liberation Serif','Times New Roman',serif" font-weight="bold" textLength="8.29" lengthAdjust="spacingAndGlyphs" style="white-space:pre">3</text></g>
<g transform="translate(1633.20,205.60)" fill="#000" ><text x="-1.20" y="0" font-size="14.44" font-family="'Liberation Serif','Times New Roman',serif" font-weight="bold" textLength="14.97" lengthAdjust="spacingAndGlyphs" style="white-space:pre">10</text></g>
<g transform="translate(1647.90,195.70)" fill="#000" ><text x="-0.21" y="0" font-size="13.37" font-family="'Liberation Serif','Times New Roman',serif" font-weight="bold" textLength="7.59" lengthAdjust="spacingAndGlyphs" style="white-space:pre">4</text></g>
<g transform="translate(1633.20,167.60)" fill="#000" ><text x="-1.20" y="0" font-size="14.44" font-family="'Liberation Serif','Times New Roman',serif" font-weight="bold" textLength="14.97" lengthAdjust="spacingAndGlyphs" style="white-space:pre">10</text></g>
<g transform="translate(1647.90,157.70)" fill="#000" ><text x="-0.67" y="0" font-size="13.44" font-family="'Liberation Serif','Times New Roman',serif" font-weight="bold" textLength="8.39" lengthAdjust="spacingAndGlyphs" style="white-space:pre">5</text></g>
<g transform="translate(1633.20,129.60)" fill="#000" ><text x="-1.20" y="0" font-size="14.44" font-family="'Liberation Serif','Times New Roman',serif" font-weight="bold" textLength="14.97" lengthAdjust="spacingAndGlyphs" style="white-space:pre">10</text></g>
<g transform="translate(1647.90,119.70)" fill="#000" ><text x="-0.56" y="0" font-size="13.29" font-family="'Liberation Serif','Times New Roman',serif" font-weight="bold" textLength="8.13" lengthAdjust="spacingAndGlyphs" style="white-space:pre">6</text></g>
<g transform="translate(1633.20,98.30)" fill="#000" ><text x="-1.20" y="0" font-size="14.44" font-family="'Liberation Serif','Times New Roman',serif" font-weight="bold" textLength="14.97" lengthAdjust="spacingAndGlyphs" style="white-space:pre">10</text></g>
<g transform="translate(1647.90,86.50)" fill="#000" ><text x="-0.97" y="0" font-size="13.44" font-family="'Liberation Serif','Times New Roman',serif" font-weight="bold" textLength="8.48" lengthAdjust="spacingAndGlyphs" style="white-space:pre">7</text></g>
<g transform="translate(1682.30,327.00)" fill="#000" ><text x="-1.27" y="0" font-size="15.19" font-family="'Liberation Serif','Times New Roman',serif" font-weight="bold" textLength="15.88" lengthAdjust="spacingAndGlyphs" style="white-space:pre">10</text></g>
<g transform="translate(1697.10,316.00)" fill="#000" ><text x="-0.60" y="0" font-size="13.74" font-family="'Liberation Serif','Times New Roman',serif" font-weight="bold" textLength="7.94" lengthAdjust="spacingAndGlyphs" style="white-space:pre">3</text></g>
<g transform="translate(1728.40,327.00)" fill="#000" ><text x="-1.27" y="0" font-size="15.19" font-family="'Liberation Serif','Times New Roman',serif" font-weight="bold" textLength="15.88" lengthAdjust="spacingAndGlyphs" style="white-space:pre">10</text></g>
<g transform="translate(1743.20,316.00)" fill="#000" ><text x="-0.20" y="0" font-size="13.83" font-family="'Liberation Serif','Times New Roman',serif" font-weight="bold" textLength="7.27" lengthAdjust="spacingAndGlyphs" style="white-space:pre">4</text></g>
<g transform="translate(1774.50,327.00)" fill="#000" ><text x="-1.27" y="0" font-size="15.19" font-family="'Liberation Serif','Times New Roman',serif" font-weight="bold" textLength="15.88" lengthAdjust="spacingAndGlyphs" style="white-space:pre">10</text></g>
<g transform="translate(1789.30,316.00)" fill="#000" ><text x="-0.64" y="0" font-size="13.90" font-family="'Liberation Serif','Times New Roman',serif" font-weight="bold" textLength="8.03" lengthAdjust="spacingAndGlyphs" style="white-space:pre">5</text></g>
<g transform="translate(1820.60,327.00)" fill="#000" ><text x="-1.27" y="0" font-size="15.19" font-family="'Liberation Serif','Times New Roman',serif" font-weight="bold" textLength="15.88" lengthAdjust="spacingAndGlyphs" style="white-space:pre">10</text></g>
<g transform="translate(1835.40,316.00)" fill="#000" ><text x="-0.53" y="0" font-size="13.74" font-family="'Liberation Serif','Times New Roman',serif" font-weight="bold" textLength="7.79" lengthAdjust="spacingAndGlyphs" style="white-space:pre">6</text></g>
<g transform="translate(1862.00,327.00)" fill="#000" ><text x="-1.27" y="0" font-size="15.19" font-family="'Liberation Serif','Times New Roman',serif" font-weight="bold" textLength="15.88" lengthAdjust="spacingAndGlyphs" style="white-space:pre">10</text></g>
<g transform="translate(1876.80,316.00)" fill="#000" ><text x="-0.93" y="0" font-size="13.90" font-family="'Liberation Serif','Times New Roman',serif" font-weight="bold" textLength="8.13" lengthAdjust="spacingAndGlyphs" style="white-space:pre">7</text></g>
<g transform="translate(1668.50,101.60)" fill="#000" stroke="#000" stroke-width="0.85"><text x="-1.01" y="0" font-size="21.05" font-family="'Liberation Serif','Times New Roman',serif" textLength="36.81" lengthAdjust="spacingAndGlyphs" style="white-space:pre">3.18</text></g>
<g transform="translate(1825.00,101.60)" fill="#000" stroke="#000" stroke-width="0.85"><text x="-0.92" y="0" font-size="21.14" font-family="'Liberation Serif','Times New Roman',serif" textLength="37.61" lengthAdjust="spacingAndGlyphs" style="white-space:pre">6.92</text></g>
<g transform="translate(1668.50,275.50)" fill="#000" stroke="#000" stroke-width="0.85"><text x="-0.77" y="0" font-size="21.05" font-family="'Liberation Serif','Times New Roman',serif" textLength="35.55" lengthAdjust="spacingAndGlyphs" style="white-space:pre">88.0</text></g>
<g transform="translate(1825.00,275.50)" fill="#000" stroke="#000" stroke-width="0.85"><text x="-1.89" y="0" font-size="21.05" font-family="'Liberation Serif','Times New Roman',serif" textLength="37.72" lengthAdjust="spacingAndGlyphs" style="white-space:pre">1.87</text></g>
<path d="M1883.80,120.00 H1732.70 V152.10 H1883.80" fill="none" stroke="#777" stroke-width="1.6"/>
<g transform="translate(1739.40,141.40)" fill="#000" ><text x="-0.19" y="0" font-size="14.41" font-family="'Liberation Serif','Times New Roman',serif" font-weight="bold" textLength="135.96" lengthAdjust="spacingAndGlyphs" style="white-space:pre">p53 siRNA+ZnONPs</text></g>
<g transform="translate(16.00,501.30)" fill="#000" ><text x="-2.64" y="0" font-size="64.57" font-family="'Liberation Serif','Times New Roman',serif" font-weight="bold" textLength="36.17" lengthAdjust="spacingAndGlyphs" style="white-space:pre">d</text></g>
<line x1="128.50" y1="558.50" x2="128.50" y2="819.00" stroke="#000" stroke-width="3.5" />
<line x1="120.50" y1="560.00" x2="128.50" y2="560.00" stroke="#000" stroke-width="3.5" />
<line x1="120.50" y1="625.50" x2="128.50" y2="625.50" stroke="#000" stroke-width="3.5" />
<line x1="120.50" y1="689.30" x2="128.50" y2="689.30" stroke="#000" stroke-width="3.5" />
<line x1="120.50" y1="753.00" x2="128.50" y2="753.00" stroke="#000" stroke-width="3.5" />
<line x1="120.50" y1="817.50" x2="128.50" y2="817.50" stroke="#000" stroke-width="3.5" />
<line x1="120.20" y1="817.50" x2="422.70" y2="817.50" stroke="#000" stroke-width="3.5" />
<line x1="164.80" y1="817.50" x2="164.80" y2="824.50" stroke="#000" stroke-width="3.5" />
<line x1="238.20" y1="817.50" x2="238.20" y2="824.50" stroke="#000" stroke-width="3.5" />
<line x1="311.10" y1="817.50" x2="311.10" y2="824.50" stroke="#000" stroke-width="3.5" />
<line x1="384.50" y1="817.50" x2="384.50" y2="824.50" stroke="#000" stroke-width="3.5" />
<g transform="translate(104.50,566.50)" fill="#000" ><text x="-0.32" y="0" font-size="18.23" font-family="'Liberation Serif','Times New Roman',serif" font-weight="bold" textLength="11.76" lengthAdjust="spacingAndGlyphs" style="white-space:pre">4</text></g>
<g transform="translate(104.50,632.00)" fill="#000" ><text x="-0.97" y="0" font-size="18.12" font-family="'Liberation Serif','Times New Roman',serif" font-weight="bold" textLength="12.84" lengthAdjust="spacingAndGlyphs" style="white-space:pre">3</text></g>
<g transform="translate(104.50,695.80)" fill="#000" ><text x="-1.11" y="0" font-size="18.12" font-family="'Liberation Serif','Times New Roman',serif" font-weight="bold" textLength="13.25" lengthAdjust="spacingAndGlyphs" style="white-space:pre">2</text></g>
<g transform="translate(105.50,759.50)" fill="#000" ><text x="-2.18" y="0" font-size="18.18" font-family="'Liberation Serif','Times New Roman',serif" font-weight="bold" textLength="13.58" lengthAdjust="spacingAndGlyphs" style="white-space:pre">1</text></g>
<g transform="translate(104.50,824.00)" fill="#000" ><text x="-0.99" y="0" font-size="18.04" font-family="'Liberation Serif','Times New Roman',serif" font-weight="bold" textLength="12.98" lengthAdjust="spacingAndGlyphs" style="white-space:pre">0</text></g>
<line x1="164.80" y1="752.00" x2="164.80" y2="745.50" stroke="#000" stroke-width="3" />
<rect x="156.30" y="744.00" width="17.10" height="3.50" fill="#000"/>
<line x1="237.80" y1="628.00" x2="237.80" y2="596.20" stroke="#000" stroke-width="3" />
<rect x="228.90" y="594.50" width="18.20" height="3.50" fill="#000"/>
<rect x="302.00" y="804.50" width="20.00" height="3.50" fill="#000"/>
<line x1="384.80" y1="690.00" x2="384.80" y2="683.00" stroke="#000" stroke-width="3" />
<rect x="376.50" y="681.00" width="16.70" height="3.50" fill="#000"/>
<rect x="147.75" y="754.05" width="35.30" height="63.45" fill="#fff" stroke="#000" stroke-width="3.7"/>
<rect x="219.85" y="629.15" width="36.20" height="188.35" fill="#000" stroke="#000" stroke-width="3.7"/>
<rect x="293.85" y="809.15" width="36.60" height="8.35" fill="#fe0000" stroke="#000" stroke-width="3.7"/>
<rect x="366.85" y="691.55" width="35.90" height="125.95" fill="#8c8cff" stroke="#000" stroke-width="3.7"/>
<path d="M160.4,617.8 V532.2 H234.4 V567.3" fill="none" stroke="#000" stroke-width="4.3" stroke-linejoin="miter" stroke-linecap="butt" />
<path d="M242.7,567.3 V532.2 H380 V639.3" fill="none" stroke="#000" stroke-width="4.3" stroke-linejoin="miter" stroke-linecap="butt" />
<g transform="translate(165.50,522.00)" fill="#000" ><text x="-0.42" y="0" font-size="24.51" font-family="'Liberation Serif','Times New Roman',serif" font-weight="bold" textLength="84.39" lengthAdjust="spacingAndGlyphs" style="white-space:pre">P&lt;0.001</text></g>
<g transform="translate(277.80,524.50)" fill="#000" ><text x="-0.42" y="0" font-size="24.81" font-family="'Liberation Serif','Times New Roman',serif" font-weight="bold" textLength="72.43" lengthAdjust="spacingAndGlyphs" style="white-space:pre">P&lt;0.05</text></g>
<g transform="translate(77.90,738.60) rotate(-90)" fill="#000" ><text x="0.01" y="0" font-size="29.45" font-family="'Liberation Serif','Times New Roman',serif" font-weight="bold" font-style="italic" textLength="86.60" lengthAdjust="spacingAndGlyphs" style="white-space:pre">PTGS2</text><text x="86.61" y="0" font-size="29.45" font-family="'Liberation Serif','Times New Roman',serif" font-weight="bold" textLength="93.80" lengthAdjust="spacingAndGlyphs" style="white-space:pre"> mRNA</text></g>
<g transform="translate(8.40,869.30)" fill="#000" ><text x="-1.34" y="0" font-size="23.20" font-family="'Liberation Serif','Times New Roman',serif" font-weight="bold" textLength="101.89" lengthAdjust="spacingAndGlyphs" style="white-space:pre">Scramble</text></g>
<g transform="translate(1.80,906.20)" fill="#000" ><text x="-0.31" y="0" font-size="22.20" font-family="'Liberation Serif','Times New Roman',serif" font-weight="bold" textLength="113.59" lengthAdjust="spacingAndGlyphs" style="white-space:pre">p53 siRNA</text></g>
<g transform="translate(9.90,942.70)" fill="#000" ><text x="-1.18" y="0" font-size="23.41" font-family="'Liberation Serif','Times New Roman',serif" font-weight="bold" textLength="97.88" lengthAdjust="spacingAndGlyphs" style="white-space:pre">ZnO NPs</text></g>
<line x1="152.20" y1="865.00" x2="165.80" y2="865.00" stroke="#000" stroke-width="2.6" />
<line x1="159.00" y1="858.40" x2="159.00" y2="871.60" stroke="#000" stroke-width="2.6" />
<line x1="228.10" y1="865.00" x2="241.70" y2="865.00" stroke="#000" stroke-width="2.6" />
<line x1="234.90" y1="858.40" x2="234.90" y2="871.60" stroke="#000" stroke-width="2.6" />
<line x1="310.40" y1="865.00" x2="317.00" y2="865.00" stroke="#000" stroke-width="2.6" />
<line x1="388.90" y1="865.00" x2="395.50" y2="865.00" stroke="#000" stroke-width="2.6" />
<line x1="155.70" y1="901.80" x2="162.30" y2="901.80" stroke="#000" stroke-width="2.6" />
<line x1="231.60" y1="901.80" x2="238.20" y2="901.80" stroke="#000" stroke-width="2.6" />
<line x1="306.90" y1="901.80" x2="320.50" y2="901.80" stroke="#000" stroke-width="2.6" />
<line x1="313.70" y1="895.20" x2="313.70" y2="908.40" stroke="#000" stroke-width="2.6" />
<line x1="385.40" y1="901.80" x2="399.00" y2="901.80" stroke="#000" stroke-width="2.6" />
<line x1="392.20" y1="895.20" x2="392.20" y2="908.40" stroke="#000" stroke-width="2.6" />
<line x1="155.70" y1="935.00" x2="162.30" y2="935.00" stroke="#000" stroke-width="2.6" />
<line x1="228.10" y1="935.00" x2="241.70" y2="935.00" stroke="#000" stroke-width="2.6" />
<line x1="234.90" y1="928.40" x2="234.90" y2="941.60" stroke="#000" stroke-width="2.6" />
<line x1="310.40" y1="935.00" x2="317.00" y2="935.00" stroke="#000" stroke-width="2.6" />
<line x1="385.40" y1="935.00" x2="399.00" y2="935.00" stroke="#000" stroke-width="2.6" />
<line x1="392.20" y1="928.40" x2="392.20" y2="941.60" stroke="#000" stroke-width="2.6" />
<g transform="translate(489.50,492.40)" fill="#000" ><text x="-2.32" y="0" font-size="67.20" font-family="'Liberation Serif','Times New Roman',serif" font-weight="bold" textLength="30.18" lengthAdjust="spacingAndGlyphs" style="white-space:pre">e</text></g>
<path d="M529.0,664.8 L576.1,664.8 L576.1,664.8 L577.6,664.7 L579.1,664.4 L580.6,664.0 L582.1,663.4 L583.6,662.7 L585.1,661.8 L586.6,660.7 L588.1,660.1 L589.6,659.0 L591.1,657.5 L592.6,656.5 L594.1,655.3 L595.6,654.2 L597.1,652.8 L598.6,649.8 L600.1,647.5 L601.6,646.9 L603.1,643.4 L604.6,641.6 L606.1,635.6 L607.6,632.9 L609.1,629.5 L610.6,623.1 L612.1,620.4 L613.6,614.7 L615.1,606.7 L616.6,603.4 L618.1,603.1 L619.6,602.2 L621.1,596.4 L622.6,590.2 L624.1,585.0 L625.6,576.9 L627.1,570.7 L628.6,565.5 L630.1,560.7 L631.6,555.1 L633.1,551.0 L634.6,547.6 L636.1,545.6 L637.6,542.6 L639.1,539.9 L640.6,541.7 L642.1,539.7 L643.6,538.0 L645.1,532.0 L646.6,532.8 L648.1,535.3 L649.6,536.8 L651.1,540.1 L652.6,543.5 L654.1,545.5 L655.6,548.3 L657.1,548.5 L658.6,552.4 L660.1,554.9 L661.6,557.2 L663.1,562.1 L664.6,567.2 L666.1,571.5 L667.6,575.0 L669.1,580.3 L670.6,583.9 L672.1,590.2 L673.6,597.1 L675.1,600.4 L676.6,604.1 L678.1,609.7 L679.6,614.4 L681.1,618.5 L682.6,621.5 L684.1,625.6 L685.6,629.2 L687.1,633.0 L688.6,634.2 L690.1,635.6 L691.6,637.6 L693.1,637.8 L694.6,639.6 L696.1,643.2 L697.6,645.7 L699.1,646.7 L700.6,648.2 L702.1,649.6 L703.6,651.7 L705.1,653.6 L706.6,654.5 L708.1,655.3 L709.6,656.7 L711.1,657.1 L712.6,658.3 L714.1,659.4 L715.6,659.9 L717.1,660.4 L718.6,660.9 L720.1,661.5 L721.6,662.0 L723.1,662.4 L724.6,662.9 L726.1,663.3 L727.6,663.7 L729.1,664.0 L730.6,664.3 L732.1,664.5 L733.6,664.7 L735.1,664.8 L736.1,664.8 L833.5,664.8 Z" fill="#fac896" stroke="none"/>
<path d="M529.0,664.8 L576.1,664.8 L576.1,664.8 L577.6,664.7 L579.1,664.4 L580.6,664.0 L582.1,663.4 L583.6,662.7 L585.1,661.8 L586.6,660.7 L588.1,660.1 L589.6,659.0 L591.1,657.5 L592.6,656.5 L594.1,655.3 L595.6,654.2 L597.1,652.8 L598.6,649.8 L600.1,647.5 L601.6,646.9 L603.1,643.4 L604.6,641.6 L606.1,635.6 L607.6,632.9 L609.1,629.5 L610.6,623.1 L612.1,620.4 L613.6,614.7 L615.1,606.7 L616.6,603.4 L618.1,603.1 L619.6,602.2 L621.1,596.4 L622.6,590.2 L624.1,585.0 L625.6,576.9 L627.1,570.7 L628.6,565.5 L630.1,560.7 L631.6,555.1 L633.1,551.0 L634.6,547.6 L636.1,545.6 L637.6,542.6 L639.1,539.9 L640.6,541.7 L642.1,539.7 L643.6,538.0 L645.1,532.0 L646.6,532.8 L648.1,535.3 L649.6,536.8 L651.1,540.1 L652.6,543.5 L654.1,545.5 L655.6,548.3 L657.1,548.5 L658.6,552.4 L660.1,554.9 L661.6,557.2 L663.1,562.1 L664.6,567.2 L666.1,571.5 L667.6,575.0 L669.1,580.3 L670.6,583.9 L672.1,590.2 L673.6,597.1 L675.1,600.4 L676.6,604.1 L678.1,609.7 L679.6,614.4 L681.1,618.5 L682.6,621.5 L684.1,625.6 L685.6,629.2 L687.1,633.0 L688.6,634.2 L690.1,635.6 L691.6,637.6 L693.1,637.8 L694.6,639.6 L696.1,643.2 L697.6,645.7 L699.1,646.7 L700.6,648.2 L702.1,649.6 L703.6,651.7 L705.1,653.6 L706.6,654.5 L708.1,655.3 L709.6,656.7 L711.1,657.1 L712.6,658.3 L714.1,659.4 L715.6,659.9 L717.1,660.4 L718.6,660.9 L720.1,661.5 L721.6,662.0 L723.1,662.4 L724.6,662.9 L726.1,663.3 L727.6,663.7 L729.1,664.0 L730.6,664.3 L732.1,664.5 L733.6,664.7 L735.1,664.8 L736.1,664.8 L833.5,664.8" fill="none" stroke="#eb9a45" stroke-width="1.3"/>
<path d="M529.0,744.2 L599.7,744.2 L599.7,744.2 L601.2,743.6 L602.7,743.0 L604.2,742.3 L605.7,741.6 L607.2,740.9 L608.7,740.1 L610.2,738.9 L611.7,738.0 L613.2,737.4 L614.7,736.4 L616.2,735.4 L617.7,734.0 L619.2,733.1 L620.7,731.8 L622.2,730.2 L623.7,727.7 L625.2,725.6 L626.7,722.7 L628.2,720.3 L629.7,718.1 L631.2,715.4 L632.7,711.7 L634.2,708.6 L635.7,704.8 L637.2,700.4 L638.7,695.7 L640.2,691.4 L641.7,685.4 L643.2,678.7 L644.7,673.0 L646.2,666.7 L647.7,662.2 L649.2,657.8 L650.7,654.3 L652.2,652.3 L653.7,648.7 L655.2,645.8 L656.7,642.8 L658.2,637.4 L659.7,630.7 L661.2,625.9 L662.7,619.7 L664.2,614.8 L665.7,612.3 L667.2,611.0 L668.7,610.3 L670.2,607.1 L671.7,605.5 L673.2,602.8 L674.7,600.2 L676.2,602.6 L677.7,604.2 L679.2,605.5 L680.7,607.8 L682.2,610.3 L683.7,614.7 L685.2,617.9 L686.7,626.3 L688.2,635.3 L689.7,644.2 L691.2,650.6 L692.7,655.7 L694.2,662.1 L695.7,668.0 L697.2,671.9 L698.7,675.7 L700.2,679.6 L701.7,684.4 L703.2,689.9 L704.7,693.2 L706.2,699.4 L707.7,702.3 L709.2,708.3 L710.7,711.2 L712.2,716.5 L713.7,719.0 L715.2,721.4 L716.7,724.1 L718.2,726.7 L719.7,728.9 L721.2,730.5 L722.7,732.2 L724.2,733.9 L725.7,735.5 L727.2,736.4 L728.7,737.3 L730.2,738.7 L731.7,739.6 L733.2,740.5 L734.7,741.0 L736.2,741.7 L737.7,742.1 L739.2,742.5 L740.7,742.8 L742.2,743.1 L743.7,743.4 L745.2,743.7 L746.7,743.9 L748.2,744.0 L749.7,744.1 L751.2,744.2 L751.7,744.2 L833.5,744.2 Z" fill="#30d4d8" stroke="none"/>
<path d="M529.0,744.2 L599.7,744.2 L599.7,744.2 L601.2,743.6 L602.7,743.0 L604.2,742.3 L605.7,741.6 L607.2,740.9 L608.7,740.1 L610.2,738.9 L611.7,738.0 L613.2,737.4 L614.7,736.4 L616.2,735.4 L617.7,734.0 L619.2,733.1 L620.7,731.8 L622.2,730.2 L623.7,727.7 L625.2,725.6 L626.7,722.7 L628.2,720.3 L629.7,718.1 L631.2,715.4 L632.7,711.7 L634.2,708.6 L635.7,704.8 L637.2,700.4 L638.7,695.7 L640.2,691.4 L641.7,685.4 L643.2,678.7 L644.7,673.0 L646.2,666.7 L647.7,662.2 L649.2,657.8 L650.7,654.3 L652.2,652.3 L653.7,648.7 L655.2,645.8 L656.7,642.8 L658.2,637.4 L659.7,630.7 L661.2,625.9 L662.7,619.7 L664.2,614.8 L665.7,612.3 L667.2,611.0 L668.7,610.3 L670.2,607.1 L671.7,605.5 L673.2,602.8 L674.7,600.2 L676.2,602.6 L677.7,604.2 L679.2,605.5 L680.7,607.8 L682.2,610.3 L683.7,614.7 L685.2,617.9 L686.7,626.3 L688.2,635.3 L689.7,644.2 L691.2,650.6 L692.7,655.7 L694.2,662.1 L695.7,668.0 L697.2,671.9 L698.7,675.7 L700.2,679.6 L701.7,684.4 L703.2,689.9 L704.7,693.2 L706.2,699.4 L707.7,702.3 L709.2,708.3 L710.7,711.2 L712.2,716.5 L713.7,719.0 L715.2,721.4 L716.7,724.1 L718.2,726.7 L719.7,728.9 L721.2,730.5 L722.7,732.2 L724.2,733.9 L725.7,735.5 L727.2,736.4 L728.7,737.3 L730.2,738.7 L731.7,739.6 L733.2,740.5 L734.7,741.0 L736.2,741.7 L737.7,742.1 L739.2,742.5 L740.7,742.8 L742.2,743.1 L743.7,743.4 L745.2,743.7 L746.7,743.9 L748.2,744.0 L749.7,744.1 L751.2,744.2 L751.7,744.2 L833.5,744.2" fill="none" stroke="#3cc8d0" stroke-width="1.2"/>
<path d="M529.0,819.5 L584.0,819.5 L584.0,819.0 L585.5,818.7 L587.0,818.2 L588.5,817.5 L590.0,816.6 L591.5,815.5 L593.0,814.6 L594.5,813.3 L596.0,812.3 L597.5,810.9 L599.0,808.5 L600.5,806.4 L602.0,805.5 L603.5,802.0 L605.0,799.3 L606.5,798.7 L608.0,794.7 L609.5,793.3 L611.0,789.6 L612.5,787.7 L614.0,783.4 L615.5,782.5 L617.0,780.6 L618.5,776.4 L620.0,774.2 L621.5,770.7 L623.0,765.1 L624.5,764.1 L626.0,759.8 L627.5,754.8 L629.0,749.5 L630.5,747.7 L632.0,741.0 L633.5,734.9 L635.0,727.6 L636.5,719.8 L638.0,715.1 L639.5,708.6 L641.0,705.2 L642.5,699.2 L644.0,697.6 L645.5,696.2 L647.0,692.8 L648.5,692.1 L650.0,691.4 L651.5,692.3 L653.0,688.1 L654.5,689.1 L656.0,690.8 L657.5,691.1 L659.0,690.9 L660.5,694.8 L662.0,700.3 L663.5,705.1 L665.0,711.3 L666.5,715.6 L668.0,721.6 L669.5,726.6 L671.0,732.5 L672.5,736.6 L674.0,740.0 L675.5,747.3 L677.0,752.4 L678.5,756.8 L680.0,760.0 L681.5,764.7 L683.0,767.0 L684.5,773.1 L686.0,775.9 L687.5,778.5 L689.0,781.2 L690.5,787.6 L692.0,791.7 L693.5,792.3 L695.0,797.9 L696.5,800.0 L698.0,802.3 L699.5,804.9 L701.0,807.7 L702.5,809.6 L704.0,810.3 L705.5,812.4 L707.0,813.3 L708.5,814.9 L710.0,815.6 L711.5,816.6 L713.0,817.2 L714.5,817.9 L716.0,818.4 L717.5,818.8 L718.5,819.5 L833.5,819.5 Z" fill="#f84646" fill-opacity="0.86" stroke="none"/>
<g stroke="#000" stroke-width="3.2" stroke-dasharray="11 11.5" fill="none"><path d="M648.3,541 V664.8"/><path d="M675.1,601 L676.3,740" stroke-dashoffset="6.5"/><path d="M649.5,697 V819"/></g>
<rect x="528" y="505" width="307.6" height="315.8" fill="none" stroke="#000" stroke-width="4"/>
<line x1="568.80" y1="822.00" x2="568.80" y2="828.50" stroke="#000" stroke-width="2.6" />
<line x1="593.51" y1="822.00" x2="593.51" y2="826.00" stroke="#000" stroke-width="1.6" />
<line x1="607.97" y1="822.00" x2="607.97" y2="826.00" stroke="#000" stroke-width="1.6" />
<line x1="618.23" y1="822.00" x2="618.23" y2="826.00" stroke="#000" stroke-width="1.6" />
<line x1="626.19" y1="822.00" x2="626.19" y2="826.00" stroke="#000" stroke-width="1.6" />
<line x1="632.69" y1="822.00" x2="632.69" y2="826.00" stroke="#000" stroke-width="1.6" />
<line x1="638.18" y1="822.00" x2="638.18" y2="826.00" stroke="#000" stroke-width="1.6" />
<line x1="642.94" y1="822.00" x2="642.94" y2="826.00" stroke="#000" stroke-width="1.6" />
<line x1="647.14" y1="822.00" x2="647.14" y2="826.00" stroke="#000" stroke-width="1.6" />
<line x1="650.90" y1="822.00" x2="650.90" y2="828.50" stroke="#000" stroke-width="2.6" />
<line x1="675.61" y1="822.00" x2="675.61" y2="826.00" stroke="#000" stroke-width="1.6" />
<line x1="690.07" y1="822.00" x2="690.07" y2="826.00" stroke="#000" stroke-width="1.6" />
<line x1="700.33" y1="822.00" x2="700.33" y2="826.00" stroke="#000" stroke-width="1.6" />
<line x1="708.29" y1="822.00" x2="708.29" y2="826.00" stroke="#000" stroke-width="1.6" />
<line x1="714.79" y1="822.00" x2="714.79" y2="826.00" stroke="#000" stroke-width="1.6" />
<line x1="720.28" y1="822.00" x2="720.28" y2="826.00" stroke="#000" stroke-width="1.6" />
<line x1="725.04" y1="822.00" x2="725.04" y2="826.00" stroke="#000" stroke-width="1.6" />
<line x1="729.24" y1="822.00" x2="729.24" y2="826.00" stroke="#000" stroke-width="1.6" />
<line x1="733.00" y1="822.00" x2="733.00" y2="828.50" stroke="#000" stroke-width="2.6" />
<line x1="757.71" y1="822.00" x2="757.71" y2="826.00" stroke="#000" stroke-width="1.6" />
<line x1="772.17" y1="822.00" x2="772.17" y2="826.00" stroke="#000" stroke-width="1.6" />
<line x1="782.43" y1="822.00" x2="782.43" y2="826.00" stroke="#000" stroke-width="1.6" />
<line x1="790.39" y1="822.00" x2="790.39" y2="826.00" stroke="#000" stroke-width="1.6" />
<line x1="796.89" y1="822.00" x2="796.89" y2="826.00" stroke="#000" stroke-width="1.6" />
<line x1="802.38" y1="822.00" x2="802.38" y2="826.00" stroke="#000" stroke-width="1.6" />
<line x1="807.14" y1="822.00" x2="807.14" y2="826.00" stroke="#000" stroke-width="1.6" />
<line x1="811.34" y1="822.00" x2="811.34" y2="826.00" stroke="#000" stroke-width="1.6" />
<line x1="815.10" y1="822.00" x2="815.10" y2="828.50" stroke="#000" stroke-width="2.6" />
<line x1="536.13" y1="822.00" x2="536.13" y2="826.00" stroke="#000" stroke-width="1.6" />
<line x1="544.09" y1="822.00" x2="544.09" y2="826.00" stroke="#000" stroke-width="1.6" />
<line x1="550.59" y1="822.00" x2="550.59" y2="826.00" stroke="#000" stroke-width="1.6" />
<line x1="556.08" y1="822.00" x2="556.08" y2="826.00" stroke="#000" stroke-width="1.6" />
<line x1="560.84" y1="822.00" x2="560.84" y2="826.00" stroke="#000" stroke-width="1.6" />
<line x1="565.04" y1="822.00" x2="565.04" y2="826.00" stroke="#000" stroke-width="1.6" />
<g transform="translate(562.40,858.40)" fill="#000" ><text x="-1.38" y="0" font-size="17.74" font-family="'Liberation Serif','Times New Roman',serif" font-weight="bold" textLength="17.24" lengthAdjust="spacingAndGlyphs" style="white-space:pre">10</text></g>
<g transform="translate(578.10,847.60)" fill="#000" ><text x="0.22" y="0" font-size="15.80" font-family="'Liberation Serif','Times New Roman',serif" font-weight="bold" font-style="italic" textLength="7.11" lengthAdjust="spacingAndGlyphs" style="white-space:pre">4</text></g>
<g transform="translate(644.50,858.40)" fill="#000" ><text x="-1.38" y="0" font-size="17.74" font-family="'Liberation Serif','Times New Roman',serif" font-weight="bold" textLength="17.24" lengthAdjust="spacingAndGlyphs" style="white-space:pre">10</text></g>
<g transform="translate(660.20,847.60)" fill="#000" ><text x="-0.17" y="0" font-size="15.88" font-family="'Liberation Serif','Times New Roman',serif" font-weight="bold" font-style="italic" textLength="7.45" lengthAdjust="spacingAndGlyphs" style="white-space:pre">5</text></g>
<g transform="translate(726.60,858.40)" fill="#000" ><text x="-1.38" y="0" font-size="17.74" font-family="'Liberation Serif','Times New Roman',serif" font-weight="bold" textLength="17.24" lengthAdjust="spacingAndGlyphs" style="white-space:pre">10</text></g>
<g transform="translate(742.30,847.60)" fill="#000" ><text x="-0.51" y="0" font-size="15.71" font-family="'Liberation Serif','Times New Roman',serif" font-weight="bold" font-style="italic" textLength="7.41" lengthAdjust="spacingAndGlyphs" style="white-space:pre">6</text></g>
<g transform="translate(803.60,858.40)" fill="#000" ><text x="-1.38" y="0" font-size="17.74" font-family="'Liberation Serif','Times New Roman',serif" font-weight="bold" textLength="17.24" lengthAdjust="spacingAndGlyphs" style="white-space:pre">10</text></g>
<g transform="translate(819.30,847.60)" fill="#000" ><text x="-0.59" y="0" font-size="15.88" font-family="'Liberation Serif','Times New Roman',serif" font-weight="bold" font-style="italic" textLength="7.02" lengthAdjust="spacingAndGlyphs" style="white-space:pre">7</text></g>
<g transform="translate(601.00,900.70)" fill="#000" ><text x="-0.44" y="0" font-size="22.48" font-family="'Liberation Serif','Times New Roman',serif" font-weight="bold" textLength="195.08" lengthAdjust="spacingAndGlyphs" style="white-space:pre">DCF Fluorescence</text></g>
<g transform="translate(504.30,697.70) rotate(-90)" fill="#000" ><text x="-1.41" y="0" font-size="31.72" font-family="'Liberation Serif','Times New Roman',serif" font-weight="bold" textLength="77.04" lengthAdjust="spacingAndGlyphs" style="white-space:pre">Count</text></g>
<g transform="translate(602.80,531.20)" fill="#e9764f" stroke="#e9764f" stroke-width="1.0"><text x="-1.64" y="0" font-size="23.06" font-family="'Liberation Sans',Arial,sans-serif" textLength="42.44" lengthAdjust="spacingAndGlyphs" style="white-space:pre">p53</text><text x="40.80" y="0" font-size="23.06" font-family="'Liberation Serif','Times New Roman',serif" textLength="180.42" lengthAdjust="spacingAndGlyphs" style="white-space:pre"> siRNA+ZnONPs</text></g>
<g transform="translate(722.90,696.70)" fill="#1d8fdc" stroke="#1d8fdc" stroke-width="0.6"><text x="-1.26" y="0" font-size="24.47" font-family="'Liberation Serif','Times New Roman',serif" textLength="92.31" lengthAdjust="spacingAndGlyphs" style="white-space:pre">ZnONPs</text></g>
<g transform="translate(712.00,778.90)" fill="#d3173f" ><text x="-1.29" y="0" font-size="23.06" font-family="'Liberation Serif','Times New Roman',serif" font-weight="bold" textLength="98.42" lengthAdjust="spacingAndGlyphs" style="white-space:pre">Scramble</text></g>
<rect x="846.5" y="563.1" width="39.1" height="7.2" fill="#f0aa78"/>
<g transform="translate(897.40,574.40)" fill="#000" ><text x="-0.38" y="0" font-size="21.95" font-family="'Liberation Serif','Times New Roman',serif" font-weight="bold" textLength="115.80" lengthAdjust="spacingAndGlyphs" style="white-space:pre">MFI:131308</text></g>
<rect x="846.5" y="681.7" width="39.1" height="7.2" fill="#1aa6e6"/>
<g transform="translate(897.40,696.30)" fill="#000" ><text x="-0.38" y="0" font-size="21.95" font-family="'Liberation Serif','Times New Roman',serif" font-weight="bold" textLength="115.91" lengthAdjust="spacingAndGlyphs" style="white-space:pre">MFI:224300</text></g>
<rect x="846.5" y="772.4" width="39.1" height="7.2" fill="#ec1261"/>
<g transform="translate(897.40,784.30)" fill="#000" ><text x="-0.38" y="0" font-size="21.95" font-family="'Liberation Serif','Times New Roman',serif" font-weight="bold" textLength="115.91" lengthAdjust="spacingAndGlyphs" style="white-space:pre">MFI:124790</text></g>
<g transform="translate(1079.50,480.40)" fill="#000" ><text x="-0.55" y="0" font-size="63.06" font-family="'Liberation Serif','Times New Roman',serif" font-weight="bold" textLength="24.92" lengthAdjust="spacingAndGlyphs" style="white-space:pre">f</text></g>
<line x1="1175.70" y1="551.00" x2="1175.70" y2="811.50" stroke="#000" stroke-width="3.5" />
<line x1="1167.70" y1="552.50" x2="1175.70" y2="552.50" stroke="#000" stroke-width="3.5" />
<line x1="1167.70" y1="638.00" x2="1175.70" y2="638.00" stroke="#000" stroke-width="3.5" />
<line x1="1167.70" y1="724.50" x2="1175.70" y2="724.50" stroke="#000" stroke-width="3.5" />
<line x1="1167.70" y1="810.00" x2="1175.70" y2="810.00" stroke="#000" stroke-width="3.5" />
<line x1="1168.00" y1="810.00" x2="1457.00" y2="810.00" stroke="#000" stroke-width="3.5" />
<line x1="1210.60" y1="810.00" x2="1210.60" y2="816.70" stroke="#000" stroke-width="3.5" />
<line x1="1280.80" y1="810.00" x2="1280.80" y2="816.70" stroke="#000" stroke-width="3.5" />
<line x1="1349.80" y1="810.00" x2="1349.80" y2="816.70" stroke="#000" stroke-width="3.5" />
<line x1="1419.30" y1="810.00" x2="1419.30" y2="816.70" stroke="#000" stroke-width="3.5" />
<g transform="translate(1136.40,559.50)" fill="#000" ><text x="-1.91" y="0" font-size="18.93" font-family="'Liberation Serif','Times New Roman',serif" font-weight="bold" textLength="29.89" lengthAdjust="spacingAndGlyphs" style="white-space:pre">1.5</text></g>
<g transform="translate(1136.40,645.00)" fill="#000" ><text x="-1.92" y="0" font-size="18.80" font-family="'Liberation Serif','Times New Roman',serif" font-weight="bold" textLength="29.93" lengthAdjust="spacingAndGlyphs" style="white-space:pre">1.0</text></g>
<g transform="translate(1136.40,731.50)" fill="#000" ><text x="-0.88" y="0" font-size="18.80" font-family="'Liberation Serif','Times New Roman',serif" font-weight="bold" textLength="28.82" lengthAdjust="spacingAndGlyphs" style="white-space:pre">0.5</text></g>
<g transform="translate(1136.40,817.00)" fill="#000" ><text x="-0.88" y="0" font-size="18.80" font-family="'Liberation Serif','Times New Roman',serif" font-weight="bold" textLength="28.86" lengthAdjust="spacingAndGlyphs" style="white-space:pre">0.0</text></g>
<rect x="1203.00" y="633.50" width="17.00" height="4.00" fill="#000"/>
<rect x="1271.00" y="760.50" width="20.00" height="4.50" fill="#000"/>
<line x1="1350.30" y1="748.00" x2="1350.30" y2="743.70" stroke="#000" stroke-width="3" />
<rect x="1341.00" y="742.00" width="18.50" height="3.50" fill="#000"/>
<line x1="1419.30" y1="720.00" x2="1419.30" y2="710.20" stroke="#000" stroke-width="3" />
<rect x="1411.40" y="708.50" width="16.20" height="3.50" fill="#000"/>
<rect x="1194.45" y="638.65" width="33.40" height="171.35" fill="#fff" stroke="#000" stroke-width="3.7"/>
<rect x="1263.85" y="766.45" width="34.10" height="43.55" fill="#000" stroke="#000" stroke-width="3.7"/>
<rect x="1332.85" y="749.85" width="34.90" height="60.15" fill="#fe0000" stroke="#000" stroke-width="3.7"/>
<rect x="1402.45" y="721.45" width="33.70" height="88.55" fill="#8c8cff" stroke="#000" stroke-width="3.7"/>
<path d="M1212.6,561.7 V536.1 H1269.8 V614.2" fill="none" stroke="#000" stroke-width="4.4" stroke-linejoin="miter" stroke-linecap="butt" />
<path d="M1280.1,614.2 V536.1 H1410.9 V571" fill="none" stroke="#000" stroke-width="4.4" stroke-linejoin="miter" stroke-linecap="butt" />
<g transform="translate(1200.00,523.00)" fill="#000" ><text x="-0.42" y="0" font-size="23.76" font-family="'Liberation Serif','Times New Roman',serif" font-weight="bold" textLength="84.19" lengthAdjust="spacingAndGlyphs" style="white-space:pre">P&lt;0.001</text></g>
<g transform="translate(1306.40,523.00)" fill="#000" ><text x="-0.42" y="0" font-size="23.76" font-family="'Liberation Serif','Times New Roman',serif" font-weight="bold" textLength="72.20" lengthAdjust="spacingAndGlyphs" style="white-space:pre">P&lt;0.01</text></g>
<g transform="translate(1113.40,761.60) rotate(-90)" fill="#000" ><text x="-0.50" y="0" font-size="29.45" font-family="'Liberation Serif','Times New Roman',serif" font-weight="bold" font-style="italic" textLength="110.97" lengthAdjust="spacingAndGlyphs" style="white-space:pre">SLC7A11</text><text x="110.47" y="0" font-size="29.45" font-family="'Liberation Serif','Times New Roman',serif" font-weight="bold" textLength="90.13" lengthAdjust="spacingAndGlyphs" style="white-space:pre"> mRNA</text></g>
<g transform="translate(1076.40,863.30)" fill="#000" ><text x="-1.33" y="0" font-size="21.91" font-family="'Liberation Serif','Times New Roman',serif" font-weight="bold" textLength="101.68" lengthAdjust="spacingAndGlyphs" style="white-space:pre">Scramble</text></g>
<g transform="translate(1069.20,900.90)" fill="#000" ><text x="-0.31" y="0" font-size="22.20" font-family="'Liberation Serif','Times New Roman',serif" font-weight="bold" textLength="114.59" lengthAdjust="spacingAndGlyphs" style="white-space:pre">p53 siRNA</text></g>
<g transform="translate(1077.50,937.30)" fill="#000" ><text x="-1.18" y="0" font-size="23.11" font-family="'Liberation Serif','Times New Roman',serif" font-weight="bold" textLength="98.29" lengthAdjust="spacingAndGlyphs" style="white-space:pre">ZnO NPs</text></g>
<line x1="1204.20" y1="857.70" x2="1217.80" y2="857.70" stroke="#000" stroke-width="2.6" />
<line x1="1211.00" y1="851.10" x2="1211.00" y2="864.30" stroke="#000" stroke-width="2.6" />
<line x1="1268.00" y1="857.70" x2="1281.60" y2="857.70" stroke="#000" stroke-width="2.6" />
<line x1="1274.80" y1="851.10" x2="1274.80" y2="864.30" stroke="#000" stroke-width="2.6" />
<line x1="1338.30" y1="857.70" x2="1344.90" y2="857.70" stroke="#000" stroke-width="2.6" />
<line x1="1405.10" y1="857.70" x2="1411.70" y2="857.70" stroke="#000" stroke-width="2.6" />
<line x1="1207.70" y1="894.70" x2="1214.30" y2="894.70" stroke="#000" stroke-width="2.6" />
<line x1="1271.50" y1="894.70" x2="1278.10" y2="894.70" stroke="#000" stroke-width="2.6" />
<line x1="1334.80" y1="894.70" x2="1348.40" y2="894.70" stroke="#000" stroke-width="2.6" />
<line x1="1341.60" y1="888.10" x2="1341.60" y2="901.30" stroke="#000" stroke-width="2.6" />
<line x1="1401.60" y1="894.70" x2="1415.20" y2="894.70" stroke="#000" stroke-width="2.6" />
<line x1="1408.40" y1="888.10" x2="1408.40" y2="901.30" stroke="#000" stroke-width="2.6" />
<line x1="1207.70" y1="927.60" x2="1214.30" y2="927.60" stroke="#000" stroke-width="2.6" />
<line x1="1268.00" y1="927.60" x2="1281.60" y2="927.60" stroke="#000" stroke-width="2.6" />
<line x1="1274.80" y1="921.00" x2="1274.80" y2="934.20" stroke="#000" stroke-width="2.6" />
<line x1="1338.30" y1="927.60" x2="1344.90" y2="927.60" stroke="#000" stroke-width="2.6" />
<line x1="1401.60" y1="927.60" x2="1415.20" y2="927.60" stroke="#000" stroke-width="2.6" />
<line x1="1408.40" y1="921.00" x2="1408.40" y2="934.20" stroke="#000" stroke-width="2.6" />
<g transform="translate(1534.30,481.60)" fill="#000" ><text x="-1.72" y="0" font-size="60.60" font-family="'Liberation Serif','Times New Roman',serif" font-weight="bold" textLength="32.66" lengthAdjust="spacingAndGlyphs" style="white-space:pre">g</text></g>
<line x1="1637.50" y1="551.50" x2="1637.50" y2="811.20" stroke="#000" stroke-width="3.5" />
<line x1="1629.50" y1="553.00" x2="1637.50" y2="553.00" stroke="#000" stroke-width="3.5" />
<line x1="1629.50" y1="617.00" x2="1637.50" y2="617.00" stroke="#000" stroke-width="3.5" />
<line x1="1629.50" y1="682.30" x2="1637.50" y2="682.30" stroke="#000" stroke-width="3.5" />
<line x1="1629.50" y1="745.70" x2="1637.50" y2="745.70" stroke="#000" stroke-width="3.5" />
<line x1="1629.50" y1="809.70" x2="1637.50" y2="809.70" stroke="#000" stroke-width="3.5" />
<line x1="1630.00" y1="809.70" x2="1944.00" y2="809.70" stroke="#000" stroke-width="3.5" />
<line x1="1676.30" y1="809.70" x2="1676.30" y2="817.00" stroke="#000" stroke-width="3.5" />
<line x1="1752.30" y1="809.70" x2="1752.30" y2="817.00" stroke="#000" stroke-width="3.5" />
<line x1="1828.60" y1="809.70" x2="1828.60" y2="817.00" stroke="#000" stroke-width="3.5" />
<line x1="1905.30" y1="809.70" x2="1905.30" y2="817.00" stroke="#000" stroke-width="3.5" />
<g transform="translate(1618.70,559.50)" fill="#000" ><text x="-0.30" y="0" font-size="17.47" font-family="'Liberation Serif','Times New Roman',serif" font-weight="bold" textLength="10.90" lengthAdjust="spacingAndGlyphs" style="white-space:pre">4</text></g>
<g transform="translate(1618.70,623.50)" fill="#000" ><text x="-0.90" y="0" font-size="17.37" font-family="'Liberation Serif','Times New Roman',serif" font-weight="bold" textLength="11.91" lengthAdjust="spacingAndGlyphs" style="white-space:pre">3</text></g>
<g transform="translate(1618.70,688.80)" fill="#000" ><text x="-1.03" y="0" font-size="17.37" font-family="'Liberation Serif','Times New Roman',serif" font-weight="bold" textLength="12.29" lengthAdjust="spacingAndGlyphs" style="white-space:pre">2</text></g>
<g transform="translate(1619.70,752.20)" fill="#000" ><text x="-2.00" y="0" font-size="17.42" font-family="'Liberation Serif','Times New Roman',serif" font-weight="bold" textLength="12.49" lengthAdjust="spacingAndGlyphs" style="white-space:pre">1</text></g>
<g transform="translate(1618.70,816.20)" fill="#000" ><text x="-0.92" y="0" font-size="17.29" font-family="'Liberation Serif','Times New Roman',serif" font-weight="bold" textLength="12.03" lengthAdjust="spacingAndGlyphs" style="white-space:pre">0</text></g>
<rect x="1666.00" y="741.50" width="20.00" height="3.50" fill="#000"/>
<line x1="1751.50" y1="603.00" x2="1751.50" y2="571.50" stroke="#000" stroke-width="3" />
<rect x="1743.40" y="569.80" width="18.60" height="3.50" fill="#000"/>
<rect x="1819.00" y="776.00" width="20.00" height="3.50" fill="#000"/>
<rect x="1896.00" y="701.80" width="20.00" height="5.20" fill="#000"/>
<rect x="1658.15" y="746.05" width="36.00" height="63.65" fill="#fff" stroke="#000" stroke-width="3.7"/>
<rect x="1734.85" y="604.15" width="35.90" height="205.55" fill="#000" stroke="#000" stroke-width="3.7"/>
<rect x="1810.85" y="780.15" width="36.30" height="29.55" fill="#fe0000" stroke="#000" stroke-width="3.7"/>
<rect x="1887.85" y="707.85" width="36.00" height="101.85" fill="#8c8cff" stroke="#000" stroke-width="3.7"/>
<path d="M1678.2,596.7 V533.8 H1746.5 V559.5" fill="none" stroke="#000" stroke-width="4.4" stroke-linejoin="miter" stroke-linecap="butt" />
<path d="M1754.5,559.5 V533.8 H1905.3 V612.6" fill="none" stroke="#000" stroke-width="4.4" stroke-linejoin="miter" stroke-linecap="butt" />
<g transform="translate(1658.30,516.60)" fill="#000" ><text x="-0.42" y="0" font-size="23.61" font-family="'Liberation Serif','Times New Roman',serif" font-weight="bold" textLength="84.19" lengthAdjust="spacingAndGlyphs" style="white-space:pre">P&lt;0.001</text></g>
<g transform="translate(1799.20,516.70)" fill="#000" ><text x="-0.42" y="0" font-size="23.76" font-family="'Liberation Serif','Times New Roman',serif" font-weight="bold" textLength="84.29" lengthAdjust="spacingAndGlyphs" style="white-space:pre">P&lt;0.001</text></g>
<g transform="translate(1580.80,757.60) rotate(-90)" fill="#000" ><text x="-0.50" y="0" font-size="28.09" font-family="'Liberation Serif','Times New Roman',serif" font-weight="bold" font-style="italic" textLength="64.84" lengthAdjust="spacingAndGlyphs" style="white-space:pre">SAT1</text><text x="64.33" y="0" font-size="28.09" font-family="'Liberation Serif','Times New Roman',serif" font-weight="bold" textLength="90.27" lengthAdjust="spacingAndGlyphs" style="white-space:pre"> mRNA</text></g>
<g transform="translate(1531.00,855.50)" fill="#000" ><text x="-1.34" y="0" font-size="22.05" font-family="'Liberation Serif','Times New Roman',serif" font-weight="bold" textLength="102.09" lengthAdjust="spacingAndGlyphs" style="white-space:pre">Scramble</text></g>
<g transform="translate(1524.00,895.60)" fill="#000" ><text x="-0.31" y="0" font-size="22.48" font-family="'Liberation Serif','Times New Roman',serif" font-weight="bold" textLength="113.99" lengthAdjust="spacingAndGlyphs" style="white-space:pre">p53 siRNA</text></g>
<g transform="translate(1532.00,935.70)" fill="#000" ><text x="-1.20" y="0" font-size="22.50" font-family="'Liberation Serif','Times New Roman',serif" font-weight="bold" textLength="99.31" lengthAdjust="spacingAndGlyphs" style="white-space:pre">ZnO NPs</text></g>
<line x1="1667.40" y1="857.10" x2="1681.00" y2="857.10" stroke="#000" stroke-width="2.6" />
<line x1="1674.20" y1="850.50" x2="1674.20" y2="863.70" stroke="#000" stroke-width="2.6" />
<line x1="1744.90" y1="857.10" x2="1758.50" y2="857.10" stroke="#000" stroke-width="2.6" />
<line x1="1751.70" y1="850.50" x2="1751.70" y2="863.70" stroke="#000" stroke-width="2.6" />
<line x1="1829.00" y1="857.10" x2="1835.60" y2="857.10" stroke="#000" stroke-width="2.6" />
<line x1="1910.40" y1="857.10" x2="1917.00" y2="857.10" stroke="#000" stroke-width="2.6" />
<line x1="1670.90" y1="893.80" x2="1677.50" y2="893.80" stroke="#000" stroke-width="2.6" />
<line x1="1748.40" y1="893.80" x2="1755.00" y2="893.80" stroke="#000" stroke-width="2.6" />
<line x1="1825.50" y1="893.80" x2="1839.10" y2="893.80" stroke="#000" stroke-width="2.6" />
<line x1="1832.30" y1="887.20" x2="1832.30" y2="900.40" stroke="#000" stroke-width="2.6" />
<line x1="1906.90" y1="893.80" x2="1920.50" y2="893.80" stroke="#000" stroke-width="2.6" />
<line x1="1913.70" y1="887.20" x2="1913.70" y2="900.40" stroke="#000" stroke-width="2.6" />
<line x1="1670.90" y1="926.60" x2="1677.50" y2="926.60" stroke="#000" stroke-width="2.6" />
<line x1="1744.90" y1="926.60" x2="1758.50" y2="926.60" stroke="#000" stroke-width="2.6" />
<line x1="1751.70" y1="920.00" x2="1751.70" y2="933.20" stroke="#000" stroke-width="2.6" />
<line x1="1829.00" y1="926.60" x2="1835.60" y2="926.60" stroke="#000" stroke-width="2.6" />
<line x1="1906.90" y1="926.60" x2="1920.50" y2="926.60" stroke="#000" stroke-width="2.6" />
<line x1="1913.70" y1="920.00" x2="1913.70" y2="933.20" stroke="#000" stroke-width="2.6" />
</svg>
</body></html>
